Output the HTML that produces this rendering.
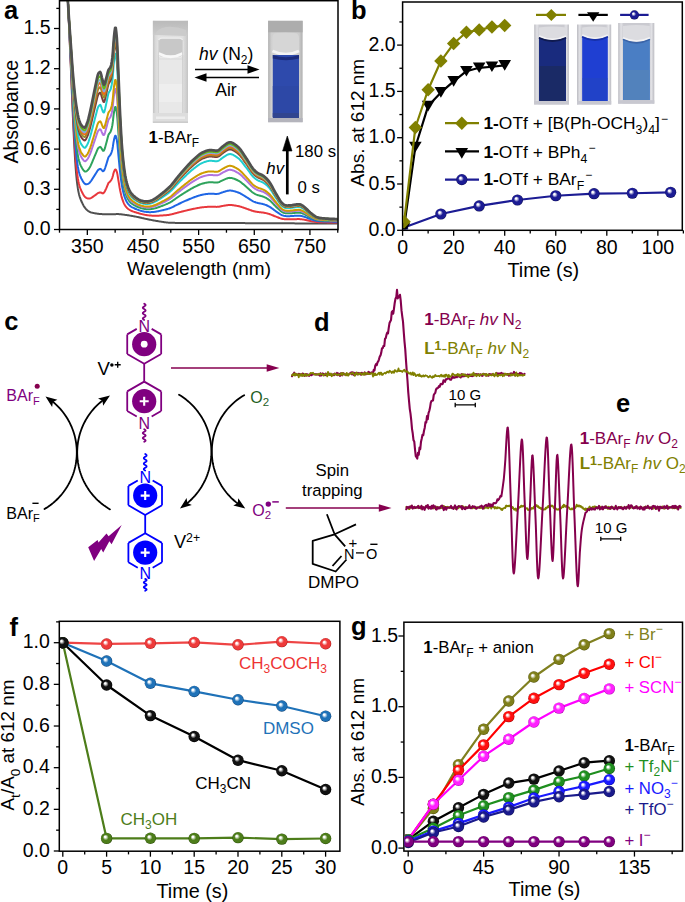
<!DOCTYPE html><html><head><meta charset="utf-8"><style>html,body{margin:0;padding:0;background:#fff;}svg{display:block;}</style></head><body><svg width="685" height="902" viewBox="0 0 685 902" font-family='"Liberation Sans", sans-serif'><rect width="685" height="902" fill="#fff"/><defs><clipPath id="clipA"><rect x="60" y="1.2" width="277.3" height="227.6"/></clipPath><clipPath id="clipB"><rect x="403.3" y="2.6" width="278.3" height="227"/></clipPath><clipPath id="clipF"><rect x="60" y="622" width="279.3" height="228.5"/></clipPath><clipPath id="clipG"><rect x="404.5" y="622.8" width="277.5" height="227.6"/></clipPath></defs>
<g clip-path="url(#clipA)">
<path d="M59.5,-172.5 L60.06,-162.11 L60.61,-151.59 L61.17,-140.85 L61.73,-129.85 L62.28,-118.54 L62.84,-106.92 L63.4,-95.02 L63.95,-82.94 L64.51,-70.83 L65.06,-58.79 L65.62,-46.88 L66.18,-35.07 L66.73,-23.28 L67.29,-11.45 L67.85,0.48 L68.4,12.53 L68.96,24.71 L69.52,37.05 L70.07,49.63 L70.63,62.57 L71.19,75.91 L71.74,89.49 L72.3,102.98 L72.86,115.94 L73.41,128.13 L73.97,139.49 L74.53,149.98 L75.08,159.46 L75.64,167.67 L76.19,174.51 L76.75,180.09 L77.31,184.66 L77.86,188.46 L78.42,191.6 L78.98,194.16 L79.53,196.24 L80.09,197.97 L80.65,199.45 L81.2,200.77 L81.76,202 L82.32,203.18 L82.87,204.31 L83.43,205.38 L83.99,206.35 L84.54,207.21 L85.1,207.96 L85.66,208.63 L86.21,209.22 L86.77,209.77 L87.33,210.27 L87.88,210.72 L88.44,211.13 L88.99,211.48 L89.55,211.79 L90.11,212.04 L90.66,212.25 L91.22,212.44 L91.78,212.6 L92.33,212.75 L92.89,212.89 L93.45,213.01 L94,213.12 L94.56,213.23 L95.12,213.32 L95.67,213.42 L96.23,213.51 L96.79,213.59 L97.34,213.67 L97.9,213.75 L98.45,213.82 L99.01,213.89 L99.57,213.95 L100.12,214 L100.68,214.05 L101.24,214.08 L101.79,214.12 L102.35,214.15 L102.91,214.17 L103.46,214.2 L104.02,214.22 L104.58,214.25 L105.13,214.27 L105.69,214.29 L106.25,214.3 L106.8,214.32 L107.36,214.33 L107.92,214.34 L108.47,214.35 L109.03,214.35 L109.59,214.35 L110.14,214.35 L110.7,214.34 L111.25,214.33 L111.81,214.31 L112.37,214.29 L112.92,214.26 L113.48,214.24 L114.04,214.21 L114.59,214.19 L115.15,214.16 L115.71,214.14 L116.26,214.12 L116.82,214.11 L117.38,214.1 L117.93,214.1 L118.49,214.11 L119.05,214.13 L119.6,214.16 L120.16,214.21 L120.72,214.26 L121.27,214.32 L121.83,214.39 L122.38,214.46 L122.94,214.54 L123.5,214.62 L124.05,214.7 L124.61,214.79 L125.17,214.87 L125.72,214.95 L126.28,215.03 L126.84,215.11 L127.39,215.19 L127.95,215.27 L128.51,215.35 L129.06,215.44 L129.62,215.53 L130.18,215.63 L130.73,215.72 L131.29,215.82 L131.84,215.91 L132.4,216.01 L132.96,216.12 L133.51,216.22 L134.07,216.32 L134.63,216.43 L135.18,216.53 L135.74,216.64 L136.3,216.75 L136.85,216.86 L137.41,216.97 L137.97,217.09 L138.52,217.21 L139.08,217.33 L139.64,217.46 L140.19,217.58 L140.75,217.71 L141.31,217.84 L141.86,217.97 L142.42,218.1 L142.97,218.23 L143.53,218.35 L144.09,218.48 L144.64,218.61 L145.2,218.74 L145.76,218.86 L146.31,218.98 L146.87,219.1 L147.43,219.22 L147.98,219.34 L148.54,219.45 L149.1,219.56 L149.65,219.67 L150.21,219.78 L150.77,219.89 L151.32,220 L151.88,220.11 L152.44,220.21 L152.99,220.32 L153.55,220.42 L154.11,220.53 L154.66,220.63 L155.22,220.73 L155.77,220.83 L156.33,220.93 L156.89,221.02 L157.44,221.11 L158,221.2 L158.56,221.29 L159.11,221.38 L159.67,221.46 L160.23,221.54 L160.78,221.63 L161.34,221.71 L161.9,221.8 L162.45,221.88 L163.01,221.97 L163.57,222.06 L164.12,222.14 L164.68,222.22 L165.24,222.3 L165.79,222.37 L166.35,222.45 L166.9,222.51 L167.46,222.57 L168.02,222.63 L168.57,222.68 L169.13,222.72 L169.69,222.75 L170.24,222.78 L170.8,222.8 L171.36,222.81 L171.91,222.82 L172.47,222.83 L173.03,222.84 L173.58,222.85 L174.14,222.86 L174.7,222.87 L175.25,222.88 L175.81,222.89 L176.37,222.9 L176.92,222.91 L177.48,222.92 L178.03,222.93 L178.59,222.93 L179.15,222.94 L179.7,222.95 L180.26,222.96 L180.82,222.96 L181.37,222.97 L181.93,222.98 L182.49,222.98 L183.04,222.99 L183.6,222.99 L184.16,223 L184.71,223 L185.27,223.01 L185.83,223.01 L186.38,223.02 L186.94,223.02 L187.5,223.03 L188.05,223.03 L188.61,223.04 L189.16,223.04 L189.72,223.04 L190.28,223.05 L190.83,223.05 L191.39,223.05 L191.95,223.05 L192.5,223.06 L193.06,223.06 L193.62,223.06 L194.17,223.06 L194.73,223.06 L195.29,223.06 L195.84,223.07 L196.4,223.07 L196.96,223.07 L197.51,223.07 L198.07,223.07 L198.62,223.07 L199.18,223.07 L199.74,223.07 L200.29,223.07 L200.85,223.07 L201.41,223.07 L201.96,223.07 L202.52,223.07 L203.08,223.07 L203.63,223.07 L204.19,223.07 L204.75,223.07 L205.3,223.07 L205.86,223.07 L206.42,223.07 L206.97,223.07 L207.53,223.07 L208.09,223.07 L208.64,223.07 L209.2,223.07 L209.75,223.07 L210.31,223.07 L210.87,223.07 L211.42,223.07 L211.98,223.07 L212.54,223.07 L213.09,223.07 L213.65,223.07 L214.21,223.07 L214.76,223.07 L215.32,223.07 L215.88,223.07 L216.43,223.07 L216.99,223.07 L217.55,223.07 L218.1,223.07 L218.66,223.07 L219.22,223.07 L219.77,223.07 L220.33,223.07 L220.88,223.07 L221.44,223.07 L222,223.07 L222.55,223.07 L223.11,223.07 L223.67,223.07 L224.22,223.07 L224.78,223.07 L225.34,223.07 L225.89,223.07 L226.45,223.07 L227.01,223.07 L227.56,223.07 L228.12,223.07 L228.68,223.07 L229.23,223.07 L229.79,223.07 L230.35,223.07 L230.9,223.07 L231.46,223.07 L232.01,223.07 L232.57,223.08 L233.13,223.08 L233.68,223.08 L234.24,223.08 L234.8,223.08 L235.35,223.08 L235.91,223.08 L236.47,223.09 L237.02,223.09 L237.58,223.09 L238.14,223.09 L238.69,223.09 L239.25,223.1 L239.81,223.1 L240.36,223.1 L240.92,223.1 L241.48,223.11 L242.03,223.11 L242.59,223.11 L243.15,223.11 L243.7,223.12 L244.26,223.12 L244.81,223.12 L245.37,223.13 L245.93,223.13 L246.48,223.13 L247.04,223.14 L247.6,223.14 L248.15,223.14 L248.71,223.15 L249.27,223.15 L249.82,223.15 L250.38,223.16 L250.94,223.16 L251.49,223.16 L252.05,223.17 L252.61,223.17 L253.16,223.17 L253.72,223.18 L254.28,223.18 L254.83,223.18 L255.39,223.19 L255.94,223.19 L256.5,223.19 L257.06,223.2 L257.61,223.2 L258.17,223.2 L258.73,223.21 L259.28,223.21 L259.84,223.22 L260.4,223.22 L260.95,223.22 L261.51,223.23 L262.07,223.23 L262.62,223.23 L263.18,223.24 L263.74,223.24 L264.29,223.24 L264.85,223.25 L265.4,223.25 L265.96,223.26 L266.52,223.26 L267.07,223.26 L267.63,223.27 L268.19,223.27 L268.74,223.27 L269.3,223.28 L269.86,223.28 L270.41,223.28 L270.97,223.29 L271.53,223.29 L272.08,223.29 L272.64,223.29 L273.2,223.3 L273.75,223.3 L274.31,223.3 L274.87,223.31 L275.42,223.31 L275.98,223.31 L276.53,223.31 L277.09,223.32 L277.65,223.32 L278.2,223.32 L278.76,223.32 L279.32,223.33 L279.87,223.33 L280.43,223.33 L280.99,223.33 L281.54,223.33 L282.1,223.34 L282.66,223.34 L283.21,223.34 L283.77,223.34 L284.33,223.34 L284.88,223.34 L285.44,223.35 L286,223.35 L286.55,223.35 L287.11,223.35 L287.66,223.35 L288.22,223.36 L288.78,223.36 L289.33,223.36 L289.89,223.36 L290.45,223.36 L291,223.36 L291.56,223.37 L292.12,223.37 L292.67,223.37 L293.23,223.37 L293.79,223.37 L294.34,223.37 L294.9,223.38 L295.46,223.38 L296.01,223.38 L296.57,223.38 L297.13,223.38 L297.68,223.38 L298.24,223.39 L298.79,223.39 L299.35,223.39 L299.91,223.39 L300.46,223.39 L301.02,223.39 L301.58,223.39 L302.13,223.4 L302.69,223.4 L303.25,223.4 L303.8,223.4 L304.36,223.4 L304.92,223.4 L305.47,223.41 L306.03,223.41 L306.59,223.41 L307.14,223.41 L307.7,223.41 L308.26,223.41 L308.81,223.41 L309.37,223.42 L309.93,223.42 L310.48,223.42 L311.04,223.42 L311.59,223.42 L312.15,223.42 L312.71,223.42 L313.26,223.43 L313.82,223.43 L314.38,223.43 L314.93,223.43 L315.49,223.43 L316.05,223.43 L316.6,223.43 L317.16,223.43 L317.72,223.44 L318.27,223.44 L318.83,223.44 L319.39,223.44 L319.94,223.44 L320.5,223.44 L321.06,223.44 L321.61,223.44 L322.17,223.44 L322.72,223.45 L323.28,223.45 L323.84,223.45 L324.39,223.45 L324.95,223.45 L325.51,223.45 L326.06,223.45 L326.62,223.45 L327.18,223.45 L327.73,223.46 L328.29,223.46 L328.85,223.46 L329.4,223.46 L329.96,223.46 L330.52,223.46 L331.07,223.46 L331.63,223.46 L332.19,223.46 L332.74,223.46 L333.3,223.46 L333.85,223.46 L334.41,223.47 L334.97,223.47 L335.52,223.47 L336.08,223.47 L336.64,223.47 L337.19,223.47 L337.75,223.47" fill="none" stroke="#505050" stroke-width="2.0" stroke-linejoin="round" stroke-linecap="round" />
<path d="M59.5,-172.5 L60.06,-162.14 L60.61,-151.63 L61.17,-140.89 L61.73,-129.89 L62.28,-118.59 L62.84,-106.97 L63.4,-95.05 L63.95,-82.95 L64.51,-70.81 L65.06,-58.77 L65.62,-46.82 L66.18,-34.92 L66.73,-23.07 L67.29,-11.26 L67.85,0.47 L68.4,12.14 L68.96,23.83 L69.52,35.58 L70.07,47.52 L70.63,59.76 L71.19,72.37 L71.74,85.2 L72.3,97.91 L72.86,110.1 L73.41,121.52 L73.97,132.13 L74.53,141.96 L75.08,150.86 L75.64,158.59 L76.19,165.06 L76.75,170.37 L77.31,174.79 L77.86,178.48 L78.42,181.55 L78.98,184.04 L79.53,186.06 L80.09,187.74 L80.65,189.19 L81.2,190.47 L81.76,191.63 L82.32,192.74 L82.87,193.79 L83.43,194.77 L83.99,195.65 L84.54,196.41 L85.1,197.01 L85.66,197.47 L86.21,197.81 L86.77,198.09 L87.33,198.32 L87.88,198.49 L88.44,198.57 L88.99,198.57 L89.55,198.51 L90.11,198.4 L90.66,198.16 L91.22,197.87 L91.78,197.54 L92.33,197.19 L92.89,196.82 L93.45,196.45 L94,196.05 L94.56,195.65 L95.12,195.24 L95.67,194.84 L96.23,194.42 L96.79,193.97 L97.34,193.54 L97.9,193.17 L98.45,192.91 L99.01,192.73 L99.57,192.57 L100.12,192.45 L100.68,192.48 L101.24,192.69 L101.79,192.97 L102.35,193.2 L102.91,193.44 L103.46,193.12 L104.02,192.6 L104.58,191.77 L105.13,190.72 L105.69,189.55 L106.25,188.34 L106.8,187.07 L107.36,185.7 L107.92,184.31 L108.47,182.96 L109.03,182.41 L109.59,181.92 L110.14,181.4 L110.7,180.79 L111.25,179.97 L111.81,178.88 L112.37,177.58 L112.92,175.66 L113.48,173.22 L114.04,171.57 L114.59,170.34 L115.15,169.42 L115.71,169.41 L116.26,170.37 L116.82,171.81 L117.38,174.12 L117.93,177.43 L118.49,180.82 L119.05,184.14 L119.6,187.53 L120.16,190.54 L120.72,193.12 L121.27,195.51 L121.83,197.64 L122.38,199.43 L122.94,200.98 L123.5,202.37 L124.05,203.61 L124.61,204.67 L125.17,205.59 L125.72,206.37 L126.28,207.06 L126.84,207.67 L127.39,208.21 L127.95,208.69 L128.51,209.13 L129.06,209.52 L129.62,209.88 L130.18,210.2 L130.73,210.49 L131.29,210.76 L131.84,211 L132.4,211.22 L132.96,211.43 L133.51,211.62 L134.07,211.82 L134.63,212.01 L135.18,212.19 L135.74,212.37 L136.3,212.55 L136.85,212.72 L137.41,212.89 L137.97,213.06 L138.52,213.22 L139.08,213.38 L139.64,213.54 L140.19,213.7 L140.75,213.85 L141.31,213.99 L141.86,214.13 L142.42,214.26 L142.97,214.39 L143.53,214.51 L144.09,214.63 L144.64,214.75 L145.2,214.86 L145.76,214.97 L146.31,215.06 L146.87,215.15 L147.43,215.23 L147.98,215.3 L148.54,215.37 L149.1,215.43 L149.65,215.49 L150.21,215.54 L150.77,215.58 L151.32,215.62 L151.88,215.65 L152.44,215.68 L152.99,215.7 L153.55,215.72 L154.11,215.73 L154.66,215.74 L155.22,215.74 L155.77,215.74 L156.33,215.73 L156.89,215.72 L157.44,215.7 L158,215.68 L158.56,215.66 L159.11,215.63 L159.67,215.59 L160.23,215.56 L160.78,215.53 L161.34,215.5 L161.9,215.46 L162.45,215.43 L163.01,215.4 L163.57,215.37 L164.12,215.33 L164.68,215.29 L165.24,215.25 L165.79,215.21 L166.35,215.16 L166.9,215.1 L167.46,215.04 L168.02,214.97 L168.57,214.89 L169.13,214.8 L169.69,214.71 L170.24,214.6 L170.8,214.48 L171.36,214.35 L171.91,214.22 L172.47,214.08 L173.03,213.93 L173.58,213.78 L174.14,213.63 L174.7,213.48 L175.25,213.32 L175.81,213.17 L176.37,213.02 L176.92,212.86 L177.48,212.72 L178.03,212.57 L178.59,212.43 L179.15,212.28 L179.7,212.14 L180.26,212 L180.82,211.86 L181.37,211.72 L181.93,211.58 L182.49,211.44 L183.04,211.3 L183.6,211.16 L184.16,211.02 L184.71,210.89 L185.27,210.75 L185.83,210.62 L186.38,210.48 L186.94,210.35 L187.5,210.22 L188.05,210.09 L188.61,209.95 L189.16,209.82 L189.72,209.69 L190.28,209.56 L190.83,209.44 L191.39,209.31 L191.95,209.19 L192.5,209.07 L193.06,208.95 L193.62,208.83 L194.17,208.72 L194.73,208.61 L195.29,208.5 L195.84,208.39 L196.4,208.28 L196.96,208.17 L197.51,208.06 L198.07,207.96 L198.62,207.86 L199.18,207.76 L199.74,207.67 L200.29,207.58 L200.85,207.5 L201.41,207.42 L201.96,207.36 L202.52,207.29 L203.08,207.23 L203.63,207.18 L204.19,207.12 L204.75,207.07 L205.3,207.02 L205.86,206.97 L206.42,206.93 L206.97,206.89 L207.53,206.85 L208.09,206.82 L208.64,206.79 L209.2,206.78 L209.75,206.76 L210.31,206.76 L210.87,206.76 L211.42,206.77 L211.98,206.78 L212.54,206.79 L213.09,206.81 L213.65,206.82 L214.21,206.84 L214.76,206.85 L215.32,206.87 L215.88,206.87 L216.43,206.88 L216.99,206.87 L217.55,206.84 L218.1,206.8 L218.66,206.73 L219.22,206.65 L219.77,206.55 L220.33,206.44 L220.88,206.32 L221.44,206.2 L222,206.09 L222.55,205.99 L223.11,205.89 L223.67,205.79 L224.22,205.69 L224.78,205.6 L225.34,205.5 L225.89,205.41 L226.45,205.32 L227.01,205.23 L227.56,205.16 L228.12,205.1 L228.68,205.05 L229.23,205.02 L229.79,205.01 L230.35,205.01 L230.9,205.03 L231.46,205.07 L232.01,205.11 L232.57,205.17 L233.13,205.23 L233.68,205.31 L234.24,205.39 L234.8,205.48 L235.35,205.57 L235.91,205.67 L236.47,205.77 L237.02,205.87 L237.58,205.98 L238.14,206.09 L238.69,206.21 L239.25,206.34 L239.81,206.48 L240.36,206.64 L240.92,206.8 L241.48,206.97 L242.03,207.16 L242.59,207.34 L243.15,207.54 L243.7,207.73 L244.26,207.92 L244.81,208.12 L245.37,208.31 L245.93,208.5 L246.48,208.69 L247.04,208.88 L247.6,209.08 L248.15,209.28 L248.71,209.49 L249.27,209.69 L249.82,209.9 L250.38,210.1 L250.94,210.3 L251.49,210.49 L252.05,210.68 L252.61,210.86 L253.16,211.02 L253.72,211.17 L254.28,211.31 L254.83,211.44 L255.39,211.55 L255.94,211.66 L256.5,211.77 L257.06,211.86 L257.61,211.94 L258.17,212.02 L258.73,212.09 L259.28,212.15 L259.84,212.21 L260.4,212.27 L260.95,212.33 L261.51,212.39 L262.07,212.46 L262.62,212.53 L263.18,212.61 L263.74,212.7 L264.29,212.8 L264.85,212.91 L265.4,213.02 L265.96,213.13 L266.52,213.26 L267.07,213.39 L267.63,213.54 L268.19,213.69 L268.74,213.85 L269.3,214.02 L269.86,214.21 L270.41,214.4 L270.97,214.61 L271.53,214.83 L272.08,215.06 L272.64,215.29 L273.2,215.53 L273.75,215.76 L274.31,216 L274.87,216.22 L275.42,216.44 L275.98,216.66 L276.53,216.88 L277.09,217.1 L277.65,217.31 L278.2,217.52 L278.76,217.73 L279.32,217.94 L279.87,218.15 L280.43,218.34 L280.99,218.52 L281.54,218.68 L282.1,218.81 L282.66,218.93 L283.21,219.03 L283.77,219.12 L284.33,219.19 L284.88,219.26 L285.44,219.3 L286,219.33 L286.55,219.35 L287.11,219.36 L287.66,219.36 L288.22,219.36 L288.78,219.36 L289.33,219.35 L289.89,219.35 L290.45,219.34 L291,219.33 L291.56,219.31 L292.12,219.29 L292.67,219.27 L293.23,219.25 L293.79,219.23 L294.34,219.21 L294.9,219.19 L295.46,219.17 L296.01,219.15 L296.57,219.14 L297.13,219.12 L297.68,219.11 L298.24,219.11 L298.79,219.11 L299.35,219.12 L299.91,219.15 L300.46,219.19 L301.02,219.24 L301.58,219.3 L302.13,219.37 L302.69,219.44 L303.25,219.53 L303.8,219.62 L304.36,219.73 L304.92,219.84 L305.47,219.95 L306.03,220.07 L306.59,220.19 L307.14,220.31 L307.7,220.43 L308.26,220.55 L308.81,220.67 L309.37,220.79 L309.93,220.9 L310.48,221.01 L311.04,221.12 L311.59,221.23 L312.15,221.33 L312.71,221.43 L313.26,221.53 L313.82,221.62 L314.38,221.71 L314.93,221.79 L315.49,221.86 L316.05,221.93 L316.6,221.99 L317.16,222.04 L317.72,222.09 L318.27,222.13 L318.83,222.16 L319.39,222.19 L319.94,222.21 L320.5,222.23 L321.06,222.25 L321.61,222.27 L322.17,222.28 L322.72,222.3 L323.28,222.31 L323.84,222.32 L324.39,222.33 L324.95,222.34 L325.51,222.35 L326.06,222.36 L326.62,222.37 L327.18,222.38 L327.73,222.39 L328.29,222.4 L328.85,222.4 L329.4,222.41 L329.96,222.42 L330.52,222.42 L331.07,222.43 L331.63,222.43 L332.19,222.44 L332.74,222.45 L333.3,222.45 L333.85,222.46 L334.41,222.46 L334.97,222.47 L335.52,222.47 L336.08,222.47 L336.64,222.48 L337.19,222.48 L337.75,222.48" fill="none" stroke="#e8373c" stroke-width="2.0" stroke-linejoin="round" stroke-linecap="round" />
<path d="M59.5,-172.5 L60.06,-162.17 L60.61,-151.67 L61.17,-140.93 L61.73,-129.93 L62.28,-118.65 L62.84,-107.02 L63.4,-95.08 L63.95,-82.95 L64.51,-70.79 L65.06,-58.74 L65.62,-46.74 L66.18,-34.73 L66.73,-22.81 L67.29,-11.05 L67.85,0.45 L68.4,11.68 L68.96,22.78 L69.52,33.85 L70.07,45.01 L70.63,56.43 L71.19,68.17 L71.74,80.1 L72.3,91.88 L72.86,103.15 L73.41,113.66 L73.97,123.4 L74.53,132.44 L75.08,140.64 L75.64,147.81 L76.19,153.82 L76.75,158.83 L77.31,163.05 L77.86,166.63 L78.42,169.61 L78.98,172.01 L79.53,173.96 L80.09,175.6 L80.65,177 L81.2,178.23 L81.76,179.32 L82.32,180.32 L82.87,181.28 L83.43,182.16 L83.99,182.93 L84.54,183.57 L85.1,184.01 L85.66,184.21 L86.21,184.26 L86.77,184.22 L87.33,184.13 L87.88,183.96 L88.44,183.65 L88.99,183.23 L89.55,182.73 L90.11,182.19 L90.66,181.49 L91.22,180.71 L91.78,179.88 L92.33,179.02 L92.89,178.16 L93.45,177.29 L94,176.4 L94.56,175.5 L95.12,174.61 L95.67,173.74 L96.23,172.84 L96.79,171.88 L97.34,170.97 L97.9,170.21 L98.45,169.7 L99.01,169.35 L99.57,169.05 L100.12,168.85 L100.68,168.98 L101.24,169.48 L101.79,170.12 L102.35,170.69 L102.91,171.26 L103.46,171.13 L104.02,170.6 L104.58,169.49 L105.13,167.99 L105.69,166.28 L106.25,164.57 L106.8,162.8 L107.36,160.9 L107.92,159 L108.47,157.26 L109.03,156.51 L109.59,155.86 L110.14,155.18 L110.7,154.36 L111.25,153.16 L111.81,151.51 L112.37,149.51 L112.92,146.43 L113.48,142.46 L114.04,139.59 L114.59,137.45 L115.15,135.87 L115.71,135.87 L116.26,137.56 L116.82,140.09 L117.38,144.14 L117.93,149.93 L118.49,155.85 L119.05,161.64 L119.6,167.56 L120.16,172.79 L120.72,177.27 L121.27,181.41 L121.83,185.07 L122.38,188.12 L122.94,190.73 L123.5,193.09 L124.05,195.16 L124.61,196.95 L125.17,198.48 L125.72,199.78 L126.28,200.91 L126.84,201.91 L127.39,202.79 L127.95,203.56 L128.51,204.26 L129.06,204.87 L129.62,205.42 L130.18,205.91 L130.73,206.34 L131.29,206.73 L131.84,207.08 L132.4,207.39 L132.96,207.68 L133.51,207.95 L134.07,208.21 L134.63,208.47 L135.18,208.72 L135.74,208.96 L136.3,209.19 L136.85,209.42 L137.41,209.63 L137.97,209.84 L138.52,210.03 L139.08,210.23 L139.64,210.41 L140.19,210.59 L140.75,210.76 L141.31,210.91 L141.86,211.06 L142.42,211.19 L142.97,211.32 L143.53,211.44 L144.09,211.56 L144.64,211.66 L145.2,211.76 L145.76,211.85 L146.31,211.93 L146.87,211.99 L147.43,212.04 L147.98,212.08 L148.54,212.11 L149.1,212.13 L149.65,212.14 L150.21,212.14 L150.77,212.14 L151.32,212.12 L151.88,212.09 L152.44,212.06 L152.99,212.01 L153.55,211.96 L154.11,211.89 L154.66,211.83 L155.22,211.75 L155.77,211.67 L156.33,211.58 L156.89,211.48 L157.44,211.38 L158,211.27 L158.56,211.15 L159.11,211.03 L159.67,210.9 L160.23,210.78 L160.78,210.65 L161.34,210.53 L161.9,210.4 L162.45,210.27 L163.01,210.15 L163.57,210.02 L164.12,209.89 L164.68,209.76 L165.24,209.62 L165.79,209.48 L166.35,209.33 L166.9,209.17 L167.46,209.01 L168.02,208.84 L168.57,208.66 L169.13,208.47 L169.69,208.27 L170.24,208.06 L170.8,207.83 L171.36,207.59 L171.91,207.34 L172.47,207.08 L173.03,206.81 L173.58,206.53 L174.14,206.25 L174.7,205.97 L175.25,205.68 L175.81,205.39 L176.37,205.11 L176.92,204.83 L177.48,204.56 L178.03,204.29 L178.59,204.02 L179.15,203.76 L179.7,203.5 L180.26,203.24 L180.82,202.98 L181.37,202.72 L181.93,202.46 L182.49,202.2 L183.04,201.95 L183.6,201.7 L184.16,201.45 L184.71,201.2 L185.27,200.95 L185.83,200.7 L186.38,200.46 L186.94,200.22 L187.5,199.98 L188.05,199.73 L188.61,199.49 L189.16,199.25 L189.72,199.02 L190.28,198.78 L190.83,198.55 L191.39,198.32 L191.95,198.1 L192.5,197.88 L193.06,197.67 L193.62,197.46 L194.17,197.25 L194.73,197.05 L195.29,196.85 L195.84,196.65 L196.4,196.45 L196.96,196.26 L197.51,196.06 L198.07,195.88 L198.62,195.69 L199.18,195.52 L199.74,195.35 L200.29,195.19 L200.85,195.05 L201.41,194.91 L201.96,194.79 L202.52,194.68 L203.08,194.57 L203.63,194.47 L204.19,194.37 L204.75,194.28 L205.3,194.19 L205.86,194.1 L206.42,194.02 L206.97,193.95 L207.53,193.88 L208.09,193.83 L208.64,193.78 L209.2,193.75 L209.75,193.73 L210.31,193.72 L210.87,193.72 L211.42,193.73 L211.98,193.75 L212.54,193.78 L213.09,193.8 L213.65,193.83 L214.21,193.86 L214.76,193.88 L215.32,193.91 L215.88,193.93 L216.43,193.93 L216.99,193.92 L217.55,193.87 L218.1,193.79 L218.66,193.67 L219.22,193.51 L219.77,193.33 L220.33,193.13 L220.88,192.93 L221.44,192.72 L222,192.52 L222.55,192.33 L223.11,192.15 L223.67,191.97 L224.22,191.8 L224.78,191.63 L225.34,191.45 L225.89,191.28 L226.45,191.12 L227.01,190.97 L227.56,190.84 L228.12,190.73 L228.68,190.64 L229.23,190.59 L229.79,190.57 L230.35,190.57 L230.9,190.61 L231.46,190.67 L232.01,190.75 L232.57,190.85 L233.13,190.97 L233.68,191.1 L234.24,191.24 L234.8,191.4 L235.35,191.57 L235.91,191.74 L236.47,191.92 L237.02,192.11 L237.58,192.3 L238.14,192.49 L238.69,192.71 L239.25,192.94 L239.81,193.19 L240.36,193.47 L240.92,193.76 L241.48,194.07 L242.03,194.4 L242.59,194.74 L243.15,195.08 L243.7,195.43 L244.26,195.77 L244.81,196.12 L245.37,196.46 L245.93,196.8 L246.48,197.14 L247.04,197.49 L247.6,197.84 L248.15,198.2 L248.71,198.56 L249.27,198.93 L249.82,199.3 L250.38,199.66 L250.94,200.02 L251.49,200.37 L252.05,200.7 L252.61,201.01 L253.16,201.3 L253.72,201.57 L254.28,201.82 L254.83,202.04 L255.39,202.25 L255.94,202.45 L256.5,202.63 L257.06,202.79 L257.61,202.94 L258.17,203.08 L258.73,203.2 L259.28,203.31 L259.84,203.41 L260.4,203.51 L260.95,203.61 L261.51,203.72 L262.07,203.84 L262.62,203.97 L263.18,204.12 L263.74,204.28 L264.29,204.45 L264.85,204.64 L265.4,204.83 L265.96,205.04 L266.52,205.26 L267.07,205.5 L267.63,205.76 L268.19,206.03 L268.74,206.32 L269.3,206.63 L269.86,206.95 L270.41,207.3 L270.97,207.67 L271.53,208.06 L272.08,208.47 L272.64,208.89 L273.2,209.32 L273.75,209.74 L274.31,210.15 L274.87,210.56 L275.42,210.96 L275.98,211.35 L276.53,211.74 L277.09,212.12 L277.65,212.5 L278.2,212.88 L278.76,213.26 L279.32,213.64 L279.87,214 L280.43,214.35 L280.99,214.67 L281.54,214.96 L282.1,215.2 L282.66,215.4 L283.21,215.58 L283.77,215.74 L284.33,215.87 L284.88,215.98 L285.44,216.07 L286,216.12 L286.55,216.15 L287.11,216.17 L287.66,216.17 L288.22,216.16 L288.78,216.16 L289.33,216.15 L289.89,216.14 L290.45,216.12 L291,216.1 L291.56,216.07 L292.12,216.03 L292.67,215.99 L293.23,215.95 L293.79,215.91 L294.34,215.87 L294.9,215.84 L295.46,215.8 L296.01,215.77 L296.57,215.74 L297.13,215.72 L297.68,215.7 L298.24,215.69 L298.79,215.69 L299.35,215.71 L299.91,215.75 L300.46,215.82 L301.02,215.91 L301.58,216.02 L302.13,216.15 L302.69,216.28 L303.25,216.44 L303.8,216.6 L304.36,216.79 L304.92,216.98 L305.47,217.19 L306.03,217.39 L306.59,217.61 L307.14,217.83 L307.7,218.04 L308.26,218.26 L308.81,218.48 L309.37,218.69 L309.93,218.89 L310.48,219.09 L311.04,219.29 L311.59,219.48 L312.15,219.66 L312.71,219.84 L313.26,220.01 L313.82,220.17 L314.38,220.33 L314.93,220.48 L315.49,220.61 L316.05,220.73 L316.6,220.84 L317.16,220.93 L317.72,221.01 L318.27,221.08 L318.83,221.14 L319.39,221.19 L319.94,221.23 L320.5,221.27 L321.06,221.3 L321.61,221.33 L322.17,221.35 L322.72,221.38 L323.28,221.4 L323.84,221.42 L324.39,221.44 L324.95,221.46 L325.51,221.48 L326.06,221.49 L326.62,221.51 L327.18,221.52 L327.73,221.53 L328.29,221.55 L328.85,221.56 L329.4,221.57 L329.96,221.58 L330.52,221.59 L331.07,221.6 L331.63,221.61 L332.19,221.62 L332.74,221.63 L333.3,221.64 L333.85,221.65 L334.41,221.66 L334.97,221.67 L335.52,221.67 L336.08,221.68 L336.64,221.68 L337.19,221.69 L337.75,221.69" fill="none" stroke="#1f66e5" stroke-width="2.0" stroke-linejoin="round" stroke-linecap="round" />
<path d="M59.5,-172.5 L60.06,-162.2 L60.61,-151.71 L61.17,-140.97 L61.73,-129.98 L62.28,-118.7 L62.84,-107.08 L63.4,-95.11 L63.95,-82.95 L64.51,-70.76 L65.06,-58.71 L65.62,-46.66 L66.18,-34.56 L66.73,-22.56 L67.29,-10.84 L67.85,0.43 L68.4,11.24 L68.96,21.78 L69.52,32.19 L70.07,42.62 L70.63,53.25 L71.19,64.17 L71.74,75.23 L72.3,86.13 L72.86,96.53 L73.41,106.16 L73.97,115.07 L74.53,123.36 L75.08,130.9 L75.64,137.52 L76.19,143.11 L76.75,147.81 L77.31,151.86 L77.86,155.32 L78.42,158.22 L78.98,160.54 L79.53,162.42 L80.09,164.02 L80.65,165.38 L81.2,166.56 L81.76,167.57 L82.32,168.48 L82.87,169.35 L83.43,170.14 L83.99,170.81 L84.54,171.33 L85.1,171.6 L85.66,171.57 L86.21,171.33 L86.77,170.98 L87.33,170.59 L87.88,170.1 L88.44,169.42 L88.99,168.59 L89.55,167.68 L90.11,166.73 L90.66,165.6 L91.22,164.38 L91.78,163.09 L92.33,161.78 L92.89,160.47 L93.45,159.16 L94,157.81 L94.56,156.47 L95.12,155.14 L95.67,153.86 L96.23,152.53 L96.79,151.12 L97.34,149.79 L97.9,148.68 L98.45,147.95 L99.01,147.47 L99.57,147.07 L100.12,146.83 L100.68,147.07 L101.24,147.86 L101.79,148.88 L102.35,149.78 L102.91,150.68 L103.46,150.85 L104.02,150.45 L104.58,149.2 L105.13,147.42 L105.69,145.35 L106.25,143.3 L106.8,141.22 L107.36,138.96 L107.92,136.75 L108.47,134.78 L109.03,133.89 L109.59,133.15 L110.14,132.38 L110.7,131.4 L111.25,129.91 L111.81,127.82 L112.37,125.25 L112.92,121.21 L113.48,115.98 L114.04,112.05 L114.59,109.13 L115.15,106.97 L115.71,106.98 L116.26,109.31 L116.82,112.78 L117.38,118.32 L117.93,126.25 L118.49,134.35 L119.05,142.27 L119.6,150.36 L120.16,157.51 L120.72,163.62 L121.27,169.26 L121.83,174.25 L122.38,178.36 L122.94,181.89 L123.5,185.06 L124.05,187.86 L124.61,190.26 L125.17,192.31 L125.72,194.05 L126.28,195.56 L126.84,196.9 L127.39,198.06 L127.95,199.09 L128.51,200 L129.06,200.81 L129.62,201.52 L130.18,202.15 L130.73,202.7 L131.29,203.18 L131.84,203.63 L132.4,204.02 L132.96,204.38 L133.51,204.72 L134.07,205.05 L134.63,205.36 L135.18,205.67 L135.74,205.96 L136.3,206.24 L136.85,206.51 L137.41,206.76 L137.97,207 L138.52,207.23 L139.08,207.45 L139.64,207.66 L140.19,207.86 L140.75,208.04 L141.31,208.21 L141.86,208.36 L142.42,208.49 L142.97,208.62 L143.53,208.74 L144.09,208.85 L144.64,208.95 L145.2,209.04 L145.76,209.12 L146.31,209.17 L146.87,209.22 L147.43,209.24 L147.98,209.25 L148.54,209.24 L149.1,209.22 L149.65,209.2 L150.21,209.16 L150.77,209.11 L151.32,209.04 L151.88,208.96 L152.44,208.87 L152.99,208.76 L153.55,208.65 L154.11,208.52 L154.66,208.39 L155.22,208.25 L155.77,208.09 L156.33,207.93 L156.89,207.76 L157.44,207.57 L158,207.38 L158.56,207.19 L159.11,206.99 L159.67,206.78 L160.23,206.57 L160.78,206.36 L161.34,206.15 L161.9,205.95 L162.45,205.74 L163.01,205.53 L163.57,205.32 L164.12,205.1 L164.68,204.89 L165.24,204.66 L165.79,204.44 L166.35,204.2 L166.9,203.96 L167.46,203.71 L168.02,203.46 L168.57,203.19 L169.13,202.91 L169.69,202.62 L170.24,202.31 L170.8,201.98 L171.36,201.65 L171.91,201.29 L172.47,200.92 L173.03,200.54 L173.58,200.15 L174.14,199.76 L174.7,199.36 L175.25,198.96 L175.81,198.56 L176.37,198.16 L176.92,197.77 L177.48,197.39 L178.03,197.01 L178.59,196.63 L179.15,196.26 L179.7,195.9 L180.26,195.53 L180.82,195.17 L181.37,194.81 L181.93,194.44 L182.49,194.09 L183.04,193.73 L183.6,193.38 L184.16,193.02 L184.71,192.68 L185.27,192.33 L185.83,191.99 L186.38,191.65 L186.94,191.31 L187.5,190.97 L188.05,190.63 L188.61,190.29 L189.16,189.96 L189.72,189.63 L190.28,189.3 L190.83,188.98 L191.39,188.66 L191.95,188.35 L192.5,188.04 L193.06,187.75 L193.62,187.46 L194.17,187.17 L194.73,186.89 L195.29,186.61 L195.84,186.33 L196.4,186.06 L196.96,185.78 L197.51,185.51 L198.07,185.25 L198.62,185 L199.18,184.75 L199.74,184.52 L200.29,184.3 L200.85,184.1 L201.41,183.91 L201.96,183.74 L202.52,183.59 L203.08,183.44 L203.63,183.3 L204.19,183.16 L204.75,183.03 L205.3,182.9 L205.86,182.78 L206.42,182.67 L206.97,182.57 L207.53,182.48 L208.09,182.4 L208.64,182.34 L209.2,182.29 L209.75,182.26 L210.31,182.25 L210.87,182.25 L211.42,182.27 L211.98,182.3 L212.54,182.33 L213.09,182.37 L213.65,182.41 L214.21,182.45 L214.76,182.48 L215.32,182.52 L215.88,182.54 L216.43,182.55 L216.99,182.53 L217.55,182.46 L218.1,182.35 L218.66,182.18 L219.22,181.97 L219.77,181.72 L220.33,181.44 L220.88,181.15 L221.44,180.86 L222,180.58 L222.55,180.32 L223.11,180.06 L223.67,179.82 L224.22,179.58 L224.78,179.34 L225.34,179.1 L225.89,178.86 L226.45,178.64 L227.01,178.43 L227.56,178.25 L228.12,178.09 L228.68,177.97 L229.23,177.9 L229.79,177.87 L230.35,177.88 L230.9,177.92 L231.46,178.01 L232.01,178.12 L232.57,178.26 L233.13,178.42 L233.68,178.6 L234.24,178.81 L234.8,179.02 L235.35,179.26 L235.91,179.5 L236.47,179.74 L237.02,180 L237.58,180.26 L238.14,180.54 L238.69,180.83 L239.25,181.16 L239.81,181.51 L240.36,181.89 L240.92,182.3 L241.48,182.73 L242.03,183.18 L242.59,183.65 L243.15,184.12 L243.7,184.61 L244.26,185.09 L244.81,185.57 L245.37,186.04 L245.93,186.52 L246.48,186.99 L247.04,187.47 L247.6,187.96 L248.15,188.45 L248.71,188.96 L249.27,189.47 L249.82,189.98 L250.38,190.49 L250.94,190.98 L251.49,191.46 L252.05,191.92 L252.61,192.35 L253.16,192.75 L253.72,193.13 L254.28,193.47 L254.83,193.78 L255.39,194.07 L255.94,194.34 L256.5,194.59 L257.06,194.82 L257.61,195.03 L258.17,195.21 L258.73,195.38 L259.28,195.53 L259.84,195.67 L260.4,195.81 L260.95,195.95 L261.51,196.1 L262.07,196.26 L262.62,196.45 L263.18,196.65 L263.74,196.87 L264.29,197.11 L264.85,197.36 L265.4,197.63 L265.96,197.92 L266.52,198.23 L267.07,198.57 L267.63,198.92 L268.19,199.3 L268.74,199.7 L269.3,200.12 L269.86,200.57 L270.41,201.05 L270.97,201.56 L271.53,202.11 L272.08,202.68 L272.64,203.26 L273.2,203.85 L273.75,204.44 L274.31,205.01 L274.87,205.58 L275.42,206.13 L275.98,206.68 L276.53,207.21 L277.09,207.75 L277.65,208.27 L278.2,208.8 L278.76,209.32 L279.32,209.85 L279.87,210.36 L280.43,210.85 L280.99,211.29 L281.54,211.68 L282.1,212.02 L282.66,212.3 L283.21,212.55 L283.77,212.77 L284.33,212.96 L284.88,213.11 L285.44,213.22 L286,213.3 L286.55,213.34 L287.11,213.36 L287.66,213.36 L288.22,213.35 L288.78,213.34 L289.33,213.33 L289.89,213.31 L290.45,213.29 L291,213.26 L291.56,213.22 L292.12,213.16 L292.67,213.11 L293.23,213.05 L293.79,212.99 L294.34,212.94 L294.9,212.89 L295.46,212.85 L296.01,212.8 L296.57,212.76 L297.13,212.72 L297.68,212.69 L298.24,212.68 L298.79,212.68 L299.35,212.71 L299.91,212.77 L300.46,212.86 L301.02,212.99 L301.58,213.14 L302.13,213.31 L302.69,213.5 L303.25,213.72 L303.8,213.95 L304.36,214.2 L304.92,214.47 L305.47,214.76 L306.03,215.05 L306.59,215.34 L307.14,215.64 L307.7,215.95 L308.26,216.25 L308.81,216.55 L309.37,216.84 L309.93,217.12 L310.48,217.4 L311.04,217.67 L311.59,217.94 L312.15,218.19 L312.71,218.44 L313.26,218.68 L313.82,218.9 L314.38,219.12 L314.93,219.32 L315.49,219.51 L316.05,219.68 L316.6,219.82 L317.16,219.95 L317.72,220.06 L318.27,220.16 L318.83,220.24 L319.39,220.31 L319.94,220.37 L320.5,220.42 L321.06,220.46 L321.61,220.5 L322.17,220.54 L322.72,220.57 L323.28,220.6 L323.84,220.63 L324.39,220.66 L324.95,220.68 L325.51,220.7 L326.06,220.73 L326.62,220.75 L327.18,220.77 L327.73,220.78 L328.29,220.8 L328.85,220.82 L329.4,220.83 L329.96,220.85 L330.52,220.86 L331.07,220.88 L331.63,220.89 L332.19,220.9 L332.74,220.92 L333.3,220.93 L333.85,220.94 L334.41,220.95 L334.97,220.96 L335.52,220.97 L336.08,220.98 L336.64,220.99 L337.19,220.99 L337.75,221" fill="none" stroke="#2ea35c" stroke-width="2.0" stroke-linejoin="round" stroke-linecap="round" />
<path d="M59.5,-172.5 L60.06,-162.23 L60.61,-151.74 L61.17,-141.01 L61.73,-130.01 L62.28,-118.75 L62.84,-107.12 L63.4,-95.14 L63.95,-82.95 L64.51,-70.75 L65.06,-58.68 L65.62,-46.6 L66.18,-34.41 L66.73,-22.36 L67.29,-10.67 L67.85,0.41 L68.4,10.87 L68.96,20.95 L69.52,30.81 L70.07,40.63 L70.63,50.59 L71.19,60.82 L71.74,71.17 L72.3,81.33 L72.86,91 L73.41,99.9 L73.97,108.11 L74.53,115.77 L75.08,122.76 L75.64,128.93 L76.19,134.16 L76.75,138.62 L77.31,142.51 L77.86,145.88 L78.42,148.71 L78.98,150.96 L79.53,152.78 L80.09,154.34 L80.65,155.67 L81.2,156.81 L81.76,157.75 L82.32,158.59 L82.87,159.39 L83.43,160.09 L83.99,160.68 L84.54,161.11 L85.1,161.23 L85.66,161.01 L86.21,160.54 L86.77,159.93 L87.33,159.29 L87.88,158.52 L88.44,157.53 L88.99,156.37 L89.55,155.11 L90.11,153.82 L90.66,152.37 L91.22,150.81 L91.78,149.18 L92.33,147.52 L92.89,145.88 L93.45,144.23 L94,142.56 L94.56,140.88 L95.12,139.24 L95.67,137.67 L96.23,136.03 L96.79,134.3 L97.34,132.67 L97.9,131.33 L98.45,130.46 L99.01,129.93 L99.57,129.5 L100.12,129.26 L100.68,129.64 L101.24,130.72 L101.79,132.07 L102.35,133.28 L102.91,134.48 L103.46,135.12 L104.02,135.05 L104.58,133.95 L105.13,132.19 L105.69,130.11 L106.25,128.08 L106.8,126.03 L107.36,123.81 L107.92,121.65 L108.47,119.82 L109.03,118.94 L109.59,118.23 L110.14,117.5 L110.7,116.52 L111.25,114.95 L111.81,112.68 L112.37,109.84 L112.92,105.31 L113.48,99.4 L114.04,94.82 L114.59,91.41 L115.15,88.89 L115.71,88.9 L116.26,91.63 L116.82,95.68 L117.38,102.16 L117.93,111.43 L118.49,120.9 L119.05,130.14 L119.6,139.6 L120.16,147.94 L120.72,155.08 L121.27,161.66 L121.83,167.48 L122.38,172.26 L122.94,176.34 L123.5,180.03 L124.05,183.27 L124.61,186.06 L125.17,188.43 L125.72,190.46 L126.28,192.2 L126.84,193.75 L127.39,195.09 L127.95,196.27 L128.51,197.32 L129.06,198.24 L129.62,199.06 L130.18,199.77 L130.73,200.39 L131.29,200.94 L131.84,201.44 L132.4,201.88 L132.96,202.29 L133.51,202.67 L134.07,203.04 L134.63,203.39 L135.18,203.73 L135.74,204.06 L136.3,204.37 L136.85,204.67 L137.41,204.94 L137.97,205.21 L138.52,205.46 L139.08,205.69 L139.64,205.92 L140.19,206.13 L140.75,206.32 L141.31,206.49 L141.86,206.65 L142.42,206.79 L142.97,206.91 L143.53,207.03 L144.09,207.14 L144.64,207.23 L145.2,207.32 L145.76,207.38 L146.31,207.43 L146.87,207.46 L147.43,207.46 L147.98,207.45 L148.54,207.43 L149.1,207.39 L149.65,207.33 L150.21,207.27 L150.77,207.19 L151.32,207.1 L151.88,206.98 L152.44,206.85 L152.99,206.71 L153.55,206.55 L154.11,206.39 L154.66,206.21 L155.22,206.03 L155.77,205.83 L156.33,205.62 L156.89,205.4 L157.44,205.17 L158,204.93 L158.56,204.68 L159.11,204.43 L159.67,204.17 L160.23,203.91 L160.78,203.65 L161.34,203.39 L161.9,203.13 L162.45,202.87 L163.01,202.6 L163.57,202.34 L164.12,202.07 L164.68,201.8 L165.24,201.53 L165.79,201.25 L166.35,200.96 L166.9,200.66 L167.46,200.36 L168.02,200.05 L168.57,199.72 L169.13,199.38 L169.69,199.03 L170.24,198.67 L170.8,198.28 L171.36,197.88 L171.91,197.46 L172.47,197.03 L173.03,196.58 L173.58,196.12 L174.14,195.65 L174.7,195.18 L175.25,194.7 L175.81,194.23 L176.37,193.76 L176.92,193.3 L177.48,192.85 L178.03,192.4 L178.59,191.96 L179.15,191.52 L179.7,191.09 L180.26,190.65 L180.82,190.22 L181.37,189.8 L181.93,189.37 L182.49,188.95 L183.04,188.53 L183.6,188.11 L184.16,187.69 L184.71,187.28 L185.27,186.87 L185.83,186.47 L186.38,186.07 L186.94,185.67 L187.5,185.27 L188.05,184.87 L188.61,184.47 L189.16,184.08 L189.72,183.69 L190.28,183.3 L190.83,182.92 L191.39,182.54 L191.95,182.18 L192.5,181.82 L193.06,181.47 L193.62,181.12 L194.17,180.79 L194.73,180.46 L195.29,180.13 L195.84,179.8 L196.4,179.47 L196.96,179.15 L197.51,178.84 L198.07,178.53 L198.62,178.23 L199.18,177.94 L199.74,177.67 L200.29,177.41 L200.85,177.17 L201.41,176.95 L201.96,176.75 L202.52,176.56 L203.08,176.39 L203.63,176.23 L204.19,176.07 L204.75,175.91 L205.3,175.76 L205.86,175.62 L206.42,175.49 L206.97,175.37 L207.53,175.26 L208.09,175.17 L208.64,175.09 L209.2,175.04 L209.75,175 L210.31,174.99 L210.87,174.99 L211.42,175.01 L211.98,175.05 L212.54,175.09 L213.09,175.13 L213.65,175.18 L214.21,175.22 L214.76,175.26 L215.32,175.3 L215.88,175.33 L216.43,175.34 L216.99,175.32 L217.55,175.24 L218.1,175.11 L218.66,174.91 L219.22,174.66 L219.77,174.36 L220.33,174.04 L220.88,173.7 L221.44,173.35 L222,173.02 L222.55,172.71 L223.11,172.42 L223.67,172.13 L224.22,171.85 L224.78,171.57 L225.34,171.28 L225.89,171 L226.45,170.74 L227.01,170.49 L227.56,170.27 L228.12,170.09 L228.68,169.96 L229.23,169.87 L229.79,169.83 L230.35,169.84 L230.9,169.89 L231.46,169.99 L232.01,170.12 L232.57,170.29 L233.13,170.48 L233.68,170.69 L234.24,170.93 L234.8,171.19 L235.35,171.46 L235.91,171.74 L236.47,172.04 L237.02,172.34 L237.58,172.65 L238.14,172.97 L238.69,173.32 L239.25,173.7 L239.81,174.11 L240.36,174.56 L240.92,175.04 L241.48,175.55 L242.03,176.08 L242.59,176.63 L243.15,177.19 L243.7,177.76 L244.26,178.32 L244.81,178.89 L245.37,179.45 L245.93,180 L246.48,180.56 L247.04,181.12 L247.6,181.7 L248.15,182.28 L248.71,182.88 L249.27,183.48 L249.82,184.08 L250.38,184.68 L250.94,185.26 L251.49,185.82 L252.05,186.36 L252.61,186.87 L253.16,187.34 L253.72,187.78 L254.28,188.19 L254.83,188.55 L255.39,188.9 L255.94,189.21 L256.5,189.5 L257.06,189.77 L257.61,190.02 L258.17,190.24 L258.73,190.43 L259.28,190.61 L259.84,190.78 L260.4,190.94 L260.95,191.1 L261.51,191.28 L262.07,191.47 L262.62,191.68 L263.18,191.92 L263.74,192.18 L264.29,192.46 L264.85,192.76 L265.4,193.08 L265.96,193.42 L266.52,193.78 L267.07,194.17 L267.63,194.59 L268.19,195.03 L268.74,195.5 L269.3,196 L269.86,196.53 L270.41,197.1 L270.97,197.7 L271.53,198.34 L272.08,199.01 L272.64,199.7 L273.2,200.4 L273.75,201.08 L274.31,201.76 L274.87,202.42 L275.42,203.07 L275.98,203.72 L276.53,204.35 L277.09,204.98 L277.65,205.6 L278.2,206.22 L278.76,206.84 L279.32,207.45 L279.87,208.06 L280.43,208.63 L280.99,209.15 L281.54,209.61 L282.1,210 L282.66,210.34 L283.21,210.63 L283.77,210.89 L284.33,211.11 L284.88,211.29 L285.44,211.42 L286,211.51 L286.55,211.56 L287.11,211.58 L287.66,211.58 L288.22,211.58 L288.78,211.56 L289.33,211.55 L289.89,211.53 L290.45,211.5 L291,211.46 L291.56,211.41 L292.12,211.35 L292.67,211.28 L293.23,211.21 L293.79,211.15 L294.34,211.09 L294.9,211.03 L295.46,210.97 L296.01,210.92 L296.57,210.87 L297.13,210.83 L297.68,210.79 L298.24,210.77 L298.79,210.78 L299.35,210.81 L299.91,210.88 L300.46,210.99 L301.02,211.14 L301.58,211.32 L302.13,211.52 L302.69,211.74 L303.25,211.99 L303.8,212.27 L304.36,212.57 L304.92,212.89 L305.47,213.22 L306.03,213.56 L306.59,213.91 L307.14,214.26 L307.7,214.62 L308.26,214.98 L308.81,215.33 L309.37,215.67 L309.93,216 L310.48,216.33 L311.04,216.65 L311.59,216.96 L312.15,217.26 L312.71,217.55 L313.26,217.83 L313.82,218.1 L314.38,218.35 L314.93,218.59 L315.49,218.81 L316.05,219.01 L316.6,219.18 L317.16,219.33 L317.72,219.46 L318.27,219.58 L318.83,219.67 L319.39,219.75 L319.94,219.82 L320.5,219.88 L321.06,219.93 L321.61,219.98 L322.17,220.02 L322.72,220.06 L323.28,220.09 L323.84,220.13 L324.39,220.16 L324.95,220.19 L325.51,220.22 L326.06,220.24 L326.62,220.26 L327.18,220.29 L327.73,220.31 L328.29,220.33 L328.85,220.35 L329.4,220.37 L329.96,220.38 L330.52,220.4 L331.07,220.42 L331.63,220.43 L332.19,220.45 L332.74,220.47 L333.3,220.48 L333.85,220.49 L334.41,220.5 L334.97,220.52 L335.52,220.53 L336.08,220.54 L336.64,220.54 L337.19,220.55 L337.75,220.56" fill="none" stroke="#b073e0" stroke-width="2.0" stroke-linejoin="round" stroke-linecap="round" />
<path d="M59.5,-172.5 L60.06,-162.24 L60.61,-151.75 L61.17,-141.02 L61.73,-130.03 L62.28,-118.77 L62.84,-107.14 L63.4,-95.15 L63.95,-82.96 L64.51,-70.74 L65.06,-58.67 L65.62,-46.57 L66.18,-34.35 L66.73,-22.27 L67.29,-10.59 L67.85,0.41 L68.4,10.7 L68.96,20.57 L69.52,30.19 L70.07,39.73 L70.63,49.4 L71.19,59.32 L71.74,69.35 L72.3,79.18 L72.86,88.52 L73.41,97.1 L73.97,105 L74.53,112.38 L75.08,119.12 L75.64,125.08 L76.19,130.15 L76.75,134.5 L77.31,138.33 L77.86,141.65 L78.42,144.45 L78.98,146.67 L79.53,148.46 L80.09,150.01 L80.65,151.33 L81.2,152.44 L81.76,153.36 L82.32,154.17 L82.87,154.93 L83.43,155.6 L83.99,156.14 L84.54,156.53 L85.1,156.59 L85.66,156.28 L86.21,155.7 L86.77,154.98 L87.33,154.22 L87.88,153.34 L88.44,152.21 L88.99,150.9 L89.55,149.48 L90.11,148.04 L90.66,146.44 L91.22,144.73 L91.78,142.94 L92.33,141.12 L92.89,139.32 L93.45,137.53 L94,135.7 L94.56,133.88 L95.12,132.09 L95.67,130.37 L96.23,128.59 L96.79,126.71 L97.34,124.94 L97.9,123.49 L98.45,122.57 L99.01,122 L99.57,121.55 L100.12,121.3 L100.68,121.74 L101.24,122.94 L101.79,124.45 L102.35,125.78 L102.91,127.12 L103.46,127.95 L104.02,128 L104.58,126.92 L105.13,125.14 L105.69,123.02 L106.25,120.96 L106.8,118.88 L107.36,116.62 L107.92,114.44 L108.47,112.62 L109.03,111.72 L109.59,111.01 L110.14,110.27 L110.7,109.27 L111.25,107.64 L111.81,105.26 L112.37,102.27 L112.92,97.47 L113.48,91.2 L114.04,86.29 L114.59,82.64 L115.15,79.94 L115.71,79.95 L116.26,82.88 L116.82,87.22 L117.38,94.17 L117.93,104.1 L118.49,114.24 L119.05,124.14 L119.6,134.28 L120.16,143.21 L120.72,150.85 L121.27,157.9 L121.83,164.13 L122.38,169.23 L122.94,173.6 L123.5,177.54 L124.05,181 L124.61,183.98 L125.17,186.51 L125.72,188.67 L126.28,190.53 L126.84,192.18 L127.39,193.61 L127.95,194.87 L128.51,195.98 L129.06,196.97 L129.62,197.83 L130.18,198.59 L130.73,199.25 L131.29,199.83 L131.84,200.35 L132.4,200.82 L132.96,201.25 L133.51,201.66 L134.07,202.04 L134.63,202.42 L135.18,202.77 L135.74,203.12 L136.3,203.44 L136.85,203.75 L137.41,204.04 L137.97,204.31 L138.52,204.57 L139.08,204.82 L139.64,205.05 L140.19,205.27 L140.75,205.47 L141.31,205.64 L141.86,205.8 L142.42,205.94 L142.97,206.06 L143.53,206.18 L144.09,206.29 L144.64,206.38 L145.2,206.46 L145.76,206.52 L146.31,206.56 L146.87,206.58 L147.43,206.58 L147.98,206.56 L148.54,206.52 L149.1,206.47 L149.65,206.41 L150.21,206.33 L150.77,206.24 L151.32,206.13 L151.88,206 L152.44,205.85 L152.99,205.68 L153.55,205.51 L154.11,205.32 L154.66,205.13 L155.22,204.92 L155.77,204.7 L156.33,204.47 L156.89,204.22 L157.44,203.97 L158,203.7 L158.56,203.43 L159.11,203.15 L159.67,202.87 L160.23,202.58 L160.78,202.3 L161.34,202.01 L161.9,201.72 L162.45,201.44 L163.01,201.15 L163.57,200.86 L164.12,200.57 L164.68,200.27 L165.24,199.97 L165.79,199.66 L166.35,199.34 L166.9,199.02 L167.46,198.69 L168.02,198.35 L168.57,198 L169.13,197.63 L169.69,197.25 L170.24,196.86 L170.8,196.44 L171.36,196.01 L171.91,195.56 L172.47,195.09 L173.03,194.6 L173.58,194.11 L174.14,193.6 L174.7,193.1 L175.25,192.59 L175.81,192.08 L176.37,191.57 L176.92,191.08 L177.48,190.59 L178.03,190.1 L178.59,189.63 L179.15,189.16 L179.7,188.69 L180.26,188.23 L180.82,187.77 L181.37,187.3 L181.93,186.85 L182.49,186.39 L183.04,185.94 L183.6,185.49 L184.16,185.04 L184.71,184.6 L185.27,184.16 L185.83,183.72 L186.38,183.29 L186.94,182.86 L187.5,182.43 L188.05,182 L188.61,181.57 L189.16,181.15 L189.72,180.73 L190.28,180.31 L190.83,179.9 L191.39,179.5 L191.95,179.11 L192.5,178.72 L193.06,178.34 L193.62,177.97 L194.17,177.61 L194.73,177.26 L195.29,176.9 L195.84,176.55 L196.4,176.2 L196.96,175.85 L197.51,175.51 L198.07,175.18 L198.62,174.86 L199.18,174.55 L199.74,174.26 L200.29,173.98 L200.85,173.72 L201.41,173.49 L201.96,173.27 L202.52,173.07 L203.08,172.88 L203.63,172.71 L204.19,172.53 L204.75,172.37 L205.3,172.21 L205.86,172.05 L206.42,171.91 L206.97,171.78 L207.53,171.67 L208.09,171.57 L208.64,171.49 L209.2,171.43 L209.75,171.39 L210.31,171.38 L210.87,171.38 L211.42,171.4 L211.98,171.44 L212.54,171.48 L213.09,171.53 L213.65,171.58 L214.21,171.63 L214.76,171.67 L215.32,171.71 L215.88,171.75 L216.43,171.76 L216.99,171.73 L217.55,171.65 L218.1,171.5 L218.66,171.29 L219.22,171.02 L219.77,170.7 L220.33,170.35 L220.88,169.99 L221.44,169.62 L222,169.26 L222.55,168.93 L223.11,168.61 L223.67,168.3 L224.22,168 L224.78,167.7 L225.34,167.39 L225.89,167.09 L226.45,166.81 L227.01,166.54 L227.56,166.31 L228.12,166.11 L228.68,165.96 L229.23,165.87 L229.79,165.83 L230.35,165.84 L230.9,165.9 L231.46,166 L232.01,166.14 L232.57,166.32 L233.13,166.53 L233.68,166.76 L234.24,167.01 L234.8,167.29 L235.35,167.58 L235.91,167.89 L236.47,168.2 L237.02,168.52 L237.58,168.86 L238.14,169.21 L238.69,169.58 L239.25,169.99 L239.81,170.43 L240.36,170.91 L240.92,171.43 L241.48,171.98 L242.03,172.55 L242.59,173.14 L243.15,173.74 L243.7,174.35 L244.26,174.96 L244.81,175.57 L245.37,176.17 L245.93,176.76 L246.48,177.36 L247.04,177.97 L247.6,178.58 L248.15,179.22 L248.71,179.86 L249.27,180.5 L249.82,181.15 L250.38,181.79 L250.94,182.41 L251.49,183.01 L252.05,183.59 L252.61,184.14 L253.16,184.65 L253.72,185.12 L254.28,185.56 L254.83,185.95 L255.39,186.32 L255.94,186.66 L256.5,186.97 L257.06,187.26 L257.61,187.52 L258.17,187.76 L258.73,187.97 L259.28,188.16 L259.84,188.34 L260.4,188.51 L260.95,188.69 L261.51,188.87 L262.07,189.08 L262.62,189.31 L263.18,189.57 L263.74,189.85 L264.29,190.15 L264.85,190.47 L265.4,190.81 L265.96,191.18 L266.52,191.57 L267.07,191.99 L267.63,192.44 L268.19,192.91 L268.74,193.42 L269.3,193.95 L269.86,194.52 L270.41,195.13 L270.97,195.78 L271.53,196.47 L272.08,197.19 L272.64,197.93 L273.2,198.67 L273.75,199.41 L274.31,200.14 L274.87,200.85 L275.42,201.55 L275.98,202.24 L276.53,202.93 L277.09,203.6 L277.65,204.27 L278.2,204.93 L278.76,205.6 L279.32,206.26 L279.87,206.91 L280.43,207.52 L280.99,208.08 L281.54,208.58 L282.1,209 L282.66,209.36 L283.21,209.68 L283.77,209.95 L284.33,210.19 L284.88,210.38 L285.44,210.53 L286,210.62 L286.55,210.67 L287.11,210.7 L287.66,210.7 L288.22,210.69 L288.78,210.68 L289.33,210.66 L289.89,210.64 L290.45,210.61 L291,210.57 L291.56,210.51 L292.12,210.45 L292.67,210.38 L293.23,210.3 L293.79,210.23 L294.34,210.16 L294.9,210.1 L295.46,210.04 L296.01,209.98 L296.57,209.93 L297.13,209.88 L297.68,209.85 L298.24,209.83 L298.79,209.83 L299.35,209.86 L299.91,209.94 L300.46,210.06 L301.02,210.22 L301.58,210.41 L302.13,210.63 L302.69,210.87 L303.25,211.14 L303.8,211.43 L304.36,211.75 L304.92,212.1 L305.47,212.45 L306.03,212.82 L306.59,213.19 L307.14,213.58 L307.7,213.96 L308.26,214.34 L308.81,214.72 L309.37,215.09 L309.93,215.45 L310.48,215.8 L311.04,216.14 L311.59,216.48 L312.15,216.8 L312.71,217.11 L313.26,217.41 L313.82,217.7 L314.38,217.97 L314.93,218.23 L315.49,218.47 L316.05,218.68 L316.6,218.86 L317.16,219.02 L317.72,219.16 L318.27,219.29 L318.83,219.39 L319.39,219.48 L319.94,219.55 L320.5,219.61 L321.06,219.67 L321.61,219.72 L322.17,219.76 L322.72,219.8 L323.28,219.84 L323.84,219.88 L324.39,219.91 L324.95,219.94 L325.51,219.97 L326.06,220 L326.62,220.03 L327.18,220.05 L327.73,220.07 L328.29,220.09 L328.85,220.11 L329.4,220.13 L329.96,220.15 L330.52,220.17 L331.07,220.19 L331.63,220.21 L332.19,220.22 L332.74,220.24 L333.3,220.25 L333.85,220.27 L334.41,220.28 L334.97,220.29 L335.52,220.31 L336.08,220.32 L336.64,220.32 L337.19,220.33 L337.75,220.34" fill="none" stroke="#cf9c00" stroke-width="2.0" stroke-linejoin="round" stroke-linecap="round" />
<path d="M59.5,-172.5 L60.06,-162.26 L60.61,-151.78 L61.17,-141.05 L61.73,-130.06 L62.28,-118.81 L62.84,-107.18 L63.4,-95.17 L63.95,-82.96 L64.51,-70.72 L65.06,-58.65 L65.62,-46.52 L66.18,-34.23 L66.73,-22.09 L67.29,-10.44 L67.85,0.39 L68.4,10.38 L68.96,19.86 L69.52,29 L70.07,38.02 L70.63,47.12 L71.19,56.45 L71.74,65.86 L72.3,75.07 L72.86,83.77 L73.41,91.73 L73.97,99.03 L74.53,105.87 L75.08,112.14 L75.64,117.71 L76.19,122.47 L76.75,126.61 L77.31,130.31 L77.86,133.55 L78.42,136.29 L78.98,138.45 L79.53,140.2 L80.09,141.71 L80.65,143 L81.2,144.08 L81.76,144.94 L82.32,145.68 L82.87,146.38 L83.43,146.98 L83.99,147.46 L84.54,147.76 L85.1,147.7 L85.66,147.22 L86.21,146.44 L86.77,145.5 L87.33,144.53 L87.88,143.41 L88.44,142.01 L88.99,140.41 L89.55,138.7 L90.11,136.96 L90.66,135.04 L91.22,132.98 L91.78,130.83 L92.33,128.66 L92.89,126.51 L93.45,124.36 L94,122.18 L94.56,120 L95.12,117.86 L95.67,115.81 L96.23,113.68 L96.79,111.44 L97.34,109.33 L97.9,107.58 L98.45,106.46 L99.01,105.76 L99.57,105.2 L100.12,104.88 L100.68,105.36 L101.24,106.75 L101.79,108.5 L102.35,110.05 L102.91,111.6 L103.46,112.47 L104.02,112.41 L104.58,111.03 L105.13,108.81 L105.69,106.18 L106.25,103.62 L106.8,101.03 L107.36,98.22 L107.92,95.51 L108.47,93.22 L109.03,92.1 L109.59,91.22 L110.14,90.29 L110.7,89.06 L111.25,87.08 L111.81,84.19 L112.37,80.59 L112.92,74.81 L113.48,67.27 L114.04,61.41 L114.59,57.06 L115.15,53.84 L115.71,53.86 L116.26,57.36 L116.82,62.55 L117.38,70.85 L117.93,82.71 L118.49,94.82 L119.05,106.65 L119.6,118.74 L120.16,129.4 L120.72,138.52 L121.27,146.93 L121.83,154.36 L122.38,160.41 L122.94,165.59 L123.5,170.26 L124.05,174.37 L124.61,177.9 L125.17,180.9 L125.72,183.45 L126.28,185.65 L126.84,187.6 L127.39,189.29 L127.95,190.77 L128.51,192.08 L129.06,193.23 L129.62,194.24 L130.18,195.12 L130.73,195.89 L131.29,196.56 L131.84,197.16 L132.4,197.7 L132.96,198.2 L133.51,198.67 L134.07,199.12 L134.63,199.54 L135.18,199.95 L135.74,200.34 L136.3,200.71 L136.85,201.06 L137.41,201.39 L137.97,201.69 L138.52,201.98 L139.08,202.25 L139.64,202.51 L140.19,202.74 L140.75,202.96 L141.31,203.14 L141.86,203.3 L142.42,203.44 L142.97,203.57 L143.53,203.68 L144.09,203.78 L144.64,203.87 L145.2,203.94 L145.76,203.99 L146.31,204.01 L146.87,204.01 L147.43,203.99 L147.98,203.94 L148.54,203.87 L149.1,203.79 L149.65,203.69 L150.21,203.57 L150.77,203.44 L151.32,203.28 L151.88,203.1 L152.44,202.9 L152.99,202.68 L153.55,202.45 L154.11,202.21 L154.66,201.95 L155.22,201.68 L155.77,201.39 L156.33,201.09 L156.89,200.78 L157.44,200.45 L158,200.11 L158.56,199.77 L159.11,199.42 L159.67,199.06 L160.23,198.7 L160.78,198.33 L161.34,197.97 L161.9,197.61 L162.45,197.24 L163.01,196.88 L163.57,196.51 L164.12,196.14 L164.68,195.77 L165.24,195.39 L165.79,195 L166.35,194.61 L166.9,194.2 L167.46,193.79 L168.02,193.37 L168.57,192.93 L169.13,192.49 L169.69,192.02 L170.24,191.54 L170.8,191.04 L171.36,190.51 L171.91,189.96 L172.47,189.4 L173.03,188.81 L173.58,188.21 L174.14,187.6 L174.7,186.99 L175.25,186.37 L175.81,185.76 L176.37,185.15 L176.92,184.55 L177.48,183.95 L178.03,183.37 L178.59,182.8 L179.15,182.23 L179.7,181.67 L180.26,181.11 L180.82,180.55 L181.37,179.99 L181.93,179.44 L182.49,178.88 L183.04,178.34 L183.6,177.79 L184.16,177.26 L184.71,176.72 L185.27,176.19 L185.83,175.66 L186.38,175.14 L186.94,174.62 L187.5,174.1 L188.05,173.59 L188.61,173.07 L189.16,172.56 L189.72,172.05 L190.28,171.55 L190.83,171.06 L191.39,170.57 L191.95,170.09 L192.5,169.63 L193.06,169.17 L193.62,168.73 L194.17,168.29 L194.73,167.86 L195.29,167.43 L195.84,167.01 L196.4,166.59 L196.96,166.17 L197.51,165.76 L198.07,165.36 L198.62,164.97 L199.18,164.6 L199.74,164.25 L200.29,163.91 L200.85,163.6 L201.41,163.32 L201.96,163.06 L202.52,162.82 L203.08,162.59 L203.63,162.38 L204.19,162.17 L204.75,161.97 L205.3,161.78 L205.86,161.59 L206.42,161.42 L206.97,161.26 L207.53,161.12 L208.09,161.01 L208.64,160.91 L209.2,160.84 L209.75,160.79 L210.31,160.77 L210.87,160.78 L211.42,160.81 L211.98,160.85 L212.54,160.9 L213.09,160.96 L213.65,161.02 L214.21,161.08 L214.76,161.13 L215.32,161.18 L215.88,161.22 L216.43,161.23 L216.99,161.2 L217.55,161.1 L218.1,160.93 L218.66,160.67 L219.22,160.34 L219.77,159.96 L220.33,159.54 L220.88,159.1 L221.44,158.66 L222,158.23 L222.55,157.82 L223.11,157.44 L223.67,157.07 L224.22,156.71 L224.78,156.34 L225.34,155.97 L225.89,155.61 L226.45,155.27 L227.01,154.95 L227.56,154.67 L228.12,154.43 L228.68,154.25 L229.23,154.14 L229.79,154.09 L230.35,154.1 L230.9,154.17 L231.46,154.3 L232.01,154.47 L232.57,154.68 L233.13,154.93 L233.68,155.21 L234.24,155.52 L234.8,155.85 L235.35,156.2 L235.91,156.57 L236.47,156.94 L237.02,157.33 L237.58,157.73 L238.14,158.15 L238.69,158.6 L239.25,159.09 L239.81,159.63 L240.36,160.21 L240.92,160.83 L241.48,161.49 L242.03,162.18 L242.59,162.89 L243.15,163.61 L243.7,164.35 L244.26,165.08 L244.81,165.81 L245.37,166.54 L245.93,167.25 L246.48,167.97 L247.04,168.7 L247.6,169.45 L248.15,170.21 L248.71,170.98 L249.27,171.76 L249.82,172.53 L250.38,173.3 L250.94,174.05 L251.49,174.78 L252.05,175.48 L252.61,176.14 L253.16,176.75 L253.72,177.32 L254.28,177.84 L254.83,178.32 L255.39,178.76 L255.94,179.17 L256.5,179.54 L257.06,179.89 L257.61,180.21 L258.17,180.49 L258.73,180.75 L259.28,180.97 L259.84,181.19 L260.4,181.39 L260.95,181.6 L261.51,181.83 L262.07,182.08 L262.62,182.36 L263.18,182.66 L263.74,183 L264.29,183.36 L264.85,183.75 L265.4,184.16 L265.96,184.6 L266.52,185.07 L267.07,185.57 L267.63,186.11 L268.19,186.69 L268.74,187.3 L269.3,187.94 L269.86,188.62 L270.41,189.35 L270.97,190.13 L271.53,190.96 L272.08,191.83 L272.64,192.73 L273.2,193.62 L273.75,194.52 L274.31,195.39 L274.87,196.25 L275.42,197.09 L275.98,197.92 L276.53,198.74 L277.09,199.56 L277.65,200.36 L278.2,201.16 L278.76,201.96 L279.32,202.76 L279.87,203.54 L280.43,204.28 L280.99,204.96 L281.54,205.55 L282.1,206.06 L282.66,206.5 L283.21,206.88 L283.77,207.21 L284.33,207.49 L284.88,207.72 L285.44,207.9 L286,208.01 L286.55,208.07 L287.11,208.1 L287.66,208.1 L288.22,208.09 L288.78,208.08 L289.33,208.06 L289.89,208.03 L290.45,207.99 L291,207.94 L291.56,207.88 L292.12,207.8 L292.67,207.71 L293.23,207.62 L293.79,207.53 L294.34,207.45 L294.9,207.38 L295.46,207.31 L296.01,207.24 L296.57,207.17 L297.13,207.12 L297.68,207.07 L298.24,207.05 L298.79,207.05 L299.35,207.09 L299.91,207.18 L300.46,207.33 L301.02,207.52 L301.58,207.75 L302.13,208.01 L302.69,208.3 L303.25,208.62 L303.8,208.98 L304.36,209.37 L304.92,209.78 L305.47,210.21 L306.03,210.65 L306.59,211.1 L307.14,211.56 L307.7,212.02 L308.26,212.48 L308.81,212.94 L309.37,213.38 L309.93,213.81 L310.48,214.24 L311.04,214.65 L311.59,215.05 L312.15,215.44 L312.71,215.82 L313.26,216.18 L313.82,216.52 L314.38,216.85 L314.93,217.16 L315.49,217.45 L316.05,217.7 L316.6,217.93 L317.16,218.12 L317.72,218.29 L318.27,218.43 L318.83,218.56 L319.39,218.67 L319.94,218.75 L320.5,218.83 L321.06,218.89 L321.61,218.95 L322.17,219.01 L322.72,219.06 L323.28,219.1 L323.84,219.15 L324.39,219.19 L324.95,219.22 L325.51,219.26 L326.06,219.29 L326.62,219.32 L327.18,219.35 L327.73,219.38 L328.29,219.4 L328.85,219.43 L329.4,219.45 L329.96,219.48 L330.52,219.5 L331.07,219.52 L331.63,219.54 L332.19,219.56 L332.74,219.58 L333.3,219.6 L333.85,219.61 L334.41,219.63 L334.97,219.64 L335.52,219.66 L336.08,219.67 L336.64,219.68 L337.19,219.69 L337.75,219.7" fill="none" stroke="#1fcfcf" stroke-width="2.0" stroke-linejoin="round" stroke-linecap="round" />
<path d="M59.5,-172.5 L60.06,-162.28 L60.61,-151.8 L61.17,-141.07 L61.73,-130.09 L62.28,-118.84 L62.84,-107.22 L63.4,-95.19 L63.95,-82.96 L64.51,-70.71 L65.06,-58.63 L65.62,-46.47 L66.18,-34.12 L66.73,-21.94 L67.29,-10.32 L67.85,0.38 L68.4,10.12 L68.96,19.26 L69.52,28.01 L70.07,36.59 L70.63,45.22 L71.19,54.06 L71.74,62.96 L72.3,71.63 L72.86,79.82 L73.41,87.25 L73.97,94.06 L74.53,100.45 L75.08,106.32 L75.64,111.56 L76.19,116.07 L76.75,120.03 L77.31,123.63 L77.86,126.8 L78.42,129.49 L78.98,131.6 L79.53,133.3 L80.09,134.79 L80.65,136.06 L81.2,137.11 L81.76,137.92 L82.32,138.61 L82.87,139.25 L83.43,139.8 L83.99,140.22 L84.54,140.45 L85.1,140.29 L85.66,139.67 L86.21,138.72 L86.77,137.6 L87.33,136.44 L87.88,135.13 L88.44,133.51 L88.99,131.67 L89.55,129.71 L90.11,127.73 L90.66,125.59 L91.22,123.31 L91.78,120.93 L92.33,118.53 L92.89,116.16 L93.45,113.8 L94,111.4 L94.56,109.01 L95.12,106.67 L95.67,104.44 L96.23,102.11 L96.79,99.66 L97.34,97.36 L97.9,95.48 L98.45,94.29 L99.01,93.57 L99.57,93 L100.12,92.71 L100.68,93.31 L101.24,94.92 L101.79,96.93 L102.35,98.71 L102.91,100.49 L103.46,101.79 L104.02,102.07 L104.58,100.89 L105.13,98.8 L105.69,96.29 L106.25,93.86 L106.8,91.42 L107.36,88.76 L107.92,86.22 L108.47,84.15 L109.03,83.08 L109.59,82.26 L110.14,81.41 L110.7,80.23 L111.25,78.24 L111.81,75.29 L112.37,71.59 L112.92,65.58 L113.48,57.7 L114.04,51.46 L114.59,46.83 L115.15,43.4 L115.71,43.43 L116.26,47.15 L116.82,52.68 L117.38,61.52 L117.93,74.15 L118.49,87.05 L119.05,99.65 L119.6,112.53 L120.16,123.88 L120.72,133.59 L121.27,142.54 L121.83,150.45 L122.38,156.88 L122.94,162.39 L123.5,167.35 L124.05,171.71 L124.61,175.47 L125.17,178.65 L125.72,181.36 L126.28,183.7 L126.84,185.76 L127.39,187.55 L127.95,189.13 L128.51,190.51 L129.06,191.73 L129.62,192.8 L130.18,193.73 L130.73,194.54 L131.29,195.25 L131.84,195.88 L132.4,196.45 L132.96,196.98 L133.51,197.47 L134.07,197.94 L134.63,198.39 L135.18,198.82 L135.74,199.23 L136.3,199.61 L136.85,199.98 L137.41,200.32 L137.97,200.64 L138.52,200.94 L139.08,201.22 L139.64,201.48 L140.19,201.73 L140.75,201.94 L141.31,202.13 L141.86,202.3 L142.42,202.44 L142.97,202.57 L143.53,202.68 L144.09,202.78 L144.64,202.86 L145.2,202.93 L145.76,202.97 L146.31,202.99 L146.87,202.98 L147.43,202.95 L147.98,202.89 L148.54,202.8 L149.1,202.71 L149.65,202.59 L150.21,202.46 L150.77,202.31 L151.32,202.14 L151.88,201.94 L152.44,201.72 L152.99,201.47 L153.55,201.22 L154.11,200.95 L154.66,200.67 L155.22,200.37 L155.77,200.06 L156.33,199.73 L156.89,199.39 L157.44,199.04 L158,198.67 L158.56,198.29 L159.11,197.91 L159.67,197.52 L160.23,197.13 L160.78,196.74 L161.34,196.34 L161.9,195.95 L162.45,195.55 L163.01,195.16 L163.57,194.76 L164.12,194.36 L164.68,193.96 L165.24,193.54 L165.79,193.13 L166.35,192.7 L166.9,192.27 L167.46,191.82 L168.02,191.37 L168.57,190.9 L169.13,190.42 L169.69,189.92 L170.24,189.4 L170.8,188.86 L171.36,188.3 L171.91,187.71 L172.47,187.11 L173.03,186.48 L173.58,185.84 L174.14,185.19 L174.7,184.53 L175.25,183.87 L175.81,183.22 L176.37,182.56 L176.92,181.92 L177.48,181.29 L178.03,180.66 L178.59,180.05 L179.15,179.44 L179.7,178.84 L180.26,178.24 L180.82,177.64 L181.37,177.05 L181.93,176.45 L182.49,175.87 L183.04,175.28 L183.6,174.7 L184.16,174.12 L184.71,173.55 L185.27,172.98 L185.83,172.42 L186.38,171.86 L186.94,171.31 L187.5,170.75 L188.05,170.2 L188.61,169.65 L189.16,169.1 L189.72,168.56 L190.28,168.02 L190.83,167.49 L191.39,166.97 L191.95,166.46 L192.5,165.97 L193.06,165.48 L193.62,165 L194.17,164.54 L194.73,164.08 L195.29,163.62 L195.84,163.17 L196.4,162.72 L196.96,162.27 L197.51,161.83 L198.07,161.41 L198.62,160.99 L199.18,160.6 L199.74,160.22 L200.29,159.86 L200.85,159.53 L201.41,159.23 L201.96,158.95 L202.52,158.69 L203.08,158.45 L203.63,158.22 L204.19,158 L204.75,157.79 L205.3,157.58 L205.86,157.38 L206.42,157.2 L206.97,157.03 L207.53,156.88 L208.09,156.76 L208.64,156.65 L209.2,156.58 L209.75,156.53 L210.31,156.51 L210.87,156.51 L211.42,156.54 L211.98,156.59 L212.54,156.64 L213.09,156.71 L213.65,156.77 L214.21,156.83 L214.76,156.89 L215.32,156.94 L215.88,156.98 L216.43,157 L216.99,156.96 L217.55,156.86 L218.1,156.67 L218.66,156.4 L219.22,156.05 L219.77,155.64 L220.33,155.19 L220.88,154.72 L221.44,154.25 L222,153.79 L222.55,153.36 L223.11,152.95 L223.67,152.55 L224.22,152.16 L224.78,151.77 L225.34,151.38 L225.89,150.99 L226.45,150.62 L227.01,150.28 L227.56,149.98 L228.12,149.73 L228.68,149.54 L229.23,149.42 L229.79,149.36 L230.35,149.38 L230.9,149.45 L231.46,149.59 L232.01,149.77 L232.57,149.99 L233.13,150.26 L233.68,150.56 L234.24,150.89 L234.8,151.24 L235.35,151.62 L235.91,152.01 L236.47,152.41 L237.02,152.83 L237.58,153.26 L238.14,153.71 L238.69,154.19 L239.25,154.71 L239.81,155.28 L240.36,155.9 L240.92,156.57 L241.48,157.27 L242.03,158.01 L242.59,158.76 L243.15,159.54 L243.7,160.32 L244.26,161.11 L244.81,161.89 L245.37,162.66 L245.93,163.43 L246.48,164.2 L247.04,164.98 L247.6,165.77 L248.15,166.58 L248.71,167.4 L249.27,168.24 L249.82,169.07 L250.38,169.89 L250.94,170.69 L251.49,171.47 L252.05,172.21 L252.61,172.92 L253.16,173.57 L253.72,174.18 L254.28,174.73 L254.83,175.24 L255.39,175.72 L255.94,176.15 L256.5,176.55 L257.06,176.92 L257.61,177.26 L258.17,177.56 L258.73,177.84 L259.28,178.08 L259.84,178.31 L260.4,178.53 L260.95,178.75 L261.51,178.99 L262.07,179.26 L262.62,179.56 L263.18,179.89 L263.74,180.24 L264.29,180.63 L264.85,181.04 L265.4,181.48 L265.96,181.95 L266.52,182.45 L267.07,182.99 L267.63,183.57 L268.19,184.18 L268.74,184.83 L269.3,185.52 L269.86,186.25 L270.41,187.03 L270.97,187.86 L271.53,188.75 L272.08,189.68 L272.64,190.63 L273.2,191.59 L273.75,192.54 L274.31,193.48 L274.87,194.4 L275.42,195.3 L275.98,196.19 L276.53,197.06 L277.09,197.93 L277.65,198.79 L278.2,199.64 L278.76,200.5 L279.32,201.35 L279.87,202.19 L280.43,202.98 L280.99,203.7 L281.54,204.33 L282.1,204.88 L282.66,205.34 L283.21,205.75 L283.77,206.1 L284.33,206.41 L284.88,206.65 L285.44,206.84 L286,206.96 L286.55,207.03 L287.11,207.06 L287.66,207.06 L288.22,207.05 L288.78,207.03 L289.33,207.01 L289.89,206.98 L290.45,206.94 L291,206.88 L291.56,206.81 L292.12,206.73 L292.67,206.64 L293.23,206.54 L293.79,206.45 L294.34,206.36 L294.9,206.28 L295.46,206.2 L296.01,206.13 L296.57,206.06 L297.13,206 L297.68,205.95 L298.24,205.93 L298.79,205.93 L299.35,205.97 L299.91,206.07 L300.46,206.23 L301.02,206.43 L301.58,206.68 L302.13,206.95 L302.69,207.26 L303.25,207.61 L303.8,207.99 L304.36,208.4 L304.92,208.84 L305.47,209.3 L306.03,209.77 L306.59,210.26 L307.14,210.75 L307.7,211.24 L308.26,211.73 L308.81,212.22 L309.37,212.69 L309.93,213.15 L310.48,213.61 L311.04,214.05 L311.59,214.48 L312.15,214.9 L312.71,215.3 L313.26,215.68 L313.82,216.05 L314.38,216.4 L314.93,216.73 L315.49,217.04 L316.05,217.31 L316.6,217.55 L317.16,217.76 L317.72,217.94 L318.27,218.09 L318.83,218.23 L319.39,218.34 L319.94,218.43 L320.5,218.51 L321.06,218.58 L321.61,218.64 L322.17,218.7 L322.72,218.75 L323.28,218.8 L323.84,218.85 L324.39,218.89 L324.95,218.93 L325.51,218.97 L326.06,219.01 L326.62,219.04 L327.18,219.07 L327.73,219.1 L328.29,219.13 L328.85,219.15 L329.4,219.18 L329.96,219.2 L330.52,219.23 L331.07,219.25 L331.63,219.27 L332.19,219.29 L332.74,219.31 L333.3,219.33 L333.85,219.35 L334.41,219.37 L334.97,219.38 L335.52,219.4 L336.08,219.41 L336.64,219.42 L337.19,219.43 L337.75,219.44" fill="none" stroke="#7a3c3c" stroke-width="2.0" stroke-linejoin="round" stroke-linecap="round" />
<path d="M59.5,-172.5 L60.06,-162.29 L60.61,-151.82 L61.17,-141.08 L61.73,-130.1 L62.28,-118.86 L62.84,-107.23 L63.4,-95.2 L63.95,-82.96 L64.51,-70.7 L65.06,-58.62 L65.62,-46.45 L66.18,-34.07 L66.73,-21.88 L67.29,-10.26 L67.85,0.37 L68.4,9.99 L68.96,18.98 L69.52,27.54 L70.07,35.91 L70.63,44.32 L71.19,52.93 L71.74,61.58 L72.3,70.01 L72.86,77.94 L73.41,85.13 L73.97,91.7 L74.53,97.88 L75.08,103.56 L75.64,108.65 L76.19,113.04 L76.75,116.92 L77.31,120.46 L77.86,123.6 L78.42,126.26 L78.98,128.36 L79.53,130.04 L80.09,131.51 L80.65,132.77 L81.2,133.8 L81.76,134.6 L82.32,135.26 L82.87,135.88 L83.43,136.4 L83.99,136.79 L84.54,136.99 L85.1,136.78 L85.66,136.09 L86.21,135.06 L86.77,133.85 L87.33,132.61 L87.88,131.21 L88.44,129.48 L88.99,127.53 L89.55,125.46 L90.11,123.36 L90.66,121.13 L91.22,118.75 L91.78,116.28 L92.33,113.78 L92.89,111.32 L93.45,108.87 L94,106.39 L94.56,103.91 L95.12,101.49 L95.67,99.18 L96.23,96.78 L96.79,94.25 L97.34,91.88 L97.9,89.95 L98.45,88.74 L99.01,88.03 L99.57,87.48 L100.12,87.22 L100.68,87.89 L101.24,89.61 L101.79,91.74 L102.35,93.64 L102.91,95.54 L103.46,97.12 L104.02,97.63 L104.58,96.62 L105.13,94.68 L105.69,92.3 L106.25,90.02 L106.8,87.74 L107.36,85.24 L107.92,82.87 L108.47,80.99 L109.03,79.98 L109.59,79.23 L110.14,78.44 L110.7,77.31 L111.25,75.37 L111.81,72.45 L112.37,68.76 L112.92,62.72 L113.48,54.8 L114.04,48.44 L114.59,43.72 L115.15,40.24 L115.71,40.26 L116.26,44.05 L116.82,49.69 L117.38,58.69 L117.93,71.56 L118.49,84.69 L119.05,97.52 L119.6,110.64 L120.16,122.21 L120.72,132.09 L121.27,141.21 L121.83,149.27 L122.38,155.81 L122.94,161.41 L123.5,166.46 L124.05,170.91 L124.61,174.73 L125.17,177.97 L125.72,180.73 L126.28,183.1 L126.84,185.2 L127.39,187.03 L127.95,188.63 L128.51,190.04 L129.06,191.28 L129.62,192.36 L130.18,193.31 L130.73,194.13 L131.29,194.85 L131.84,195.49 L132.4,196.07 L132.96,196.6 L133.51,197.1 L134.07,197.58 L134.63,198.03 L135.18,198.47 L135.74,198.89 L136.3,199.28 L136.85,199.65 L137.41,200 L137.97,200.32 L138.52,200.62 L139.08,200.91 L139.64,201.17 L140.19,201.42 L140.75,201.64 L141.31,201.83 L141.86,201.99 L142.42,202.14 L142.97,202.26 L143.53,202.37 L144.09,202.47 L144.64,202.55 L145.2,202.62 L145.76,202.66 L146.31,202.68 L146.87,202.67 L147.43,202.63 L147.98,202.56 L148.54,202.48 L149.1,202.38 L149.65,202.26 L150.21,202.12 L150.77,201.97 L151.32,201.79 L151.88,201.58 L152.44,201.35 L152.99,201.11 L153.55,200.85 L154.11,200.57 L154.66,200.28 L155.22,199.98 L155.77,199.66 L156.33,199.32 L156.89,198.97 L157.44,198.61 L158,198.23 L158.56,197.85 L159.11,197.45 L159.67,197.06 L160.23,196.66 L160.78,196.25 L161.34,195.85 L161.9,195.45 L162.45,195.04 L163.01,194.64 L163.57,194.23 L164.12,193.82 L164.68,193.4 L165.24,192.98 L165.79,192.56 L166.35,192.12 L166.9,191.68 L167.46,191.22 L168.02,190.76 L168.57,190.28 L169.13,189.79 L169.69,189.28 L170.24,188.75 L170.8,188.2 L171.36,187.63 L171.91,187.03 L172.47,186.41 L173.03,185.77 L173.58,185.12 L174.14,184.45 L174.7,183.78 L175.25,183.11 L175.81,182.44 L176.37,181.78 L176.92,181.12 L177.48,180.48 L178.03,179.84 L178.59,179.21 L179.15,178.6 L179.7,177.98 L180.26,177.37 L180.82,176.76 L181.37,176.15 L181.93,175.55 L182.49,174.95 L183.04,174.35 L183.6,173.76 L184.16,173.17 L184.71,172.59 L185.27,172.01 L185.83,171.44 L186.38,170.87 L186.94,170.3 L187.5,169.73 L188.05,169.17 L188.61,168.61 L189.16,168.05 L189.72,167.5 L190.28,166.95 L190.83,166.41 L191.39,165.88 L191.95,165.36 L192.5,164.85 L193.06,164.36 L193.62,163.87 L194.17,163.4 L194.73,162.93 L195.29,162.46 L195.84,162 L196.4,161.54 L196.96,161.09 L197.51,160.64 L198.07,160.2 L198.62,159.78 L199.18,159.38 L199.74,158.99 L200.29,158.63 L200.85,158.29 L201.41,157.98 L201.96,157.7 L202.52,157.44 L203.08,157.19 L203.63,156.96 L204.19,156.73 L204.75,156.51 L205.3,156.3 L205.86,156.1 L206.42,155.91 L206.97,155.74 L207.53,155.59 L208.09,155.46 L208.64,155.36 L209.2,155.28 L209.75,155.23 L210.31,155.21 L210.87,155.22 L211.42,155.25 L211.98,155.29 L212.54,155.35 L213.09,155.41 L213.65,155.48 L214.21,155.54 L214.76,155.6 L215.32,155.65 L215.88,155.7 L216.43,155.71 L216.99,155.67 L217.55,155.57 L218.1,155.38 L218.66,155.1 L219.22,154.74 L219.77,154.32 L220.33,153.87 L220.88,153.39 L221.44,152.9 L222,152.44 L222.55,152 L223.11,151.58 L223.67,151.18 L224.22,150.78 L224.78,150.38 L225.34,149.98 L225.89,149.59 L226.45,149.21 L227.01,148.86 L227.56,148.56 L228.12,148.3 L228.68,148.11 L229.23,147.98 L229.79,147.93 L230.35,147.94 L230.9,148.02 L231.46,148.15 L232.01,148.34 L232.57,148.57 L233.13,148.84 L233.68,149.15 L234.24,149.48 L234.8,149.84 L235.35,150.23 L235.91,150.63 L236.47,151.04 L237.02,151.46 L237.58,151.9 L238.14,152.35 L238.69,152.84 L239.25,153.38 L239.81,153.96 L240.36,154.59 L240.92,155.27 L241.48,155.99 L242.03,156.74 L242.59,157.51 L243.15,158.3 L243.7,159.1 L244.26,159.9 L244.81,160.69 L245.37,161.48 L245.93,162.26 L246.48,163.05 L247.04,163.84 L247.6,164.65 L248.15,165.48 L248.71,166.32 L249.27,167.17 L249.82,168.01 L250.38,168.85 L250.94,169.67 L251.49,170.46 L252.05,171.22 L252.61,171.94 L253.16,172.61 L253.72,173.22 L254.28,173.79 L254.83,174.31 L255.39,174.79 L255.94,175.23 L256.5,175.64 L257.06,176.02 L257.61,176.37 L258.17,176.68 L258.73,176.95 L259.28,177.2 L259.84,177.43 L260.4,177.66 L260.95,177.88 L261.51,178.13 L262.07,178.4 L262.62,178.71 L263.18,179.04 L263.74,179.4 L264.29,179.8 L264.85,180.22 L265.4,180.67 L265.96,181.15 L266.52,181.66 L267.07,182.21 L267.63,182.79 L268.19,183.42 L268.74,184.08 L269.3,184.78 L269.86,185.53 L270.41,186.32 L270.97,187.17 L271.53,188.08 L272.08,189.02 L272.64,190 L273.2,190.97 L273.75,191.94 L274.31,192.9 L274.87,193.83 L275.42,194.75 L275.98,195.66 L276.53,196.55 L277.09,197.43 L277.65,198.31 L278.2,199.18 L278.76,200.05 L279.32,200.92 L279.87,201.77 L280.43,202.58 L280.99,203.32 L281.54,203.96 L282.1,204.52 L282.66,204.99 L283.21,205.4 L283.77,205.77 L284.33,206.08 L284.88,206.33 L285.44,206.52 L286,206.64 L286.55,206.71 L287.11,206.74 L287.66,206.74 L288.22,206.73 L288.78,206.71 L289.33,206.69 L289.89,206.66 L290.45,206.62 L291,206.56 L291.56,206.49 L292.12,206.41 L292.67,206.31 L293.23,206.21 L293.79,206.12 L294.34,206.03 L294.9,205.95 L295.46,205.87 L296.01,205.8 L296.57,205.73 L297.13,205.66 L297.68,205.62 L298.24,205.59 L298.79,205.59 L299.35,205.64 L299.91,205.74 L300.46,205.89 L301.02,206.1 L301.58,206.35 L302.13,206.63 L302.69,206.95 L303.25,207.3 L303.8,207.69 L304.36,208.11 L304.92,208.56 L305.47,209.03 L306.03,209.51 L306.59,210 L307.14,210.5 L307.7,211.01 L308.26,211.51 L308.81,212 L309.37,212.48 L309.93,212.95 L310.48,213.42 L311.04,213.87 L311.59,214.3 L312.15,214.73 L312.71,215.14 L313.26,215.53 L313.82,215.91 L314.38,216.26 L314.93,216.6 L315.49,216.91 L316.05,217.19 L316.6,217.43 L317.16,217.65 L317.72,217.83 L318.27,217.99 L318.83,218.12 L319.39,218.24 L319.94,218.34 L320.5,218.42 L321.06,218.49 L321.61,218.55 L322.17,218.61 L322.72,218.66 L323.28,218.71 L323.84,218.76 L324.39,218.8 L324.95,218.85 L325.51,218.88 L326.06,218.92 L326.62,218.95 L327.18,218.98 L327.73,219.01 L328.29,219.04 L328.85,219.07 L329.4,219.1 L329.96,219.12 L330.52,219.14 L331.07,219.17 L331.63,219.19 L332.19,219.21 L332.74,219.23 L333.3,219.25 L333.85,219.27 L334.41,219.29 L334.97,219.3 L335.52,219.32 L336.08,219.33 L336.64,219.34 L337.19,219.35 L337.75,219.36" fill="none" stroke="#9a8a28" stroke-width="2.0" stroke-linejoin="round" stroke-linecap="round" />
<path d="M59.5,-172.5 L60.06,-162.29 L60.61,-151.82 L61.17,-141.09 L61.73,-130.11 L62.28,-118.87 L62.84,-107.24 L63.4,-95.21 L63.95,-82.96 L64.51,-70.7 L65.06,-58.62 L65.62,-46.44 L66.18,-34.03 L66.73,-21.82 L67.29,-10.21 L67.85,0.37 L68.4,9.9 L68.96,18.76 L69.52,27.18 L70.07,35.39 L70.63,43.62 L71.19,52.05 L71.74,60.51 L72.3,68.74 L72.86,76.49 L73.41,83.48 L73.97,89.87 L74.53,95.88 L75.08,101.42 L75.64,106.39 L76.19,110.68 L76.75,114.49 L77.31,118 L77.86,121.12 L78.42,123.76 L78.98,125.83 L79.53,127.5 L80.09,128.96 L80.65,130.21 L81.2,131.23 L81.76,132.02 L82.32,132.66 L82.87,133.25 L83.43,133.76 L83.99,134.12 L84.54,134.29 L85.1,134.05 L85.66,133.31 L86.21,132.22 L86.77,130.94 L87.33,129.63 L87.88,128.16 L88.44,126.35 L88.99,124.31 L89.55,122.14 L90.11,119.96 L90.66,117.66 L91.22,115.2 L91.78,112.66 L92.33,110.09 L92.89,107.56 L93.45,105.04 L94,102.48 L94.56,99.94 L95.12,97.46 L95.67,95.09 L96.23,92.63 L96.79,90.04 L97.34,87.61 L97.9,85.64 L98.45,84.42 L99.01,83.71 L99.57,83.17 L100.12,82.93 L100.68,83.66 L101.24,85.47 L101.79,87.7 L102.35,89.69 L102.91,91.69 L103.46,93.47 L104.02,94.16 L104.58,93.28 L105.13,91.44 L105.69,89.16 L106.25,86.99 L106.8,84.82 L107.36,82.44 L107.92,80.2 L108.47,78.46 L109.03,77.49 L109.59,76.78 L110.14,76.03 L110.7,74.95 L111.25,73.04 L111.81,70.13 L112.37,66.45 L112.92,60.38 L113.48,52.4 L114.04,45.96 L114.59,41.17 L115.15,37.63 L115.71,37.65 L116.26,41.5 L116.82,47.22 L117.38,56.36 L117.93,69.42 L118.49,82.75 L119.05,95.77 L119.6,109.09 L120.16,120.83 L120.72,130.86 L121.27,140.11 L121.83,148.29 L122.38,154.93 L122.94,160.61 L123.5,165.73 L124.05,170.24 L124.61,174.12 L125.17,177.4 L125.72,180.2 L126.28,182.61 L126.84,184.74 L127.39,186.59 L127.95,188.21 L128.51,189.64 L129.06,190.9 L129.62,192 L130.18,192.96 L130.73,193.79 L131.29,194.52 L131.84,195.17 L132.4,195.75 L132.96,196.3 L133.51,196.8 L134.07,197.28 L134.63,197.74 L135.18,198.19 L135.74,198.61 L136.3,199.01 L136.85,199.38 L137.41,199.73 L137.97,200.05 L138.52,200.36 L139.08,200.65 L139.64,200.92 L140.19,201.16 L140.75,201.38 L141.31,201.58 L141.86,201.74 L142.42,201.88 L142.97,202.01 L143.53,202.12 L144.09,202.22 L144.64,202.3 L145.2,202.36 L145.76,202.41 L146.31,202.42 L146.87,202.41 L147.43,202.37 L147.98,202.3 L148.54,202.21 L149.1,202.11 L149.65,201.98 L150.21,201.85 L150.77,201.69 L151.32,201.5 L151.88,201.29 L152.44,201.06 L152.99,200.8 L153.55,200.54 L154.11,200.26 L154.66,199.96 L155.22,199.65 L155.77,199.32 L156.33,198.98 L156.89,198.62 L157.44,198.25 L158,197.87 L158.56,197.48 L159.11,197.08 L159.67,196.67 L160.23,196.26 L160.78,195.85 L161.34,195.44 L161.9,195.03 L162.45,194.62 L163.01,194.21 L163.57,193.79 L164.12,193.37 L164.68,192.95 L165.24,192.52 L165.79,192.09 L166.35,191.64 L166.9,191.19 L167.46,190.73 L168.02,190.25 L168.57,189.77 L169.13,189.27 L169.69,188.75 L170.24,188.21 L170.8,187.66 L171.36,187.07 L171.91,186.46 L172.47,185.84 L173.03,185.19 L173.58,184.52 L174.14,183.85 L174.7,183.17 L175.25,182.49 L175.81,181.8 L176.37,181.13 L176.92,180.46 L177.48,179.81 L178.03,179.16 L178.59,178.53 L179.15,177.9 L179.7,177.27 L180.26,176.65 L180.82,176.03 L181.37,175.41 L181.93,174.8 L182.49,174.19 L183.04,173.58 L183.6,172.98 L184.16,172.38 L184.71,171.79 L185.27,171.2 L185.83,170.62 L186.38,170.04 L186.94,169.47 L187.5,168.89 L188.05,168.32 L188.61,167.75 L189.16,167.18 L189.72,166.62 L190.28,166.07 L190.83,165.52 L191.39,164.98 L191.95,164.45 L192.5,163.94 L193.06,163.43 L193.62,162.94 L194.17,162.46 L194.73,161.98 L195.29,161.51 L195.84,161.04 L196.4,160.57 L196.96,160.11 L197.51,159.66 L198.07,159.21 L198.62,158.78 L199.18,158.37 L199.74,157.98 L200.29,157.61 L200.85,157.27 L201.41,156.95 L201.96,156.67 L202.52,156.4 L203.08,156.15 L203.63,155.92 L204.19,155.69 L204.75,155.46 L205.3,155.25 L205.86,155.05 L206.42,154.86 L206.97,154.68 L207.53,154.53 L208.09,154.4 L208.64,154.29 L209.2,154.21 L209.75,154.16 L210.31,154.14 L210.87,154.15 L211.42,154.18 L211.98,154.22 L212.54,154.28 L213.09,154.35 L213.65,154.41 L214.21,154.47 L214.76,154.54 L215.32,154.59 L215.88,154.63 L216.43,154.65 L216.99,154.61 L217.55,154.5 L218.1,154.31 L218.66,154.03 L219.22,153.66 L219.77,153.24 L220.33,152.77 L220.88,152.29 L221.44,151.8 L222,151.33 L222.55,150.88 L223.11,150.45 L223.67,150.05 L224.22,149.64 L224.78,149.23 L225.34,148.83 L225.89,148.43 L226.45,148.05 L227.01,147.69 L227.56,147.38 L228.12,147.12 L228.68,146.92 L229.23,146.8 L229.79,146.74 L230.35,146.76 L230.9,146.84 L231.46,146.97 L232.01,147.16 L232.57,147.4 L233.13,147.67 L233.68,147.98 L234.24,148.32 L234.8,148.69 L235.35,149.08 L235.91,149.48 L236.47,149.9 L237.02,150.33 L237.58,150.77 L238.14,151.24 L238.69,151.74 L239.25,152.28 L239.81,152.87 L240.36,153.51 L240.92,154.2 L241.48,154.93 L242.03,155.69 L242.59,156.48 L243.15,157.28 L243.7,158.09 L244.26,158.9 L244.81,159.71 L245.37,160.51 L245.93,161.3 L246.48,162.1 L247.04,162.91 L247.6,163.73 L248.15,164.57 L248.71,165.42 L249.27,166.28 L249.82,167.14 L250.38,167.99 L250.94,168.82 L251.49,169.63 L252.05,170.4 L252.61,171.13 L253.16,171.81 L253.72,172.44 L254.28,173.01 L254.83,173.54 L255.39,174.03 L255.94,174.48 L256.5,174.89 L257.06,175.28 L257.61,175.63 L258.17,175.94 L258.73,176.22 L259.28,176.48 L259.84,176.71 L260.4,176.94 L260.95,177.17 L261.51,177.42 L262.07,177.7 L262.62,178 L263.18,178.34 L263.74,178.71 L264.29,179.11 L264.85,179.54 L265.4,179.99 L265.96,180.48 L266.52,181 L267.07,181.56 L267.63,182.16 L268.19,182.79 L268.74,183.46 L269.3,184.18 L269.86,184.93 L270.41,185.74 L270.97,186.6 L271.53,187.52 L272.08,188.48 L272.64,189.47 L273.2,190.46 L273.75,191.45 L274.31,192.42 L274.87,193.37 L275.42,194.3 L275.98,195.22 L276.53,196.13 L277.09,197.03 L277.65,197.91 L278.2,198.8 L278.76,199.69 L279.32,200.57 L279.87,201.43 L280.43,202.25 L280.99,203 L281.54,203.66 L282.1,204.22 L282.66,204.7 L283.21,205.12 L283.77,205.49 L284.33,205.8 L284.88,206.06 L285.44,206.25 L286,206.38 L286.55,206.45 L287.11,206.48 L287.66,206.48 L288.22,206.47 L288.78,206.45 L289.33,206.43 L289.89,206.4 L290.45,206.35 L291,206.3 L291.56,206.23 L292.12,206.14 L292.67,206.04 L293.23,205.94 L293.79,205.85 L294.34,205.76 L294.9,205.67 L295.46,205.59 L296.01,205.52 L296.57,205.45 L297.13,205.38 L297.68,205.34 L298.24,205.31 L298.79,205.31 L299.35,205.36 L299.91,205.46 L300.46,205.62 L301.02,205.83 L301.58,206.08 L302.13,206.37 L302.69,206.69 L303.25,207.05 L303.8,207.44 L304.36,207.87 L304.92,208.33 L305.47,208.8 L306.03,209.29 L306.59,209.79 L307.14,210.3 L307.7,210.81 L308.26,211.32 L308.81,211.82 L309.37,212.31 L309.93,212.79 L310.48,213.26 L311.04,213.72 L311.59,214.16 L312.15,214.59 L312.71,215.01 L313.26,215.41 L313.82,215.79 L314.38,216.15 L314.93,216.49 L315.49,216.81 L316.05,217.09 L316.6,217.34 L317.16,217.55 L317.72,217.74 L318.27,217.9 L318.83,218.04 L319.39,218.16 L319.94,218.26 L320.5,218.34 L321.06,218.41 L321.61,218.47 L322.17,218.53 L322.72,218.59 L323.28,218.64 L323.84,218.69 L324.39,218.73 L324.95,218.77 L325.51,218.81 L326.06,218.85 L326.62,218.88 L327.18,218.91 L327.73,218.94 L328.29,218.97 L328.85,219 L329.4,219.03 L329.96,219.05 L330.52,219.08 L331.07,219.1 L331.63,219.12 L332.19,219.14 L332.74,219.16 L333.3,219.18 L333.85,219.2 L334.41,219.22 L334.97,219.24 L335.52,219.25 L336.08,219.26 L336.64,219.28 L337.19,219.28 L337.75,219.29" fill="none" stroke="#f46a12" stroke-width="2.0" stroke-linejoin="round" stroke-linecap="round" />
<path d="M59.5,-172.5 L60.06,-162.3 L60.61,-151.83 L61.17,-141.1 L61.73,-130.11 L62.28,-118.88 L62.84,-107.25 L63.4,-95.21 L63.95,-82.96 L64.51,-70.7 L65.06,-58.61 L65.62,-46.43 L66.18,-34.01 L66.73,-21.78 L67.29,-10.18 L67.85,0.37 L68.4,9.83 L68.96,18.61 L69.52,26.93 L70.07,35.03 L70.63,43.14 L71.19,51.44 L71.74,59.77 L72.3,67.87 L72.86,75.48 L73.41,82.35 L73.97,88.6 L74.53,94.5 L75.08,99.94 L75.64,104.83 L76.19,109.06 L76.75,112.83 L77.31,116.3 L77.86,119.4 L78.42,122.03 L78.98,124.1 L79.53,125.75 L80.09,127.21 L80.65,128.45 L81.2,129.47 L81.76,130.23 L82.32,130.87 L82.87,131.45 L83.43,131.93 L83.99,132.28 L84.54,132.44 L85.1,132.17 L85.66,131.39 L86.21,130.26 L86.77,128.94 L87.33,127.58 L87.88,126.06 L88.44,124.19 L88.99,122.09 L89.55,119.86 L90.11,117.61 L90.66,115.26 L91.22,112.75 L91.78,110.15 L92.33,107.52 L92.89,104.93 L93.45,102.36 L94,99.75 L94.56,97.15 L95.12,94.62 L95.67,92.2 L96.23,89.69 L96.79,87.05 L97.34,84.57 L97.9,82.56 L98.45,81.33 L99.01,80.61 L99.57,80.08 L100.12,79.85 L100.68,80.6 L101.24,82.46 L101.79,84.76 L102.35,86.81 L102.91,88.86 L103.46,90.75 L104.02,91.52 L104.58,90.69 L105.13,88.88 L105.69,86.63 L106.25,84.48 L106.8,82.34 L107.36,79.98 L107.92,77.78 L108.47,76.08 L109.03,75.12 L109.59,74.42 L110.14,73.69 L110.7,72.62 L111.25,70.7 L111.81,67.77 L112.37,64.05 L112.92,57.92 L113.48,49.84 L114.04,43.29 L114.59,38.43 L115.15,34.83 L115.71,34.85 L116.26,38.77 L116.82,44.58 L117.38,53.86 L117.93,67.13 L118.49,80.67 L119.05,93.9 L119.6,107.42 L120.16,119.35 L120.72,129.54 L121.27,138.94 L121.83,147.24 L122.38,153.98 L122.94,159.75 L123.5,164.95 L124.05,169.53 L124.61,173.47 L125.17,176.8 L125.72,179.64 L126.28,182.09 L126.84,184.25 L127.39,186.13 L127.95,187.77 L128.51,189.22 L129.06,190.5 L129.62,191.62 L130.18,192.58 L130.73,193.42 L131.29,194.16 L131.84,194.82 L132.4,195.42 L132.96,195.97 L133.51,196.48 L134.07,196.97 L134.63,197.43 L135.18,197.88 L135.74,198.31 L136.3,198.71 L136.85,199.09 L137.41,199.44 L137.97,199.77 L138.52,200.08 L139.08,200.37 L139.64,200.64 L140.19,200.89 L140.75,201.11 L141.31,201.31 L141.86,201.47 L142.42,201.61 L142.97,201.74 L143.53,201.85 L144.09,201.95 L144.64,202.03 L145.2,202.09 L145.76,202.13 L146.31,202.14 L146.87,202.13 L147.43,202.09 L147.98,202.02 L148.54,201.93 L149.1,201.82 L149.65,201.69 L150.21,201.55 L150.77,201.38 L151.32,201.19 L151.88,200.98 L152.44,200.74 L152.99,200.48 L153.55,200.21 L154.11,199.92 L154.66,199.62 L155.22,199.3 L155.77,198.96 L156.33,198.61 L156.89,198.25 L157.44,197.87 L158,197.48 L158.56,197.08 L159.11,196.67 L159.67,196.26 L160.23,195.84 L160.78,195.42 L161.34,195 L161.9,194.58 L162.45,194.16 L163.01,193.74 L163.57,193.32 L164.12,192.89 L164.68,192.46 L165.24,192.03 L165.79,191.58 L166.35,191.13 L166.9,190.67 L167.46,190.2 L168.02,189.72 L168.57,189.22 L169.13,188.71 L169.69,188.18 L170.24,187.64 L170.8,187.07 L171.36,186.48 L171.91,185.86 L172.47,185.22 L173.03,184.56 L173.58,183.89 L174.14,183.2 L174.7,182.51 L175.25,181.81 L175.81,181.12 L176.37,180.43 L176.92,179.76 L177.48,179.09 L178.03,178.43 L178.59,177.79 L179.15,177.15 L179.7,176.51 L180.26,175.88 L180.82,175.25 L181.37,174.62 L181.93,174 L182.49,173.38 L183.04,172.76 L183.6,172.15 L184.16,171.54 L184.71,170.94 L185.27,170.34 L185.83,169.75 L186.38,169.16 L186.94,168.58 L187.5,167.99 L188.05,167.41 L188.61,166.83 L189.16,166.25 L189.72,165.68 L190.28,165.12 L190.83,164.56 L191.39,164.01 L191.95,163.48 L192.5,162.95 L193.06,162.44 L193.62,161.94 L194.17,161.45 L194.73,160.97 L195.29,160.49 L195.84,160.01 L196.4,159.53 L196.96,159.06 L197.51,158.6 L198.07,158.15 L198.62,157.72 L199.18,157.3 L199.74,156.9 L200.29,156.52 L200.85,156.18 L201.41,155.85 L201.96,155.56 L202.52,155.29 L203.08,155.04 L203.63,154.8 L204.19,154.56 L204.75,154.34 L205.3,154.12 L205.86,153.91 L206.42,153.72 L206.97,153.55 L207.53,153.39 L208.09,153.25 L208.64,153.15 L209.2,153.07 L209.75,153.02 L210.31,152.99 L210.87,153 L211.42,153.03 L211.98,153.08 L212.54,153.14 L213.09,153.2 L213.65,153.27 L214.21,153.33 L214.76,153.4 L215.32,153.45 L215.88,153.5 L216.43,153.51 L216.99,153.47 L217.55,153.36 L218.1,153.16 L218.66,152.88 L219.22,152.51 L219.77,152.08 L220.33,151.61 L220.88,151.11 L221.44,150.61 L222,150.13 L222.55,149.68 L223.11,149.25 L223.67,148.83 L224.22,148.42 L224.78,148.01 L225.34,147.59 L225.89,147.19 L226.45,146.8 L227.01,146.44 L227.56,146.12 L228.12,145.86 L228.68,145.66 L229.23,145.53 L229.79,145.47 L230.35,145.49 L230.9,145.57 L231.46,145.71 L232.01,145.9 L232.57,146.14 L233.13,146.42 L233.68,146.73 L234.24,147.08 L234.8,147.45 L235.35,147.85 L235.91,148.26 L236.47,148.68 L237.02,149.12 L237.58,149.57 L238.14,150.04 L238.69,150.55 L239.25,151.1 L239.81,151.7 L240.36,152.35 L240.92,153.06 L241.48,153.8 L242.03,154.57 L242.59,155.37 L243.15,156.18 L243.7,157.01 L244.26,157.83 L244.81,158.65 L245.37,159.47 L245.93,160.28 L246.48,161.09 L247.04,161.9 L247.6,162.74 L248.15,163.59 L248.71,164.46 L249.27,165.34 L249.82,166.21 L250.38,167.07 L250.94,167.92 L251.49,168.74 L252.05,169.52 L252.61,170.26 L253.16,170.95 L253.72,171.59 L254.28,172.18 L254.83,172.71 L255.39,173.21 L255.94,173.67 L256.5,174.09 L257.06,174.48 L257.61,174.84 L258.17,175.16 L258.73,175.44 L259.28,175.7 L259.84,175.94 L260.4,176.17 L260.95,176.4 L261.51,176.66 L262.07,176.94 L262.62,177.25 L263.18,177.6 L263.74,177.97 L264.29,178.38 L264.85,178.81 L265.4,179.28 L265.96,179.77 L266.52,180.3 L267.07,180.87 L267.63,181.47 L268.19,182.12 L268.74,182.8 L269.3,183.53 L269.86,184.3 L270.41,185.12 L270.97,185.99 L271.53,186.93 L272.08,187.9 L272.64,188.91 L273.2,189.92 L273.75,190.92 L274.31,191.9 L274.87,192.87 L275.42,193.82 L275.98,194.75 L276.53,195.68 L277.09,196.59 L277.65,197.49 L278.2,198.39 L278.76,199.29 L279.32,200.19 L279.87,201.07 L280.43,201.9 L280.99,202.66 L281.54,203.33 L282.1,203.9 L282.66,204.39 L283.21,204.82 L283.77,205.19 L284.33,205.51 L284.88,205.77 L285.44,205.97 L286,206.1 L286.55,206.17 L287.11,206.2 L287.66,206.2 L288.22,206.19 L288.78,206.17 L289.33,206.14 L289.89,206.11 L290.45,206.07 L291,206.01 L291.56,205.94 L292.12,205.85 L292.67,205.75 L293.23,205.65 L293.79,205.56 L294.34,205.47 L294.9,205.38 L295.46,205.3 L296.01,205.22 L296.57,205.15 L297.13,205.09 L297.68,205.03 L298.24,205.01 L298.79,205.01 L299.35,205.06 L299.91,205.16 L300.46,205.32 L301.02,205.53 L301.58,205.79 L302.13,206.09 L302.69,206.41 L303.25,206.78 L303.8,207.18 L304.36,207.61 L304.92,208.08 L305.47,208.56 L306.03,209.05 L306.59,209.56 L307.14,210.08 L307.7,210.6 L308.26,211.12 L308.81,211.63 L309.37,212.13 L309.93,212.61 L310.48,213.09 L311.04,213.55 L311.59,214.01 L312.15,214.45 L312.71,214.87 L313.26,215.27 L313.82,215.66 L314.38,216.03 L314.93,216.38 L315.49,216.7 L316.05,216.99 L316.6,217.24 L317.16,217.46 L317.72,217.65 L318.27,217.81 L318.83,217.95 L319.39,218.07 L319.94,218.17 L320.5,218.25 L321.06,218.33 L321.61,218.39 L322.17,218.45 L322.72,218.51 L323.28,218.56 L323.84,218.61 L324.39,218.65 L324.95,218.7 L325.51,218.73 L326.06,218.77 L326.62,218.81 L327.18,218.84 L327.73,218.87 L328.29,218.9 L328.85,218.93 L329.4,218.95 L329.96,218.98 L330.52,219 L331.07,219.03 L331.63,219.05 L332.19,219.07 L332.74,219.09 L333.3,219.11 L333.85,219.13 L334.41,219.15 L334.97,219.17 L335.52,219.18 L336.08,219.19 L336.64,219.21 L337.19,219.22 L337.75,219.22" fill="none" stroke="#86a8dc" stroke-width="2.0" stroke-linejoin="round" stroke-linecap="round" />
<path d="M59.5,-172.5 L60.06,-162.3 L60.61,-151.84 L61.17,-141.11 L61.73,-130.12 L62.28,-118.89 L62.84,-107.26 L63.4,-95.22 L63.95,-82.96 L64.51,-70.69 L65.06,-58.61 L65.62,-46.41 L66.18,-33.98 L66.73,-21.74 L67.29,-10.15 L67.85,0.36 L68.4,9.75 L68.96,18.43 L69.52,26.64 L70.07,34.61 L70.63,42.58 L71.19,50.74 L71.74,58.92 L72.3,66.87 L72.86,74.32 L73.41,81.03 L73.97,87.14 L74.53,92.91 L75.08,98.24 L75.64,103.03 L76.19,107.18 L76.75,110.9 L77.31,114.34 L77.86,117.42 L78.42,120.04 L78.98,122.09 L79.53,123.73 L80.09,125.18 L80.65,126.41 L81.2,127.42 L81.76,128.18 L82.32,128.79 L82.87,129.36 L83.43,129.83 L83.99,130.15 L84.54,130.29 L85.1,130 L85.66,129.18 L86.21,128 L86.77,126.62 L87.33,125.21 L87.88,123.63 L88.44,121.7 L88.99,119.53 L89.55,117.23 L90.11,114.9 L90.66,112.49 L91.22,109.91 L91.78,107.24 L92.33,104.55 L92.89,101.9 L93.45,99.26 L94,96.59 L94.56,93.93 L95.12,91.34 L95.67,88.87 L96.23,86.3 L96.79,83.6 L97.34,81.07 L97.9,79.02 L98.45,77.76 L99.01,77.05 L99.57,76.51 L100.12,76.29 L100.68,77.07 L101.24,79 L101.79,81.38 L102.35,83.49 L102.91,85.61 L103.46,87.63 L104.02,88.5 L104.58,87.72 L105.13,85.95 L105.69,83.72 L106.25,81.61 L106.8,79.5 L107.36,77.18 L107.92,75.02 L108.47,73.37 L109.03,72.42 L109.59,71.74 L110.14,71.03 L110.7,69.96 L111.25,68.04 L111.81,65.09 L112.37,61.34 L112.92,55.12 L113.48,46.94 L114.04,40.27 L114.59,35.32 L115.15,31.66 L115.71,31.69 L116.26,35.67 L116.82,41.58 L117.38,51.03 L117.93,64.53 L118.49,78.31 L119.05,91.77 L119.6,105.54 L120.16,117.67 L120.72,128.04 L121.27,137.6 L121.83,146.06 L122.38,152.91 L122.94,158.78 L123.5,164.07 L124.05,168.72 L124.61,172.72 L125.17,176.12 L125.72,179.01 L126.28,181.49 L126.84,183.69 L127.39,185.6 L127.95,187.27 L128.51,188.75 L129.06,190.04 L129.62,191.18 L130.18,192.16 L130.73,193.01 L131.29,193.76 L131.84,194.43 L132.4,195.03 L132.96,195.59 L133.51,196.11 L134.07,196.61 L134.63,197.08 L135.18,197.53 L135.74,197.97 L136.3,198.37 L136.85,198.76 L137.41,199.12 L137.97,199.45 L138.52,199.76 L139.08,200.06 L139.64,200.33 L140.19,200.58 L140.75,200.8 L141.31,201 L141.86,201.17 L142.42,201.31 L142.97,201.43 L143.53,201.54 L144.09,201.64 L144.64,201.72 L145.2,201.78 L145.76,201.82 L146.31,201.83 L146.87,201.81 L147.43,201.77 L147.98,201.7 L148.54,201.6 L149.1,201.49 L149.65,201.36 L150.21,201.21 L150.77,201.04 L151.32,200.84 L151.88,200.62 L152.44,200.38 L152.99,200.11 L153.55,199.83 L154.11,199.54 L154.66,199.23 L155.22,198.9 L155.77,198.56 L156.33,198.2 L156.89,197.83 L157.44,197.44 L158,197.04 L158.56,196.63 L159.11,196.21 L159.67,195.79 L160.23,195.37 L160.78,194.94 L161.34,194.51 L161.9,194.08 L162.45,193.65 L163.01,193.22 L163.57,192.79 L164.12,192.35 L164.68,191.91 L165.24,191.46 L165.79,191.01 L166.35,190.55 L166.9,190.08 L167.46,189.6 L168.02,189.1 L168.57,188.6 L169.13,188.08 L169.69,187.54 L170.24,186.99 L170.8,186.41 L171.36,185.8 L171.91,185.17 L172.47,184.52 L173.03,183.85 L173.58,183.16 L174.14,182.46 L174.7,181.76 L175.25,181.05 L175.81,180.35 L176.37,179.65 L176.92,178.95 L177.48,178.28 L178.03,177.61 L178.59,176.95 L179.15,176.3 L179.7,175.65 L180.26,175 L180.82,174.36 L181.37,173.72 L181.93,173.09 L182.49,172.46 L183.04,171.83 L183.6,171.21 L184.16,170.59 L184.71,169.97 L185.27,169.37 L185.83,168.76 L186.38,168.16 L186.94,167.57 L187.5,166.97 L188.05,166.38 L188.61,165.79 L189.16,165.2 L189.72,164.62 L190.28,164.04 L190.83,163.48 L191.39,162.92 L191.95,162.37 L192.5,161.84 L193.06,161.31 L193.62,160.81 L194.17,160.31 L194.73,159.81 L195.29,159.32 L195.84,158.84 L196.4,158.35 L196.96,157.88 L197.51,157.41 L198.07,156.95 L198.62,156.5 L199.18,156.08 L199.74,155.67 L200.29,155.29 L200.85,154.93 L201.41,154.61 L201.96,154.31 L202.52,154.03 L203.08,153.78 L203.63,153.53 L204.19,153.29 L204.75,153.06 L205.3,152.84 L205.86,152.63 L206.42,152.43 L206.97,152.25 L207.53,152.1 L208.09,151.96 L208.64,151.85 L209.2,151.77 L209.75,151.72 L210.31,151.69 L210.87,151.7 L211.42,151.73 L211.98,151.78 L212.54,151.84 L213.09,151.91 L213.65,151.97 L214.21,152.04 L214.76,152.1 L215.32,152.16 L215.88,152.2 L216.43,152.22 L216.99,152.18 L217.55,152.07 L218.1,151.87 L218.66,151.57 L219.22,151.2 L219.77,150.76 L220.33,150.28 L220.88,149.77 L221.44,149.27 L222,148.78 L222.55,148.31 L223.11,147.87 L223.67,147.45 L224.22,147.03 L224.78,146.61 L225.34,146.19 L225.89,145.78 L226.45,145.38 L227.01,145.02 L227.56,144.69 L228.12,144.43 L228.68,144.22 L229.23,144.09 L229.79,144.03 L230.35,144.05 L230.9,144.13 L231.46,144.27 L232.01,144.47 L232.57,144.71 L233.13,144.99 L233.68,145.31 L234.24,145.67 L234.8,146.05 L235.35,146.45 L235.91,146.87 L236.47,147.3 L237.02,147.75 L237.58,148.21 L238.14,148.69 L238.69,149.2 L239.25,149.76 L239.81,150.38 L240.36,151.04 L240.92,151.76 L241.48,152.51 L242.03,153.3 L242.59,154.11 L243.15,154.94 L243.7,155.78 L244.26,156.62 L244.81,157.46 L245.37,158.29 L245.93,159.11 L246.48,159.93 L247.04,160.77 L247.6,161.62 L248.15,162.49 L248.71,163.37 L249.27,164.26 L249.82,165.15 L250.38,166.03 L250.94,166.89 L251.49,167.73 L252.05,168.53 L252.61,169.28 L253.16,169.98 L253.72,170.63 L254.28,171.23 L254.83,171.78 L255.39,172.28 L255.94,172.75 L256.5,173.18 L257.06,173.58 L257.61,173.94 L258.17,174.26 L258.73,174.56 L259.28,174.82 L259.84,175.06 L260.4,175.29 L260.95,175.53 L261.51,175.79 L262.07,176.08 L262.62,176.4 L263.18,176.75 L263.74,177.13 L264.29,177.54 L264.85,177.99 L265.4,178.46 L265.96,178.96 L266.52,179.5 L267.07,180.08 L267.63,180.7 L268.19,181.35 L268.74,182.05 L269.3,182.79 L269.86,183.57 L270.41,184.41 L270.97,185.3 L271.53,186.25 L272.08,187.25 L272.64,188.27 L273.2,189.3 L273.75,190.32 L274.31,191.32 L274.87,192.31 L275.42,193.27 L275.98,194.22 L276.53,195.16 L277.09,196.09 L277.65,197.01 L278.2,197.93 L278.76,198.85 L279.32,199.76 L279.87,200.66 L280.43,201.5 L280.99,202.28 L281.54,202.96 L282.1,203.54 L282.66,204.04 L283.21,204.48 L283.77,204.85 L284.33,205.18 L284.88,205.45 L285.44,205.65 L286,205.78 L286.55,205.85 L287.11,205.88 L287.66,205.88 L288.22,205.87 L288.78,205.85 L289.33,205.82 L289.89,205.79 L290.45,205.75 L291,205.69 L291.56,205.62 L292.12,205.53 L292.67,205.43 L293.23,205.33 L293.79,205.23 L294.34,205.13 L294.9,205.05 L295.46,204.96 L296.01,204.88 L296.57,204.81 L297.13,204.75 L297.68,204.69 L298.24,204.66 L298.79,204.67 L299.35,204.72 L299.91,204.82 L300.46,204.98 L301.02,205.2 L301.58,205.47 L302.13,205.76 L302.69,206.1 L303.25,206.47 L303.8,206.88 L304.36,207.32 L304.92,207.79 L305.47,208.28 L306.03,208.79 L306.59,209.31 L307.14,209.83 L307.7,210.36 L308.26,210.89 L308.81,211.41 L309.37,211.92 L309.93,212.41 L310.48,212.9 L311.04,213.37 L311.59,213.83 L312.15,214.28 L312.71,214.71 L313.26,215.12 L313.82,215.52 L314.38,215.89 L314.93,216.25 L315.49,216.57 L316.05,216.87 L316.6,217.12 L317.16,217.35 L317.72,217.54 L318.27,217.7 L318.83,217.85 L319.39,217.97 L319.94,218.07 L320.5,218.16 L321.06,218.23 L321.61,218.3 L322.17,218.36 L322.72,218.42 L323.28,218.47 L323.84,218.52 L324.39,218.56 L324.95,218.61 L325.51,218.65 L326.06,218.68 L326.62,218.72 L327.18,218.75 L327.73,218.78 L328.29,218.81 L328.85,218.84 L329.4,218.87 L329.96,218.89 L330.52,218.92 L331.07,218.94 L331.63,218.97 L332.19,218.99 L332.74,219.01 L333.3,219.03 L333.85,219.05 L334.41,219.07 L334.97,219.09 L335.52,219.1 L336.08,219.11 L336.64,219.13 L337.19,219.14 L337.75,219.15" fill="none" stroke="#66bb1a" stroke-width="2.0" stroke-linejoin="round" stroke-linecap="round" />
<path d="M59.5,-172.5 L60.06,-162.31 L60.61,-151.85 L61.17,-141.12 L61.73,-130.13 L62.28,-118.9 L62.84,-107.27 L63.4,-95.23 L63.95,-82.96 L64.51,-70.69 L65.06,-58.6 L65.62,-46.4 L66.18,-33.94 L66.73,-21.69 L67.29,-10.1 L67.85,0.36 L68.4,9.66 L68.96,18.22 L69.52,26.28 L70.07,34.09 L70.63,41.9 L71.19,49.88 L71.74,57.87 L72.3,65.63 L72.86,72.9 L73.41,79.42 L73.97,85.35 L74.53,90.96 L75.08,96.14 L75.64,100.81 L76.19,104.88 L76.75,108.53 L77.31,111.94 L77.86,114.99 L78.42,117.59 L78.98,119.62 L79.53,121.25 L80.09,122.69 L80.65,123.91 L81.2,124.91 L81.76,125.65 L82.32,126.24 L82.87,126.79 L83.43,127.24 L83.99,127.55 L84.54,127.66 L85.1,127.33 L85.66,126.46 L86.21,125.22 L86.77,123.77 L87.33,122.3 L87.88,120.65 L88.44,118.64 L88.99,116.38 L89.55,113.99 L90.11,111.58 L90.66,109.09 L91.22,106.43 L91.78,103.68 L92.33,100.91 L92.89,98.18 L93.45,95.47 L94,92.72 L94.56,89.98 L95.12,87.32 L95.67,84.78 L96.23,82.14 L96.79,79.37 L97.34,76.77 L97.9,74.67 L98.45,73.39 L99.01,72.67 L99.57,72.13 L100.12,71.92 L100.68,72.75 L101.24,74.75 L101.79,77.22 L102.35,79.42 L102.91,81.62 L103.46,83.8 L104.02,84.78 L104.58,84.08 L105.13,82.34 L105.69,80.15 L106.25,78.08 L106.8,76.02 L107.36,73.74 L107.92,71.62 L108.47,70.04 L109.03,69.1 L109.59,68.44 L110.14,67.74 L110.7,66.69 L111.25,64.76 L111.81,61.78 L112.37,57.98 L112.92,51.67 L113.48,43.35 L114.04,36.54 L114.59,31.48 L115.15,27.75 L115.71,27.77 L116.26,31.84 L116.82,37.88 L117.38,47.53 L117.93,61.32 L118.49,75.4 L119.05,89.15 L119.6,103.21 L120.16,115.6 L120.72,126.19 L121.27,135.96 L121.83,144.59 L122.38,151.59 L122.94,157.58 L123.5,162.98 L124.05,167.72 L124.61,171.81 L125.17,175.27 L125.72,178.22 L126.28,180.76 L126.84,183 L127.39,184.95 L127.95,186.65 L128.51,188.16 L129.06,189.48 L129.62,190.63 L130.18,191.64 L130.73,192.5 L131.29,193.27 L131.84,193.94 L132.4,194.56 L132.96,195.13 L133.51,195.66 L134.07,196.16 L134.63,196.65 L135.18,197.11 L135.74,197.55 L136.3,197.96 L136.85,198.35 L137.41,198.71 L137.97,199.05 L138.52,199.37 L139.08,199.67 L139.64,199.94 L140.19,200.2 L140.75,200.42 L141.31,200.62 L141.86,200.79 L142.42,200.93 L142.97,201.06 L143.53,201.17 L144.09,201.26 L144.64,201.34 L145.2,201.4 L145.76,201.44 L146.31,201.45 L146.87,201.42 L147.43,201.37 L147.98,201.3 L148.54,201.2 L149.1,201.08 L149.65,200.94 L150.21,200.79 L150.77,200.61 L151.32,200.41 L151.88,200.18 L152.44,199.93 L152.99,199.66 L153.55,199.37 L154.11,199.06 L154.66,198.74 L155.22,198.41 L155.77,198.06 L156.33,197.69 L156.89,197.3 L157.44,196.91 L158,196.5 L158.56,196.08 L159.11,195.65 L159.67,195.21 L160.23,194.78 L160.78,194.34 L161.34,193.9 L161.9,193.45 L162.45,193.01 L163.01,192.57 L163.57,192.13 L164.12,191.68 L164.68,191.23 L165.24,190.77 L165.79,190.3 L166.35,189.83 L166.9,189.35 L167.46,188.85 L168.02,188.35 L168.57,187.83 L169.13,187.3 L169.69,186.75 L170.24,186.18 L170.8,185.59 L171.36,184.97 L171.91,184.33 L172.47,183.66 L173.03,182.97 L173.58,182.27 L174.14,181.55 L174.7,180.83 L175.25,180.11 L175.81,179.39 L176.37,178.67 L176.92,177.96 L177.48,177.27 L178.03,176.59 L178.59,175.91 L179.15,175.25 L179.7,174.58 L180.26,173.92 L180.82,173.27 L181.37,172.61 L181.93,171.96 L182.49,171.32 L183.04,170.68 L183.6,170.04 L184.16,169.41 L184.71,168.78 L185.27,168.16 L185.83,167.54 L186.38,166.93 L186.94,166.32 L187.5,165.71 L188.05,165.1 L188.61,164.5 L189.16,163.9 L189.72,163.3 L190.28,162.71 L190.83,162.13 L191.39,161.56 L191.95,161 L192.5,160.46 L193.06,159.92 L193.62,159.4 L194.17,158.89 L194.73,158.39 L195.29,157.89 L195.84,157.39 L196.4,156.89 L196.96,156.41 L197.51,155.93 L198.07,155.46 L198.62,155 L199.18,154.57 L199.74,154.15 L200.29,153.76 L200.85,153.4 L201.41,153.06 L201.96,152.76 L202.52,152.48 L203.08,152.21 L203.63,151.96 L204.19,151.72 L204.75,151.49 L205.3,151.26 L205.86,151.04 L206.42,150.84 L206.97,150.66 L207.53,150.5 L208.09,150.36 L208.64,150.24 L209.2,150.16 L209.75,150.11 L210.31,150.09 L210.87,150.09 L211.42,150.12 L211.98,150.17 L212.54,150.23 L213.09,150.3 L213.65,150.37 L214.21,150.44 L214.76,150.5 L215.32,150.56 L215.88,150.61 L216.43,150.62 L216.99,150.58 L217.55,150.47 L218.1,150.26 L218.66,149.96 L219.22,149.58 L219.77,149.13 L220.33,148.64 L220.88,148.12 L221.44,147.6 L222,147.1 L222.55,146.63 L223.11,146.18 L223.67,145.75 L224.22,145.32 L224.78,144.89 L225.34,144.46 L225.89,144.04 L226.45,143.63 L227.01,143.26 L227.56,142.93 L228.12,142.65 L228.68,142.44 L229.23,142.31 L229.79,142.25 L230.35,142.27 L230.9,142.35 L231.46,142.5 L232.01,142.69 L232.57,142.94 L233.13,143.23 L233.68,143.56 L234.24,143.92 L234.8,144.31 L235.35,144.72 L235.91,145.15 L236.47,145.59 L237.02,146.05 L237.58,146.52 L238.14,147.01 L238.69,147.54 L239.25,148.11 L239.81,148.74 L240.36,149.42 L240.92,150.15 L241.48,150.92 L242.03,151.72 L242.59,152.55 L243.15,153.4 L243.7,154.26 L244.26,155.12 L244.81,155.98 L245.37,156.82 L245.93,157.67 L246.48,158.51 L247.04,159.36 L247.6,160.23 L248.15,161.12 L248.71,162.03 L249.27,162.94 L249.82,163.85 L250.38,164.75 L250.94,165.63 L251.49,166.48 L252.05,167.29 L252.61,168.07 L253.16,168.79 L253.72,169.45 L254.28,170.06 L254.83,170.62 L255.39,171.13 L255.94,171.61 L256.5,172.05 L257.06,172.46 L257.61,172.83 L258.17,173.16 L258.73,173.46 L259.28,173.73 L259.84,173.97 L260.4,174.21 L260.95,174.46 L261.51,174.73 L262.07,175.02 L262.62,175.34 L263.18,175.7 L263.74,176.09 L264.29,176.52 L264.85,176.97 L265.4,177.45 L265.96,177.96 L266.52,178.52 L267.07,179.11 L267.63,179.74 L268.19,180.41 L268.74,181.12 L269.3,181.88 L269.86,182.68 L270.41,183.53 L270.97,184.45 L271.53,185.42 L272.08,186.43 L272.64,187.48 L273.2,188.53 L273.75,189.58 L274.31,190.6 L274.87,191.61 L275.42,192.59 L275.98,193.57 L276.53,194.53 L277.09,195.48 L277.65,196.42 L278.2,197.36 L278.76,198.29 L279.32,199.23 L279.87,200.14 L280.43,201.01 L280.99,201.8 L281.54,202.5 L282.1,203.1 L282.66,203.61 L283.21,204.05 L283.77,204.44 L284.33,204.77 L284.88,205.04 L285.44,205.25 L286,205.38 L286.55,205.45 L287.11,205.48 L287.66,205.49 L288.22,205.47 L288.78,205.45 L289.33,205.43 L289.89,205.4 L290.45,205.35 L291,205.29 L291.56,205.22 L292.12,205.13 L292.67,205.02 L293.23,204.92 L293.79,204.82 L294.34,204.72 L294.9,204.63 L295.46,204.55 L296.01,204.47 L296.57,204.39 L297.13,204.33 L297.68,204.27 L298.24,204.24 L298.79,204.25 L299.35,204.29 L299.91,204.4 L300.46,204.57 L301.02,204.79 L301.58,205.06 L302.13,205.37 L302.69,205.71 L303.25,206.08 L303.8,206.5 L304.36,206.96 L304.92,207.44 L305.47,207.94 L306.03,208.46 L306.59,208.99 L307.14,209.53 L307.7,210.07 L308.26,210.61 L308.81,211.14 L309.37,211.66 L309.93,212.16 L310.48,212.66 L311.04,213.14 L311.59,213.62 L312.15,214.07 L312.71,214.51 L313.26,214.93 L313.82,215.34 L314.38,215.72 L314.93,216.09 L315.49,216.42 L316.05,216.72 L316.6,216.98 L317.16,217.21 L317.72,217.4 L318.27,217.58 L318.83,217.72 L319.39,217.85 L319.94,217.95 L320.5,218.04 L321.06,218.11 L321.61,218.18 L322.17,218.24 L322.72,218.3 L323.28,218.36 L323.84,218.41 L324.39,218.45 L324.95,218.5 L325.51,218.54 L326.06,218.58 L326.62,218.61 L327.18,218.65 L327.73,218.68 L328.29,218.71 L328.85,218.74 L329.4,218.77 L329.96,218.79 L330.52,218.82 L331.07,218.84 L331.63,218.87 L332.19,218.89 L332.74,218.91 L333.3,218.93 L333.85,218.95 L334.41,218.97 L334.97,218.99 L335.52,219 L336.08,219.02 L336.64,219.03 L337.19,219.04 L337.75,219.05" fill="none" stroke="#505050" stroke-width="2.7" stroke-linejoin="round" stroke-linecap="round" />
</g>
<rect x="59.5" y="0.7" width="278.5" height="228.8" fill="none" stroke="#000" stroke-width="1.5"/>
<line x1="54.0" y1="229.5" x2="59.5" y2="229.5" stroke="#000" stroke-width="1.3"/>
<text x="50.6" y="235.1" font-size="19.5" text-anchor="end" >0.0</text>
<line x1="56.3" y1="209.4" x2="59.5" y2="209.4" stroke="#000" stroke-width="1.3"/>
<line x1="54.0" y1="189.3" x2="59.5" y2="189.3" stroke="#000" stroke-width="1.3"/>
<text x="50.6" y="194.9" font-size="19.5" text-anchor="end" >0.3</text>
<line x1="56.3" y1="169.2" x2="59.5" y2="169.2" stroke="#000" stroke-width="1.3"/>
<line x1="54.0" y1="149.1" x2="59.5" y2="149.1" stroke="#000" stroke-width="1.3"/>
<text x="50.6" y="154.7" font-size="19.5" text-anchor="end" >0.6</text>
<line x1="56.3" y1="129" x2="59.5" y2="129" stroke="#000" stroke-width="1.3"/>
<line x1="54.0" y1="108.9" x2="59.5" y2="108.9" stroke="#000" stroke-width="1.3"/>
<text x="50.6" y="114.5" font-size="19.5" text-anchor="end" >0.9</text>
<line x1="56.3" y1="88.8" x2="59.5" y2="88.8" stroke="#000" stroke-width="1.3"/>
<line x1="54.0" y1="68.7" x2="59.5" y2="68.7" stroke="#000" stroke-width="1.3"/>
<text x="50.6" y="74.3" font-size="19.5" text-anchor="end" >1.2</text>
<line x1="56.3" y1="48.6" x2="59.5" y2="48.6" stroke="#000" stroke-width="1.3"/>
<line x1="54.0" y1="28.5" x2="59.5" y2="28.5" stroke="#000" stroke-width="1.3"/>
<text x="50.6" y="34.1" font-size="19.5" text-anchor="end" >1.5</text>
<line x1="56.3" y1="8.4" x2="59.5" y2="8.4" stroke="#000" stroke-width="1.3"/>
<line x1="59.5" y1="229.5" x2="59.5" y2="232.7" stroke="#000" stroke-width="1.3"/>
<line x1="87.33" y1="229.5" x2="87.33" y2="235.0" stroke="#000" stroke-width="1.3"/>
<text x="87.33" y="253" font-size="19.5" text-anchor="middle" >350</text>
<line x1="115.15" y1="229.5" x2="115.15" y2="232.7" stroke="#000" stroke-width="1.3"/>
<line x1="142.97" y1="229.5" x2="142.97" y2="235.0" stroke="#000" stroke-width="1.3"/>
<text x="142.97" y="253" font-size="19.5" text-anchor="middle" >450</text>
<line x1="170.8" y1="229.5" x2="170.8" y2="232.7" stroke="#000" stroke-width="1.3"/>
<line x1="198.62" y1="229.5" x2="198.62" y2="235.0" stroke="#000" stroke-width="1.3"/>
<text x="198.62" y="253" font-size="19.5" text-anchor="middle" >550</text>
<line x1="226.45" y1="229.5" x2="226.45" y2="232.7" stroke="#000" stroke-width="1.3"/>
<line x1="254.28" y1="229.5" x2="254.28" y2="235.0" stroke="#000" stroke-width="1.3"/>
<text x="254.28" y="253" font-size="19.5" text-anchor="middle" >650</text>
<line x1="282.1" y1="229.5" x2="282.1" y2="232.7" stroke="#000" stroke-width="1.3"/>
<line x1="309.93" y1="229.5" x2="309.93" y2="235.0" stroke="#000" stroke-width="1.3"/>
<text x="309.93" y="253" font-size="19.5" text-anchor="middle" >750</text>
<line x1="337.75" y1="229.5" x2="337.75" y2="232.7" stroke="#000" stroke-width="1.3"/>
<text x="199" y="274.5" font-size="19" text-anchor="middle" >Wavelength (nm)</text>
<text x="18.3" y="111.8" font-size="19.4" text-anchor="middle" transform="rotate(-90 18.3 111.8)">Absorbance</text>
<text x="4" y="19.3" font-size="25.5" font-weight="bold" >a</text>
<defs>
<linearGradient id="cvH" x1="0" y1="0" x2="1" y2="0">
<stop offset="0" stop-color="#c2c2c2"/><stop offset="0.08" stop-color="#dadada"/><stop offset="0.16" stop-color="#e2e2e2"/>
<stop offset="0.84" stop-color="#e0e0e0"/><stop offset="0.92" stop-color="#d4d4d4"/><stop offset="1" stop-color="#c4c4c4"/></linearGradient>
<linearGradient id="cvH2" x1="0" y1="0" x2="1" y2="0">
<stop offset="0" stop-color="#b2b2b2"/><stop offset="0.1" stop-color="#d0d0d0"/><stop offset="0.5" stop-color="#d8d8d8"/>
<stop offset="0.9" stop-color="#cccccc"/><stop offset="1" stop-color="#b0b0b0"/></linearGradient>
<linearGradient id="cvTop" x1="0" y1="0" x2="0" y2="1">
<stop offset="0" stop-color="#bababa"/><stop offset="1" stop-color="#cacaca"/></linearGradient>
</defs>
<g>
<rect x="152.9" y="20.8" width="35.1" height="102" fill="url(#cvH)"/>
<rect x="152.9" y="20.8" width="35.1" height="14" fill="url(#cvTop)"/>
<path d="M155,35 Q157,28 166,27 Q176,26 186,30 L186,36 Z" fill="#cbcbcb"/>
<rect x="158.4" y="38.2" width="24.4" height="19" rx="3.5" fill="#c8c8c8" stroke="#eeeeee" stroke-width="1.3"/>
<path d="M158.6,53.5 Q170.6,60 182.6,53.5" stroke="#f8f8f8" stroke-width="2.8" fill="none"/>
<rect x="158.5" y="60" width="24.2" height="54" fill="#e8e8e8"/>
<rect x="158.5" y="84" width="24.2" height="18" fill="#eeeeee"/>
<path d="M158.4,40 V118 M182.6,40 V118" stroke="#cdcdcd" stroke-width="0.9"/>
<rect x="152.9" y="113" width="35.1" height="9.8" fill="#dddddd"/>
<rect x="156" y="116.5" width="29" height="2.5" fill="#ededed"/>
<rect x="152.9" y="121.5" width="35.1" height="1.3" fill="#c8c8c8"/>
</g>
<g>
<rect x="268.1" y="20.8" width="34.5" height="101.4" fill="url(#cvH2)"/>
<rect x="268.1" y="20.8" width="34.5" height="11.5" fill="#adadad"/>
<path d="M272.5,52 L272.5,38 Q272.5,33 278,33 L293.5,33 Q299,33 299,38 L299,52 Z" fill="#d6d6d6"/>
<path d="M272.5,51 Q285.8,57.5 299,51" stroke="#f4f4f4" stroke-width="3" fill="none"/>
<rect x="272.8" y="55" width="26.2" height="62" fill="#2e4aac"/>
<path d="M272.8,55 Q285.8,59.5 299,55 L299,58.5 Q285.8,62 272.8,58.5 Z" fill="#1c2c7c"/>
<rect x="272.8" y="86" width="26.2" height="31" fill="#2d48a6"/>
<rect x="272.8" y="113" width="26.2" height="5" fill="#31458f"/>
<rect x="268.1" y="118" width="34.5" height="4.2" fill="#b4b4bc"/>
</g>
<line x1="195" y1="69.5" x2="252" y2="69.5" stroke="#000" stroke-width="1.5"/>
<path d="M259.5,69.5 L247.5,65.2 L247.5,73.8 Z" fill="#000"/>
<line x1="202" y1="77.5" x2="259" y2="77.5" stroke="#000" stroke-width="1.5"/>
<path d="M194.5,77.5 L206.5,73.2 L206.5,81.8 Z" fill="#000"/>
<text x="199" y="59.5" font-size="17.5" ><tspan font-style="italic">hv</tspan> (N<tspan font-size="12" dy="4">2</tspan><tspan dy="-4">)</tspan></text>
<text x="226" y="96" font-size="17.5" text-anchor="middle" >Air</text>
<text x="148.6" y="143" font-size="16.9" ><tspan font-weight="bold">1</tspan>-BAr<tspan font-size="12" dy="4">F</tspan></text>
<line x1="287.3" y1="148" x2="287.3" y2="194.4" stroke="#000" stroke-width="2.7"/>
<path d="M287.3,136 L282.6,151 L292,151 Z" fill="#000" stroke="#000" stroke-width="0.6" stroke-linejoin="round"/>
<text x="295" y="156.8" font-size="16.8" >180 s</text>
<text x="297.5" y="193" font-size="16.8" >0 s</text>
<text x="266.3" y="173.5" font-size="16.8" font-style="italic" >hv</text>
<rect x="402.6" y="2.0" width="279.69999999999993" height="228.3" fill="none" stroke="#000" stroke-width="1.5"/>
<line x1="397.1" y1="230.3" x2="402.6" y2="230.3" stroke="#000" stroke-width="1.3"/>
<text x="395.7" y="235.9" font-size="19.5" text-anchor="end" >0.0</text>
<line x1="399.40000000000003" y1="207.15" x2="402.6" y2="207.15" stroke="#000" stroke-width="1.3"/>
<line x1="397.1" y1="184" x2="402.6" y2="184" stroke="#000" stroke-width="1.3"/>
<text x="395.7" y="189.6" font-size="19.5" text-anchor="end" >0.5</text>
<line x1="399.40000000000003" y1="160.85" x2="402.6" y2="160.85" stroke="#000" stroke-width="1.3"/>
<line x1="397.1" y1="137.7" x2="402.6" y2="137.7" stroke="#000" stroke-width="1.3"/>
<text x="395.7" y="143.3" font-size="19.5" text-anchor="end" >1.0</text>
<line x1="399.40000000000003" y1="114.55" x2="402.6" y2="114.55" stroke="#000" stroke-width="1.3"/>
<line x1="397.1" y1="91.4" x2="402.6" y2="91.4" stroke="#000" stroke-width="1.3"/>
<text x="395.7" y="97" font-size="19.5" text-anchor="end" >1.5</text>
<line x1="399.40000000000003" y1="68.25" x2="402.6" y2="68.25" stroke="#000" stroke-width="1.3"/>
<line x1="397.1" y1="45.1" x2="402.6" y2="45.1" stroke="#000" stroke-width="1.3"/>
<text x="395.7" y="50.7" font-size="19.5" text-anchor="end" >2.0</text>
<line x1="399.40000000000003" y1="21.95" x2="402.6" y2="21.95" stroke="#000" stroke-width="1.3"/>
<line x1="402.6" y1="230.3" x2="402.6" y2="235.8" stroke="#000" stroke-width="1.3"/>
<text x="402.6" y="254" font-size="19.5" text-anchor="middle" >0</text>
<line x1="428.12" y1="230.3" x2="428.12" y2="233.5" stroke="#000" stroke-width="1.3"/>
<line x1="453.65" y1="230.3" x2="453.65" y2="235.8" stroke="#000" stroke-width="1.3"/>
<text x="453.65" y="254" font-size="19.5" text-anchor="middle" >20</text>
<line x1="479.18" y1="230.3" x2="479.18" y2="233.5" stroke="#000" stroke-width="1.3"/>
<line x1="504.7" y1="230.3" x2="504.7" y2="235.8" stroke="#000" stroke-width="1.3"/>
<text x="504.7" y="254" font-size="19.5" text-anchor="middle" >40</text>
<line x1="530.23" y1="230.3" x2="530.23" y2="233.5" stroke="#000" stroke-width="1.3"/>
<line x1="555.75" y1="230.3" x2="555.75" y2="235.8" stroke="#000" stroke-width="1.3"/>
<text x="555.75" y="254" font-size="19.5" text-anchor="middle" >60</text>
<line x1="581.28" y1="230.3" x2="581.28" y2="233.5" stroke="#000" stroke-width="1.3"/>
<line x1="606.8" y1="230.3" x2="606.8" y2="235.8" stroke="#000" stroke-width="1.3"/>
<text x="606.8" y="254" font-size="19.5" text-anchor="middle" >80</text>
<line x1="632.33" y1="230.3" x2="632.33" y2="233.5" stroke="#000" stroke-width="1.3"/>
<line x1="657.85" y1="230.3" x2="657.85" y2="235.8" stroke="#000" stroke-width="1.3"/>
<text x="657.85" y="254" font-size="19.5" text-anchor="middle" >100</text>
<line x1="683.38" y1="230.3" x2="683.38" y2="233.5" stroke="#000" stroke-width="1.3"/>
<text x="543.3" y="277" font-size="19.8" text-anchor="middle" >Time (s)</text>
<text x="364.5" y="122.7" font-size="19" text-anchor="middle" transform="rotate(-90 364.5 122.7)">Abs. at 612 nm</text>
<text x="351" y="19" font-size="25.5" font-weight="bold" >b</text>
<defs><radialGradient id="gNavy" cx="0.5" cy="0.5" r="0.5" fx="0.36" fy="0.34"><stop offset="0" stop-color="#ffffff"/><stop offset="0.14" stop-color="#ffffff" stop-opacity="1"/><stop offset="0.5" stop-color="#1c1c94"/><stop offset="0.86" stop-color="#1c1c94"/><stop offset="1" stop-color="#0a0a50"/></radialGradient></defs>
<g clip-path="url(#clipB)">
<path d="M402.6,227.99 L440.89,214 L479.18,205.95 L517.46,200.02 L555.75,195.76 L594.04,193.72 L632.33,193.26 L670.61,192.33" fill="none" stroke="#1c1c94" stroke-width="2.2" stroke-linejoin="round" stroke-linecap="round" />
<circle cx="402.6" cy="227.99" r="5.6" fill="url(#gNavy)"/>
<circle cx="440.89" cy="214" r="5.6" fill="url(#gNavy)"/>
<circle cx="479.18" cy="205.95" r="5.6" fill="url(#gNavy)"/>
<circle cx="517.46" cy="200.02" r="5.6" fill="url(#gNavy)"/>
<circle cx="555.75" cy="195.76" r="5.6" fill="url(#gNavy)"/>
<circle cx="594.04" cy="193.72" r="5.6" fill="url(#gNavy)"/>
<circle cx="632.33" cy="193.26" r="5.6" fill="url(#gNavy)"/>
<circle cx="670.61" cy="192.33" r="5.6" fill="url(#gNavy)"/>
<path d="M403.88,228.45 L415.36,146.96 L428.12,106.12 L440.89,92.42 L453.65,81.4 L466.41,71.21 L479.18,67.79 L491.94,66.77 L504.7,65.38" fill="none" stroke="#000" stroke-width="2.2" stroke-linejoin="round" stroke-linecap="round" />
<path d="M397.58,223.15 L410.18,223.15 L403.88,233.75 Z" fill="#000"/>
<path d="M409.06,141.66 L421.66,141.66 L415.36,152.26 Z" fill="#000"/>
<path d="M421.82,100.82 L434.43,100.82 L428.12,111.42 Z" fill="#000"/>
<path d="M434.59,87.12 L447.19,87.12 L440.89,97.72 Z" fill="#000"/>
<path d="M447.35,76.1 L459.95,76.1 L453.65,86.7 Z" fill="#000"/>
<path d="M460.11,65.91 L472.71,65.91 L466.41,76.51 Z" fill="#000"/>
<path d="M472.88,62.49 L485.48,62.49 L479.18,73.09 Z" fill="#000"/>
<path d="M485.64,61.47 L498.24,61.47 L491.94,72.07 Z" fill="#000"/>
<path d="M498.4,60.08 L511,60.08 L504.7,70.68 Z" fill="#000"/>
<path d="M404.13,221.69 L415.36,127.51 L428.12,89.73 L440.89,61.03 L453.65,43.53 L466.41,32.23 L479.18,29.91 L491.94,27.04 L504.7,25.47" fill="none" stroke="#808000" stroke-width="2.2" stroke-linejoin="round" stroke-linecap="round" />
<path d="M404.13,214.99 L410.83,221.69 L404.13,228.39 L397.43,221.69 Z" fill="#808000"/>
<path d="M415.36,120.81 L422.06,127.51 L415.36,134.21 L408.66,127.51 Z" fill="#808000"/>
<path d="M428.12,83.03 L434.82,89.73 L428.12,96.43 L421.43,89.73 Z" fill="#808000"/>
<path d="M440.89,54.33 L447.59,61.03 L440.89,67.73 L434.19,61.03 Z" fill="#808000"/>
<path d="M453.65,36.83 L460.35,43.53 L453.65,50.23 L446.95,43.53 Z" fill="#808000"/>
<path d="M466.41,25.53 L473.11,32.23 L466.41,38.93 L459.71,32.23 Z" fill="#808000"/>
<path d="M479.18,23.21 L485.88,29.91 L479.18,36.61 L472.48,29.91 Z" fill="#808000"/>
<path d="M491.94,20.34 L498.64,27.04 L491.94,33.74 L485.24,27.04 Z" fill="#808000"/>
<path d="M504.7,18.77 L511.4,25.47 L504.7,32.17 L498,25.47 Z" fill="#808000"/>
</g>
<line x1="445" y1="123.2" x2="479" y2="123.2" stroke="#808000" stroke-width="2.2"/>
<path d="M461.8,116.5 L468.5,123.2 L461.8,129.9 L455.1,123.2 Z" fill="#808000"/>
<line x1="445" y1="151.3" x2="479" y2="151.3" stroke="#000" stroke-width="2.2"/>
<path d="M455.5,148.1 L468.1,148.1 L461.8,158.7 Z" fill="#000"/>
<line x1="445" y1="179.6" x2="479" y2="179.6" stroke="#1c1c94" stroke-width="2.2"/>
<circle cx="461.8" cy="179.6" r="5.6" fill="url(#gNavy)"/>
<text x="483.4" y="128.8" font-size="17.4" ><tspan font-weight="bold">1-</tspan>OTf + [B(Ph-OCH<tspan font-size="12.3" dy="5.2">3</tspan><tspan dy="-5.2">)</tspan><tspan font-size="12.3" dy="5.2">4</tspan><tspan dy="-5.2">]</tspan><tspan font-size="12" dx="1" dy="-6">−</tspan></text>
<text x="483.4" y="157.5" font-size="17.4" ><tspan font-weight="bold">1-</tspan>OTf + BPh<tspan font-size="12.3" dy="5.2">4</tspan><tspan font-size="12" dx="1" dy="-11.2">−</tspan></text>
<text x="483.4" y="184.5" font-size="17.4" ><tspan font-weight="bold">1-</tspan>OTf + BAr<tspan font-size="12.3" dy="5.2">F</tspan><tspan font-size="12" dx="1" dy="-11.2">−</tspan></text>
<defs><linearGradient id="cb534" x1="0" y1="0" x2="1" y2="0"><stop offset="0" stop-color="#bcbcc2"/><stop offset="0.08" stop-color="#e2e2e6"/><stop offset="0.15" stop-color="#cacad0"/><stop offset="0.85" stop-color="#cacad0"/><stop offset="0.92" stop-color="#e2e2e6"/><stop offset="1" stop-color="#bcbcc2"/></linearGradient></defs>
<rect x="534.2" y="24.5" width="34.7" height="80" fill="url(#cb534)"/>
<path d="M539,39.5 L539,27.5 Q552.5,25.5 566,27.5 L566,39.5 Z" fill="#dcdce0"/>
<path d="M539,37.5 Q552.5,44.5 566,37.5 L566,101 L539,101 Z" fill="#192b7e"/>
<path d="M539.5,66 L565.5,66 L565.2,101 L539.8,101 Z" fill="#1a2a66"/>
<path d="M539,37.5 Q552.5,44.5 566,37.5" stroke="#0f1a50" stroke-width="2" fill="none"/>
<path d="M539,36.0 Q552.5,42.5 566,36.0" stroke="#f2f2f4" stroke-width="1.6" fill="none"/>
<rect x="534.2" y="101" width="34.7" height="3.5" fill="#c8c8d0"/>
<defs><linearGradient id="cb577" x1="0" y1="0" x2="1" y2="0"><stop offset="0" stop-color="#bcbcc2"/><stop offset="0.08" stop-color="#e2e2e6"/><stop offset="0.15" stop-color="#cacad0"/><stop offset="0.85" stop-color="#cacad0"/><stop offset="0.92" stop-color="#e2e2e6"/><stop offset="1" stop-color="#bcbcc2"/></linearGradient></defs>
<rect x="577" y="24.5" width="34.2" height="80" fill="url(#cb577)"/>
<path d="M582.2,38.5 L582.2,27.5 Q595.0,25.5 607.8,27.5 L607.8,38.5 Z" fill="#dcdce0"/>
<path d="M582.2,36.5 Q595.0,43.5 607.8,36.5 L607.8,101.8 L582.2,101.8 Z" fill="#1f3fd2"/>
<path d="M582.7,78 L607.3,78 L607.0,101.8 L583.0,101.8 Z" fill="#2142c8"/>
<path d="M582.2,36.5 Q595.0,43.5 607.8,36.5" stroke="#1630a8" stroke-width="2" fill="none"/>
<path d="M582.2,35.0 Q595.0,41.5 607.8,35.0" stroke="#f2f2f4" stroke-width="1.6" fill="none"/>
<rect x="577" y="101" width="34.2" height="3.5" fill="#c8c8d0"/>
<defs><linearGradient id="cb618" x1="0" y1="0" x2="1" y2="0"><stop offset="0" stop-color="#bcbcc2"/><stop offset="0.08" stop-color="#e2e2e6"/><stop offset="0.15" stop-color="#cacad0"/><stop offset="0.85" stop-color="#cacad0"/><stop offset="0.92" stop-color="#e2e2e6"/><stop offset="1" stop-color="#bcbcc2"/></linearGradient></defs>
<rect x="618.2" y="23" width="36.1" height="80.7" fill="url(#cb618)"/>
<path d="M623,41.2 L623,26 Q636.45,24 649.9,26 L649.9,41.2 Z" fill="#dcdce0"/>
<path d="M623,39.2 Q636.45,46.2 649.9,39.2 L649.9,99.9 L623,99.9 Z" fill="#4a7ec4"/>
<path d="M623.5,70 L649.4,70 L649.1,99.9 L623.8,99.9 Z" fill="#5282bc"/>
<path d="M623,39.2 Q636.45,46.2 649.9,39.2" stroke="#3a64a8" stroke-width="2" fill="none"/>
<path d="M623,37.7 Q636.45,44.2 649.9,37.7" stroke="#f2f2f4" stroke-width="1.6" fill="none"/>
<rect x="618.2" y="100.2" width="36.1" height="3.5" fill="#c8c8d0"/>
<line x1="536" y1="14.9" x2="566" y2="14.9" stroke="#808000" stroke-width="2.2"/>
<path d="M551.3,9 L557.3,15 L551.3,21 L545.3,15 Z" fill="#808000"/>
<line x1="578.4" y1="14.9" x2="607.8" y2="14.9" stroke="#000" stroke-width="2.2"/>
<path d="M587,12.3 L599.4,12.3 L593.2,21.7 Z" fill="#000"/>
<line x1="620.1" y1="14.9" x2="648.6" y2="14.9" stroke="#1c1c94" stroke-width="2.2"/>
<circle cx="634.4" cy="14.9" r="4.6" fill="url(#gNavy)"/>
<text x="4.3" y="330.2" font-size="25.5" font-weight="bold" >c</text>
<path d="M151.65,328.9 L161.17,334.4 M161.17,334.4 L161.17,354 M161.17,354 L144.2,363.8 M144.2,363.8 L127.23,354 M127.23,354 L127.23,334.4 M136.75,328.9 L127.23,334.4" stroke="#800080" stroke-width="1.8" fill="none" stroke-linecap="butt" stroke-linejoin="miter"/>
<text x="144.2" y="331.9" font-size="16" text-anchor="middle" fill="#800080">N</text>
<path d="M144.2,381.6 L161.17,391.4 M161.17,391.4 L161.17,411 M151.65,416.5 L161.17,411 M136.75,416.5 L127.23,411 M127.23,411 L127.23,391.4 M127.23,391.4 L144.2,381.6" stroke="#800080" stroke-width="1.8" fill="none" stroke-linecap="butt" stroke-linejoin="miter"/>
<text x="144.2" y="428.9" font-size="16" text-anchor="middle" fill="#800080">N</text>
<line x1="144.2" y1="363.8" x2="144.2" y2="381.6" stroke="#800080" stroke-width="1.8"/>
<circle cx="144.2" cy="344.2" r="12.1" fill="#800080"/>
<circle cx="144.2" cy="344.2" r="3.4" fill="#fff"/>
<circle cx="144.2" cy="401.2" r="12.1" fill="#800080"/>
<path d="M139.7,401.2 h9 M144.2,396.7 v9" stroke="#fff" stroke-width="2.1"/>
<path d="M144.2,303.7 L144.63,303.97 L145.02,304.24 L145.33,304.51 L145.53,304.78 L145.6,305.05 L145.53,305.32 L145.33,305.59 L145.02,305.86 L144.63,306.13 L144.2,306.4 L143.77,306.67 L143.38,306.94 L143.07,307.21 L142.87,307.48 L142.8,307.75 L142.87,308.02 L143.07,308.29 L143.38,308.56 L143.77,308.83 L144.2,309.1 L144.63,309.37 L145.02,309.64 L145.33,309.91 L145.53,310.18 L145.6,310.45 L145.53,310.72 L145.33,310.99 L145.02,311.26 L144.63,311.53 L144.2,311.8 L143.77,312.07 L143.38,312.34 L143.07,312.61 L142.87,312.88 L142.8,313.15 L142.87,313.42 L143.07,313.69 L143.38,313.96 L143.77,314.23 L144.2,314.5 L144.63,314.77 L145.02,315.04 L145.33,315.31 L145.53,315.58 L145.6,315.85 L145.53,316.12 L145.33,316.39 L145.02,316.66 L144.63,316.93 L144.2,317.2 L143.77,317.47 L143.38,317.74 L143.07,318.01 L142.87,318.28 L142.8,318.55 L142.87,318.82 L143.07,319.09 L143.38,319.36 L143.77,319.63 L144.2,319.9" fill="none" stroke="#800080" stroke-width="1.8" stroke-linejoin="round" stroke-linecap="round" />
<path d="M144.2,429.3 L144.56,429.51 L144.9,429.72 L145.19,429.93 L145.41,430.13 L145.55,430.34 L145.6,430.55 L145.55,430.76 L145.41,430.97 L145.19,431.18 L144.9,431.38 L144.56,431.59 L144.2,431.8 L143.84,432.01 L143.5,432.22 L143.21,432.43 L142.99,432.63 L142.85,432.84 L142.8,433.05 L142.85,433.26 L142.99,433.47 L143.21,433.68 L143.5,433.88 L143.84,434.09 L144.2,434.3 L144.56,434.51 L144.9,434.72 L145.19,434.93 L145.41,435.13 L145.55,435.34 L145.6,435.55 L145.55,435.76 L145.41,435.97 L145.19,436.18 L144.9,436.38 L144.56,436.59 L144.2,436.8 L143.84,437.01 L143.5,437.22 L143.21,437.43 L142.99,437.63 L142.85,437.84 L142.8,438.05 L142.85,438.26 L142.99,438.47 L143.21,438.68 L143.5,438.88 L143.84,439.09 L144.2,439.3 L144.56,439.51 L144.9,439.72 L145.19,439.93 L145.41,440.13 L145.55,440.34 L145.6,440.55 L145.55,440.76 L145.41,440.97 L145.19,441.18 L144.9,441.38 L144.56,441.59 L144.2,441.8" fill="none" stroke="#800080" stroke-width="1.8" stroke-linejoin="round" stroke-linecap="round" />
<path d="M152.65,480.5 L162,485.9 M162,485.9 L162,505.3 M162,505.3 L145.2,515 M145.2,515 L128.4,505.3 M128.4,505.3 L128.4,485.9 M137.75,480.5 L128.4,485.9" stroke="#0000ff" stroke-width="1.8" fill="none" stroke-linecap="butt" stroke-linejoin="miter"/>
<text x="145.2" y="482.5" font-size="16" text-anchor="middle" fill="#0000ff">N</text>
<path d="M145.2,533.2 L162,542.9 M162,542.9 L162,562.3 M152.65,567.7 L162,562.3 M137.75,567.7 L128.4,562.3 M128.4,562.3 L128.4,542.9 M128.4,542.9 L145.2,533.2" stroke="#0000ff" stroke-width="1.8" fill="none" stroke-linecap="butt" stroke-linejoin="miter"/>
<text x="145.2" y="578.5" font-size="16" text-anchor="middle" fill="#0000ff">N</text>
<line x1="145.2" y1="515" x2="145.2" y2="533.2" stroke="#0000ff" stroke-width="1.8"/>
<circle cx="145.2" cy="495.6" r="12.1" fill="#0000ff"/>
<path d="M140.7,495.6 h9 M145.2,491.1 v9" stroke="#fff" stroke-width="2.1"/>
<circle cx="145.2" cy="552.6" r="12.1" fill="#0000ff"/>
<path d="M140.7,552.6 h9 M145.2,548.1 v9" stroke="#fff" stroke-width="2.1"/>
<path d="M145.2,454 L145.63,454.28 L146.02,454.55 L146.33,454.83 L146.53,455.1 L146.6,455.38 L146.53,455.65 L146.33,455.93 L146.02,456.2 L145.63,456.48 L145.2,456.75 L144.77,457.03 L144.38,457.3 L144.07,457.58 L143.87,457.85 L143.8,458.13 L143.87,458.4 L144.07,458.68 L144.38,458.95 L144.77,459.23 L145.2,459.5 L145.63,459.78 L146.02,460.05 L146.33,460.33 L146.53,460.6 L146.6,460.88 L146.53,461.15 L146.33,461.43 L146.02,461.7 L145.63,461.98 L145.2,462.25 L144.77,462.53 L144.38,462.8 L144.07,463.08 L143.87,463.35 L143.8,463.63 L143.87,463.9 L144.07,464.18 L144.38,464.45 L144.77,464.73 L145.2,465 L145.63,465.28 L146.02,465.55 L146.33,465.83 L146.53,466.1 L146.6,466.38 L146.53,466.65 L146.33,466.93 L146.02,467.2 L145.63,467.48 L145.2,467.75 L144.77,468.03 L144.38,468.3 L144.07,468.58 L143.87,468.85 L143.8,469.13 L143.87,469.4 L144.07,469.68 L144.38,469.95 L144.77,470.23 L145.2,470.5" fill="none" stroke="#0000ff" stroke-width="1.8" stroke-linejoin="round" stroke-linecap="round" />
<path d="M145.2,578.9 L145.56,579.1 L145.9,579.29 L146.19,579.49 L146.41,579.69 L146.55,579.88 L146.6,580.08 L146.55,580.28 L146.41,580.47 L146.19,580.67 L145.9,580.87 L145.56,581.06 L145.2,581.26 L144.84,581.46 L144.5,581.65 L144.21,581.85 L143.99,582.05 L143.85,582.24 L143.8,582.44 L143.85,582.64 L143.99,582.83 L144.21,583.03 L144.5,583.23 L144.84,583.42 L145.2,583.62 L145.56,583.82 L145.9,584.01 L146.19,584.21 L146.41,584.41 L146.55,584.6 L146.6,584.8 L146.55,585 L146.41,585.19 L146.19,585.39 L145.9,585.59 L145.56,585.78 L145.2,585.98 L144.84,586.18 L144.5,586.37 L144.21,586.57 L143.99,586.77 L143.85,586.96 L143.8,587.16 L143.85,587.36 L143.99,587.55 L144.21,587.75 L144.5,587.95 L144.84,588.14 L145.2,588.34 L145.56,588.54 L145.9,588.73 L146.19,588.93 L146.41,589.13 L146.55,589.32 L146.6,589.52 L146.55,589.72 L146.41,589.91 L146.19,590.11 L145.9,590.31 L145.56,590.5 L145.2,590.7" fill="none" stroke="#0000ff" stroke-width="1.8" stroke-linejoin="round" stroke-linecap="round" />
<path d="M44.5,509 L46.32,507.88 L48.11,506.71 L49.85,505.48 L51.56,504.19 L53.22,502.85 L54.84,501.45 L56.41,500 L57.94,498.51 L59.41,496.96 L60.83,495.37 L62.2,493.73 L63.52,492.04 L64.78,490.32 L65.98,488.55 L67.13,486.75 L68.22,484.91 L69.24,483.03 L70.21,481.13 L71.11,479.19 L71.95,477.22 L72.72,475.23 L73.43,473.22 L74.07,471.18 L74.65,469.12 L75.16,467.04 L75.6,464.95 L75.97,462.85 L76.28,460.73 L76.51,458.61 L76.68,456.48 L76.77,454.35 L76.8,452.21 L76.76,450.07 L76.65,447.94 L76.46,445.81 L76.21,443.69 L75.89,441.57 L75.51,439.47 L75.05,437.38 L74.53,435.31 L73.93,433.26 L73.28,431.23 L72.55,429.22 L71.76,427.23 L70.91,425.27 L70,423.34 L69.02,421.44 L67.98,419.57 L66.88,417.74 L65.72,415.95 L64.5,414.19 L63.23,412.47 L61.9,410.8 L60.52,409.17 L59.08,407.59 L57.6,406.05 L56.06,404.56 L54.48,403.13 L52.85,401.74 L51.18,400.41" fill="none" stroke="#000" stroke-width="1.8" stroke-linejoin="round" stroke-linecap="round" />
<path d="M45.5,396.5 L57.36,399.82 L52.89,401.98 L52.11,406.89 Z" fill="#000"/>
<path d="M110,509.4 L108.13,508.28 L106.31,507.09 L104.52,505.85 L102.77,504.54 L101.07,503.18 L99.42,501.76 L97.81,500.29 L96.25,498.77 L94.74,497.2 L93.29,495.58 L91.89,493.91 L90.55,492.19 L89.26,490.43 L88.03,488.63 L86.87,486.79 L85.76,484.92 L84.72,483 L83.74,481.06 L82.82,479.08 L81.98,477.07 L81.2,475.04 L80.48,472.98 L79.84,470.9 L79.26,468.8 L78.75,466.68 L78.32,464.55 L77.95,462.4 L77.66,460.24 L77.44,458.07 L77.29,455.9 L77.21,453.72 L77.2,451.54 L77.27,449.37 L77.41,447.19 L77.62,445.02 L77.9,442.86 L78.25,440.71 L78.68,438.58 L79.17,436.45 L79.74,434.35 L80.37,432.26 L81.07,430.2 L81.84,428.16 L82.68,426.15 L83.58,424.17 L84.55,422.22 L85.58,420.3 L86.68,418.42 L87.83,416.57 L89.05,414.76 L90.33,413 L91.66,411.28 L93.05,409.6 L94.5,407.97 L95.99,406.39 L97.54,404.86 L99.14,403.38 L100.79,401.95 L102.49,400.58 L104.22,399.27" fill="none" stroke="#000" stroke-width="1.8" stroke-linejoin="round" stroke-linecap="round" />
<path d="M110,395.5 L103.13,405.72 L102.48,400.79 L98.06,398.52 Z" fill="#000"/>
<path d="M179,394.7 L180.83,395.84 L182.63,397.03 L184.38,398.29 L186.09,399.59 L187.76,400.96 L189.39,402.38 L190.96,403.84 L192.49,405.36 L193.97,406.93 L195.4,408.55 L196.77,410.21 L198.09,411.91 L199.36,413.66 L200.57,415.44 L201.72,417.27 L202.8,419.13 L203.83,421.02 L204.8,422.95 L205.7,424.9 L206.54,426.89 L207.32,428.9 L208.03,430.93 L208.67,432.99 L209.25,435.07 L209.76,437.16 L210.2,439.27 L210.57,441.4 L210.88,443.53 L211.11,445.67 L211.28,447.82 L211.37,449.98 L211.4,452.13 L211.36,454.29 L211.24,456.44 L211.06,458.59 L210.81,460.73 L210.49,462.86 L210.1,464.98 L209.64,467.08 L209.11,469.17 L208.52,471.25 L207.85,473.3 L207.13,475.33 L206.34,477.33 L205.48,479.31 L204.56,481.26 L203.58,483.18 L202.53,485.06 L201.43,486.92 L200.26,488.73 L199.04,490.51 L197.76,492.24 L196.43,493.93 L195.04,495.58 L193.6,497.18 L192.11,498.74 L190.56,500.25 L188.97,501.7 L187.34,503.11 L185.66,504.46" fill="none" stroke="#000" stroke-width="1.8" stroke-linejoin="round" stroke-linecap="round" />
<path d="M180,508.4 L186.56,497.98 L187.36,502.88 L191.84,505.02 Z" fill="#000"/>
<path d="M244.2,395.2 L242.34,396.32 L240.52,397.51 L238.74,398.75 L237,400.05 L235.3,401.41 L233.66,402.83 L232.06,404.3 L230.51,405.82 L229.01,407.39 L227.56,409.02 L226.17,410.69 L224.84,412.4 L223.57,414.16 L222.35,415.96 L221.19,417.8 L220.1,419.68 L219.07,421.59 L218.11,423.54 L217.21,425.52 L216.37,427.52 L215.61,429.55 L214.91,431.61 L214.28,433.69 L213.72,435.79 L213.23,437.91 L212.81,440.04 L212.47,442.18 L212.19,444.34 L211.99,446.5 L211.86,448.67 L211.8,450.84 L211.82,453.02 L211.91,455.19 L212.06,457.35 L212.3,459.51 L212.6,461.66 L212.98,463.8 L213.42,465.93 L213.94,468.04 L214.53,470.13 L215.18,472.2 L215.91,474.25 L216.7,476.27 L217.56,478.27 L218.49,480.23 L219.48,482.17 L220.54,484.06 L221.66,485.93 L222.84,487.75 L224.08,489.53 L225.38,491.28 L226.73,492.97 L228.14,494.62 L229.61,496.23 L231.13,497.78 L232.7,499.28 L234.32,500.73 L235.99,502.12 L237.7,503.46 L239.46,504.74" fill="none" stroke="#000" stroke-width="1.8" stroke-linejoin="round" stroke-linecap="round" />
<path d="M245.3,508.4 L233.31,505.6 L237.68,503.24 L238.24,498.31 Z" fill="#000"/>
<text x="6.3" y="401" font-size="16" fill="#800080" >BAr<tspan font-size="11" dy="3.5">F</tspan></text>
<circle cx="37.2" cy="386.3" r="2.5" fill="#86004f"/>
<text x="6.3" y="518.6" font-size="16" >BAr<tspan font-size="11" dy="3.5">F</tspan></text>
<line x1="32.4" y1="503.3" x2="38.6" y2="503.3" stroke="#000" stroke-width="1.4"/>
<text x="97.4" y="374.7" font-size="18.6" >V</text>
<circle cx="111.9" cy="365" r="1.75" fill="#000"/>
<path d="M114.7,364.7 h6 M117.7,361.7 v6" stroke="#000" stroke-width="1.35"/>
<text x="173.9" y="547.6" font-size="18.3" >V<tspan font-size="12.3" dy="-5.6">2+</tspan></text>
<text x="250.3" y="402.8" font-size="16" fill="#1f5f1f" >O<tspan font-size="11.5" dy="3.5">2</tspan></text>
<text x="252.3" y="515.6" font-size="16" fill="#800080" >O<tspan font-size="11.5" dy="3.3">2</tspan></text>
<circle cx="268.3" cy="504.1" r="2.7" fill="#800080"/>
<line x1="272.3" y1="501.9" x2="278.8" y2="501.9" stroke="#800080" stroke-width="1.5"/>
<path d="M88.2,547.2 L97.6,539.9 L98.5,542.5 L106.5,533.5 L108.6,536.2 L121.7,525.1 L111.6,544.2 L109.4,541.3 L103.2,552.4 L101.2,548.9 L94.1,560.9 Z" fill="#800080"/>
<line x1="171" y1="368" x2="268" y2="368" stroke="#86004f" stroke-width="1.7"/>
<path d="M279.4,368 L266.7,364.2 L266.7,371.8 Z" fill="#86004f"/>
<line x1="285.8" y1="508" x2="380" y2="508" stroke="#86004f" stroke-width="1.7"/>
<path d="M391.5,508 L378.8,504.2 L378.8,511.8 Z" fill="#86004f"/>
<text x="332.4" y="476.3" font-size="16.8" text-anchor="middle" >Spin</text>
<text x="332.4" y="496.4" font-size="16.8" text-anchor="middle" >trapping</text>
<path d="M326.9,514.2 L334.6,534.3 L356,524.4 M334.6,534.3 L345.2,546.3 M334.6,534.3 L312.7,540.9 L312.7,563.9 L335.7,571.5 L346.5,559.5" stroke="#000" stroke-width="1.8" fill="none" stroke-linejoin="round"/>
<path d="M332.5,566 L341.5,556" stroke="#000" stroke-width="1.8"/>
<text x="349.2" y="558.8" font-size="14.5" text-anchor="middle" >N</text>
<text x="353" y="548" font-size="15" text-anchor="middle" >+</text>
<line x1="356" y1="552.9" x2="364" y2="552.9" stroke="#000" stroke-width="1.3"/>
<text x="371.6" y="558.8" font-size="14.5" text-anchor="middle" >O</text>
<line x1="370.3" y1="544.3" x2="377.5" y2="544.3" stroke="#000" stroke-width="1.4"/>
<text x="333.5" y="588.3" font-size="17" text-anchor="middle" >DMPO</text>
<path d="M292,376.21 L292.75,374.56 L293.5,374.39 L294.25,372.64 L295,374.76 L295.75,374.5 L296.5,374.31 L297.25,374.99 L298,375.07 L298.75,373.86 L299.5,374 L300.25,374.32 L301,375.25 L301.75,375.13 L302.5,373.62 L303.25,373.77 L304,375.25 L304.75,375.91 L305.5,374.61 L306.25,374.08 L307,375.5 L307.75,374.36 L308.5,375.18 L309.25,375.84 L310,375.09 L310.75,374.63 L311.5,375.15 L312.25,374.04 L313,374.4 L313.75,374.07 L314.5,374.36 L315.25,374.13 L316,374.36 L316.75,374.19 L317.5,374.56 L318.25,374.53 L319,374.7 L319.75,375.58 L320.5,373.21 L321.25,375.47 L322,374.23 L322.75,373.43 L323.5,374.27 L324.25,374.47 L325,375.24 L325.75,373.52 L326.5,374.53 L327.25,374.44 L328,372.98 L328.75,373.37 L329.5,374.79 L330.25,374.85 L331,375.15 L331.75,374.7 L332.5,374.57 L333.25,374.34 L334,375.19 L334.75,373.53 L335.5,374.08 L336.25,374.49 L337,372.9 L337.75,375.2 L338.5,373.5 L339.25,374.06 L340,375.83 L340.75,373.42 L341.5,373.64 L342.25,375.3 L343,373.17 L343.75,373.67 L344.5,374.41 L345.25,374.35 L346,374.44 L346.75,374.24 L347.5,375.01 L348.25,374.72 L349,374.37 L349.75,373.33 L350.5,373.28 L351.25,372.31 L352,374.37 L352.75,372.34 L353.5,374.48 L354.25,375.24 L355,372.89 L355.75,373.17 L356.5,373.32 L357.25,374.34 L358,372.97 L358.75,373.53 L359.5,373.2 L360.25,373.39 L361,374.61 L361.75,372.78 L362.5,373.59 L363.25,373.73 L364,374.17 L364.75,372.45 L365.5,374.33 L366.25,373.74 L367,374.03 L367.75,373.29 L368.5,371.83 L369.25,372.55 L370,373.65 L370.75,372.84 L371.5,372.36 L372.25,373.22 L373,372.74 L373.75,369.89 L374.5,370.39 L375.25,365.7 L376,364.16 L376.75,365.2 L377.5,362.37 L378.25,361.31 L379,359.28 L379.75,356.59 L380.5,355.41 L381.25,352.65 L382,348.24 L382.75,348.27 L383.5,345.88 L384.25,346.04 L385,338.82 L385.75,338.15 L386.5,334.69 L387.25,332.51 L388,333.48 L388.75,327.96 L389.5,323.05 L390.25,321.5 L391,320.09 L391.75,312.21 L392.5,311.17 L393.25,313.64 L394,308.51 L394.75,302.69 L395.5,298.61 L396.25,297.3 L397,289.79 L397.75,298.33 L398.5,296.2 L399.25,297.12 L400,294.79 L400.75,300.96 L401.5,310.45 L402.25,316.34 L403,321.69 L403.75,331.99 L404.5,341.58 L405.25,349.37 L406,360.64 L406.75,371.16 L407.5,380.78 L408.25,392.18 L409,400.71 L409.75,408.8 L410.5,413.58 L411.25,420.45 L412,428.85 L412.75,433.51 L413.5,440.12 L414.25,441.47 L415,449.35 L415.75,456.17 L416.5,457.19 L417.25,458.58 L418,452.71 L418.75,454.82 L419.5,447.54 L420.25,449.23 L421,441.72 L421.75,438.42 L422.5,434.7 L423.25,435.23 L424,430.74 L424.75,427.71 L425.5,422.01 L426.25,422.4 L427,416.08 L427.75,419.32 L428.5,413.19 L429.25,411 L430,407.82 L430.75,402.95 L431.5,400.96 L432.25,400.64 L433,400.49 L433.75,395.01 L434.5,393.74 L435.25,392.9 L436,389.55 L436.75,388.24 L437.5,388.39 L438.25,387.55 L439,386.01 L439.75,386.79 L440.5,384.16 L441.25,383.83 L442,384.27 L442.75,383.77 L443.5,380.29 L444.25,380.94 L445,381.91 L445.75,379.3 L446.5,379.36 L447.25,378.7 L448,378.33 L448.75,378.22 L449.5,379.05 L450.25,379.72 L451,379.7 L451.75,378.2 L452.5,376.33 L453.25,377.74 L454,377.32 L454.75,377.71 L455.5,377.14 L456.25,375.59 L457,377.25 L457.75,375.06 L458.5,376.04 L459.25,376.72 L460,376.62 L460.75,377.48 L461.5,374.15 L462.25,376.24 L463,376.41 L463.75,375.48 L464.5,376.16 L465.25,374.66 L466,376.02 L466.75,375.86 L467.5,374.57 L468.25,374.77 L469,375.11 L469.75,374.69 L470.5,376.01 L471.25,375.26 L472,376.14 L472.75,375.98 L473.5,375.04 L474.25,374.79 L475,374.14 L475.75,374.21 L476.5,374.17 L477.25,375.05 L478,374.03 L478.75,374.76 L479.5,374.82 L480.25,374.23 L481,374.44 L481.75,375.72 L482.5,375.83 L483.25,373.87 L484,374.32 L484.75,374.15 L485.5,374.2 L486.25,375.63 L487,374.93 L487.75,375.37 L488.5,375.76 L489.25,373.97 L490,374.15 L490.75,374.32 L491.5,375.09 L492.25,374.18 L493,374.76 L493.75,375.17 L494.5,375.16 L495.25,374.57 L496,373.57 L496.75,372.95 L497.5,375.09 L498.25,374.54 L499,373.42 L499.75,373.76 L500.5,373.8 L501.25,372.81 L502,374.34 L502.75,373.51 L503.5,373.9 L504.25,374.72 L505,374.04 L505.75,374.55 L506.5,374.45 L507.25,374.13 L508,374.14 L508.75,375.58 L509.5,373.95 L510.25,375.39 L511,373.35 L511.75,374.66 L512.5,374.21 L513.25,373.48 L514,371.94 L514.75,375.34 L515.5,373.13 L516.25,373.28 L517,374.15 L517.75,374.09 L518.5,374.26 L519.25,373.83 L520,372.83 L520.75,374.72 L521.5,373.3 L522.25,374.2 L523,374.47 L523.75,374.95 L524.5,373.83" fill="none" stroke="#85004d" stroke-width="2.1" stroke-linejoin="round" stroke-linecap="round" />
<path d="M292,375.4 L292.75,374.41 L293.5,375.18 L294.25,373.52 L295,375.6 L295.75,373.64 L296.5,374.94 L297.25,374.82 L298,374.23 L298.75,377.34 L299.5,374.38 L300.25,375.28 L301,375.8 L301.75,373.82 L302.5,375.99 L303.25,374.73 L304,375.68 L304.75,374.03 L305.5,373.92 L306.25,375.82 L307,375.2 L307.75,374.88 L308.5,375.3 L309.25,375.19 L310,373.75 L310.75,372.84 L311.5,373.28 L312.25,373.18 L313,372.8 L313.75,374.13 L314.5,374.22 L315.25,374.62 L316,374.83 L316.75,374.31 L317.5,374.41 L318.25,374.67 L319,373.75 L319.75,373.98 L320.5,374.61 L321.25,373.99 L322,374.07 L322.75,374.46 L323.5,375.67 L324.25,374.79 L325,374.23 L325.75,374 L326.5,374.39 L327.25,376.39 L328,371.79 L328.75,374.91 L329.5,374.65 L330.25,375.17 L331,373.45 L331.75,376.21 L332.5,375.26 L333.25,374.35 L334,374.52 L334.75,373.76 L335.5,374.41 L336.25,374.23 L337,375.14 L337.75,374.64 L338.5,374.25 L339.25,374.89 L340,374.77 L340.75,374.48 L341.5,372.98 L342.25,375.15 L343,373.27 L343.75,373.4 L344.5,374.16 L345.25,374.68 L346,375.43 L346.75,372.8 L347.5,375.48 L348.25,375.61 L349,373.82 L349.75,374.04 L350.5,373.72 L351.25,373.69 L352,373.06 L352.75,372.76 L353.5,374.02 L354.25,374.41 L355,375.74 L355.75,373.33 L356.5,372.4 L357.25,374.3 L358,373.78 L358.75,374.47 L359.5,373.83 L360.25,373.09 L361,373.57 L361.75,374.83 L362.5,374.38 L363.25,373.32 L364,374.88 L364.75,372.9 L365.5,373.67 L366.25,374.29 L367,372.95 L367.75,373.09 L368.5,374.11 L369.25,374.02 L370,373.87 L370.75,373.59 L371.5,373.12 L372.25,373.38 L373,376.61 L373.75,373.48 L374.5,375.28 L375.25,373.48 L376,375.12 L376.75,374.98 L377.5,374.29 L378.25,373.33 L379,372.67 L379.75,374.63 L380.5,372.68 L381.25,372.63 L382,374.96 L382.75,374.84 L383.5,373.55 L384.25,373.22 L385,372.76 L385.75,373.49 L386.5,372.63 L387.25,371.58 L388,372.01 L388.75,372.62 L389.5,370.79 L390.25,371.07 L391,371.8 L391.75,372.98 L392.5,371.57 L393.25,371.33 L394,372.83 L394.75,370.17 L395.5,370.34 L396.25,371.58 L397,371.68 L397.75,371.08 L398.5,368.4 L399.25,371.21 L400,371.14 L400.75,370.63 L401.5,371.21 L402.25,371.94 L403,370.93 L403.75,370.28 L404.5,369.74 L405.25,371.6 L406,371.2 L406.75,371.6 L407.5,371.37 L408.25,372.82 L409,373.49 L409.75,373.58 L410.5,372.62 L411.25,374.67 L412,374.48 L412.75,372.35 L413.5,375.18 L414.25,373.12 L415,374.03 L415.75,376.03 L416.5,375.82 L417.25,374.84 L418,374.76 L418.75,375.92 L419.5,374.21 L420.25,376.2 L421,375.71 L421.75,376.68 L422.5,376.05 L423.25,375.32 L424,376.5 L424.75,376.12 L425.5,375.28 L426.25,375.58 L427,375.78 L427.75,376.74 L428.5,377.4 L429.25,376.77 L430,375.81 L430.75,376.54 L431.5,377.37 L432.25,377.82 L433,376.1 L433.75,377.12 L434.5,376.52 L435.25,374.98 L436,375.65 L436.75,376.2 L437.5,376.16 L438.25,376.18 L439,375.91 L439.75,376.64 L440.5,375.42 L441.25,374.79 L442,376.49 L442.75,375.46 L443.5,376.58 L444.25,375.13 L445,376.89 L445.75,374.66 L446.5,374.65 L447.25,376.22 L448,377.1 L448.75,374.88 L449.5,376.86 L450.25,376.79 L451,376.14 L451.75,375.27 L452.5,373.57 L453.25,374.08 L454,374.71 L454.75,375.8 L455.5,375.2 L456.25,374.79 L457,375.41 L457.75,373.91 L458.5,375.63 L459.25,374.49 L460,376.37 L460.75,375.41 L461.5,374.62 L462.25,374.8 L463,373.88 L463.75,375.38 L464.5,374.37 L465.25,375.13 L466,376.19 L466.75,375.5 L467.5,375.61 L468.25,377.44 L469,375.77 L469.75,376.13 L470.5,374.95 L471.25,374.15 L472,375.35 L472.75,374.17 L473.5,372.58 L474.25,375.65 L475,375.42 L475.75,374.22 L476.5,376.22 L477.25,375.05 L478,374.71 L478.75,374.29 L479.5,376.08 L480.25,374.72 L481,374.65 L481.75,374.68 L482.5,374.4 L483.25,373.63 L484,374.43 L484.75,374.3 L485.5,375.64 L486.25,373.92 L487,375.61 L487.75,374.58 L488.5,374.32 L489.25,374.86 L490,375.03 L490.75,375.08 L491.5,375.47 L492.25,375.15 L493,373.64 L493.75,374.37 L494.5,376.33 L495.25,374.84 L496,372.93 L496.75,375.06 L497.5,376.36 L498.25,375.9 L499,374.94 L499.75,375.07 L500.5,375.43 L501.25,374.73 L502,374.44 L502.75,376.24 L503.5,374.5 L504.25,375.69 L505,373.48 L505.75,374.15 L506.5,373.82 L507.25,375.15 L508,374.25 L508.75,374.23 L509.5,373.99 L510.25,374.89 L511,375.59 L511.75,374.24 L512.5,375.26 L513.25,374.71 L514,374.19 L514.75,375.01 L515.5,375.84 L516.25,372.48 L517,375.28 L517.75,376.18 L518.5,374.52 L519.25,375.31 L520,375.48 L520.75,375.09 L521.5,374.85 L522.25,375.74 L523,375.57 L523.75,374.77 L524.5,375.17" fill="none" stroke="#808000" stroke-width="1.8" stroke-linejoin="round" stroke-linecap="round" />
<text x="313.9" y="330.5" font-size="25.5" font-weight="bold" >d</text>
<text x="424.2" y="324.8" font-size="17" fill="#85004d" ><tspan font-weight="bold">1</tspan>-BAr<tspan font-size="12" dy="4">F</tspan><tspan dy="-4"> </tspan><tspan font-style="italic">hv</tspan> N<tspan font-size="12" dy="4">2</tspan></text>
<text x="424.2" y="354" font-size="17" fill="#808000" ><tspan font-weight="bold">L</tspan><tspan font-size="12.5" font-weight="bold" dy="-4.5">1</tspan><tspan dy="4.5">-BAr</tspan><tspan font-size="12" dy="4">F</tspan><tspan dy="-4"> </tspan><tspan font-style="italic">hv</tspan> N<tspan font-size="12" dy="4">2</tspan></text>
<text x="448.6" y="400.2" font-size="15" >10 G</text>
<path d="M455.2,404.9 H475.3 M455.2,402.8 V407.2 M475.3,402.8 V407.2" stroke="#000" stroke-width="1.3" fill="none"/>
<path d="M406.2,506.93 L406.7,507.25 L407.2,507.85 L407.7,508.06 L408.2,508.6 L408.7,507.16 L409.2,509.18 L409.7,508.79 L410.2,507.48 L410.7,506.23 L411.2,507.55 L411.7,507.64 L412.2,506.22 L412.7,507.64 L413.2,507.48 L413.7,507.13 L414.2,507.98 L414.7,508.2 L415.2,507.31 L415.7,507.74 L416.2,507.21 L416.7,507.13 L417.2,507.65 L417.7,507.91 L418.2,507.26 L418.7,506.27 L419.2,507.95 L419.7,506.64 L420.2,507.67 L420.7,508.67 L421.2,507.59 L421.7,506.89 L422.2,506.72 L422.7,508.3 L423.2,507.59 L423.7,507.92 L424.2,508.16 L424.7,507.57 L425.2,507.41 L425.7,507.03 L426.2,505.75 L426.7,506.69 L427.2,507.56 L427.7,507.49 L428.2,507.84 L428.7,507.52 L429.2,507.7 L429.7,508.07 L430.2,507.07 L430.7,507.43 L431.2,506.64 L431.7,508.18 L432.2,507.62 L432.7,507.89 L433.2,508.53 L433.7,508.25 L434.2,507.56 L434.7,508.07 L435.2,506.74 L435.7,507.86 L436.2,507.68 L436.7,506.63 L437.2,508.4 L437.7,507.18 L438.2,508.01 L438.7,507.35 L439.2,508.2 L439.7,508.39 L440.2,507.1 L440.7,506.68 L441.2,507.52 L441.7,508.11 L442.2,507.38 L442.7,507.23 L443.2,507.89 L443.7,505.94 L444.2,507.2 L444.7,506.77 L445.2,507.78 L445.7,507.16 L446.2,506.93 L446.7,507.39 L447.2,506.72 L447.7,507.59 L448.2,507.19 L448.7,507.37 L449.2,507.17 L449.7,508.15 L450.2,507.53 L450.7,507.91 L451.2,507.89 L451.7,507.12 L452.2,507.94 L452.7,507.81 L453.2,507.79 L453.7,507.36 L454.2,507.34 L454.7,508.07 L455.2,508.91 L455.7,507.1 L456.2,507.92 L456.7,507.38 L457.2,508.07 L457.7,507.86 L458.2,508.24 L458.7,505.92 L459.2,507.24 L459.7,507.01 L460.2,507.54 L460.7,507.17 L461.2,507.22 L461.7,508.01 L462.2,508.74 L462.7,505.91 L463.2,507.41 L463.7,507.79 L464.2,507.6 L464.7,507.39 L465.2,506.79 L465.7,507.03 L466.2,508.03 L466.7,508.25 L467.2,507.66 L467.7,507.1 L468.2,507.66 L468.7,507.46 L469.2,507.93 L469.7,507.67 L470.2,507.23 L470.7,507.71 L471.2,506.89 L471.7,508.09 L472.2,508.31 L472.7,506.89 L473.2,507.85 L473.7,507.01 L474.2,508.24 L474.7,508.14 L475.2,507.46 L475.7,508.2 L476.2,507.34 L476.7,507.21 L477.2,507.26 L477.7,507.52 L478.2,507.41 L478.7,507.69 L479.2,507.23 L479.7,508.06 L480.2,508.21 L480.7,507.3 L481.2,506.74 L481.7,508.03 L482.2,508.28 L482.7,507.5 L483.2,506.83 L483.7,507.76 L484.2,508.51 L484.7,506.47 L485.2,507.89 L485.7,507.41 L486.2,507.09 L486.7,507.9 L487.2,506.82 L487.7,507.78 L488.2,508.39 L488.7,507.71 L489.2,507.07 L489.7,506.53 L490.2,506.83 L490.7,506.5 L491.2,508.56 L491.7,507.45 L492.2,506.97 L492.7,506.82 L493.2,506.96 L493.7,507.4 L494.2,506.83 L494.7,508.61 L495.2,507.15 L495.7,507.13 L496.2,507.78 L496.7,508.47 L497.2,508.39 L497.7,507.31 L498.2,507.75 L498.7,507.69 L499.2,507.92 L499.7,507.75 L500.2,508.54 L500.7,508.53 L501.2,509.49 L501.7,508.68 L502.2,510.13 L502.7,509.17 L503.2,508.29 L503.7,508.4 L504.2,507.93 L504.7,507.76 L505.2,508.01 L505.7,506.18 L506.2,505.56 L506.7,506.56 L507.2,505.99 L507.7,506.01 L508.2,506.08 L508.7,505.7 L509.2,506.37 L509.7,505.52 L510.2,506.34 L510.7,506.11 L511.2,506.29 L511.7,507.73 L512.2,508.1 L512.7,506.99 L513.2,507.85 L513.7,509.02 L514.2,509.74 L514.7,508.89 L515.2,509.27 L515.7,508.54 L516.2,510.82 L516.7,509.43 L517.2,509.44 L517.7,508.99 L518.2,508.79 L518.7,508.21 L519.2,507.24 L519.7,507.49 L520.2,506.72 L520.7,507.13 L521.2,505.66 L521.7,505.59 L522.2,506.21 L522.7,506.58 L523.2,505.98 L523.7,505.63 L524.2,506.23 L524.7,506.31 L525.2,508.11 L525.7,507.9 L526.2,508.52 L526.7,508.34 L527.2,508.19 L527.7,509.55 L528.2,510.09 L528.7,509.63 L529.2,509.37 L529.7,510.04 L530.2,509.09 L530.7,509.6 L531.2,508.47 L531.7,508.01 L532.2,508.57 L532.7,508.04 L533.2,508.58 L533.7,506.88 L534.2,506.69 L534.7,505.67 L535.2,504.98 L535.7,504.85 L536.2,506.09 L536.7,505.1 L537.2,506.56 L537.7,506.91 L538.2,506.13 L538.7,507.6 L539.2,507.1 L539.7,508.03 L540.2,507.63 L540.7,508.73 L541.2,507.96 L541.7,509.22 L542.2,508.83 L542.7,509.21 L543.2,509.76 L543.7,509.5 L544.2,509.27 L544.7,509.58 L545.2,509.38 L545.7,507.76 L546.2,508.57 L546.7,508.24 L547.2,506.99 L547.7,507.28 L548.2,505.88 L548.7,507.22 L549.2,505.96 L549.7,505.87 L550.2,506.53 L550.7,505.72 L551.2,506.25 L551.7,505.43 L552.2,505.96 L552.7,505.77 L553.2,506.84 L553.7,507.98 L554.2,507.9 L554.7,508.69 L555.2,507.91 L555.7,508.31 L556.2,508.82 L556.7,509.63 L557.2,509.6 L557.7,509.38 L558.2,509.69 L558.7,509.05 L559.2,508.89 L559.7,509.37 L560.2,507.88 L560.7,507.95 L561.2,508.41 L561.7,507.1 L562.2,507.1 L562.7,505.99 L563.2,507.27 L563.7,504.56 L564.2,505.14 L564.7,505.17 L565.2,506.86 L565.7,506.27 L566.2,506.14 L566.7,505.84 L567.2,507.19 L567.7,507.43 L568.2,507.35 L568.7,507.26 L569.2,507.86 L569.7,508.97 L570.2,509.29 L570.7,509.33 L571.2,509.29 L571.7,508.33 L572.2,509.34 L572.7,508.53 L573.2,508.93 L573.7,508.87 L574.2,507.83 L574.7,507.23 L575.2,508.03 L575.7,507.25 L576.2,506.29 L576.7,504.56 L577.2,506.07 L577.7,506.29 L578.2,506.49 L578.7,505.4 L579.2,505.5 L579.7,505.79 L580.2,506.8 L580.7,505.9 L581.2,506.9 L581.7,506.8 L582.2,507.92 L582.7,507.22 L583.2,508.75 L583.7,508.55 L584.2,508.97 L584.7,509.6 L585.2,510.07 L585.7,508.37 L586.2,509.91 L586.7,509.48 L587.2,508.72 L587.7,509.43 L588.2,508.35 L588.7,508.62 L589.2,507.08 L589.7,506.52 L590.2,508.33 L590.7,508.9 L591.2,507.98 L591.7,508.13 L592.2,507.32 L592.7,506.8 L593.2,507.46 L593.7,508.5 L594.2,506.48 L594.7,507.3 L595.2,506.45 L595.7,507.66 L596.2,508.12 L596.7,506.85 L597.2,507.35 L597.7,508.4 L598.2,507.55 L598.7,506.86 L599.2,506.81 L599.7,506.39 L600.2,508.06 L600.7,507.15 L601.2,508.23 L601.7,508.12 L602.2,507.2 L602.7,507.28 L603.2,508.07 L603.7,507.69 L604.2,507.76 L604.7,506.61 L605.2,508.14 L605.7,507.07 L606.2,506.24 L606.7,507.23 L607.2,507.85 L607.7,508.86 L608.2,507.38 L608.7,506.8 L609.2,508.87 L609.7,507.7 L610.2,507.44 L610.7,506.95 L611.2,507 L611.7,508.49 L612.2,507.44 L612.7,507.28 L613.2,507.29 L613.7,508.54 L614.2,507.25 L614.7,507.98 L615.2,507.76 L615.7,507.74 L616.2,507.07 L616.7,508 L617.2,508.57 L617.7,507.57 L618.2,507.05 L618.7,506.83 L619.2,507.71 L619.7,507.44 L620.2,507.54 L620.7,507.61 L621.2,506.71 L621.7,508.07 L622.2,507.74 L622.7,507.56 L623.2,507.74 L623.7,508.16 L624.2,507.63 L624.7,507.09 L625.2,508.3 L625.7,507.34 L626.2,507.16 L626.7,506.66 L627.2,507.6 L627.7,506.97 L628.2,507.29 L628.7,507.87 L629.2,507.62 L629.7,508.21 L630.2,507.78 L630.7,507.36 L631.2,507.4 L631.7,507.3 L632.2,507.99 L632.7,507.61 L633.2,507.35 L633.7,508.11 L634.2,507.66 L634.7,507.32 L635.2,506.69 L635.7,507.86 L636.2,507.74 L636.7,507.63 L637.2,507.34 L637.7,507.1 L638.2,507.46 L638.7,507.74 L639.2,507.52 L639.7,507.51 L640.2,507.32 L640.7,507.8 L641.2,507.74 L641.7,507.15 L642.2,508.06 L642.7,508.07 L643.2,508.09 L643.7,507.52 L644.2,507.48 L644.7,506.9 L645.2,508.05 L645.7,506.32 L646.2,507.37 L646.7,507.4 L647.2,508.11 L647.7,507.6 L648.2,507.02 L648.7,506.74 L649.2,507.16 L649.7,507.66 L650.2,507.63 L650.7,507.48 L651.2,507.19 L651.7,507.47 L652.2,508.2 L652.7,506.94 L653.2,507.62 L653.7,508.57 L654.2,507.93 L654.7,507.33 L655.2,508 L655.7,507.15 L656.2,507.6 L656.7,508.53 L657.2,508.74 L657.7,506.57 L658.2,508.02 L658.7,508.77 L659.2,507.27 L659.7,507.76 L660.2,508.5 L660.7,507.3 L661.2,507.87 L661.7,507.56 L662.2,506.44 L662.7,507.81 L663.2,507.49 L663.7,508.16 L664.2,508.86 L664.7,508.01 L665.2,507.38 L665.7,507.87 L666.2,507.72 L666.7,508.21 L667.2,506.74 L667.7,506.9 L668.2,506.37 L668.7,507.96 L669.2,507.59 L669.7,507.22 L670.2,507.16 L670.7,507.26 L671.2,507.04 L671.7,507.41 L672.2,507.3 L672.7,508.43 L673.2,507.79 L673.7,507.11 L674.2,507.25 L674.7,508.32 L675.2,507.87 L675.7,507.78 L676.2,508.03 L676.7,508.55 L677.2,506.87 L677.7,507.15 L678.2,506.56 L678.7,507.9 L679.2,507.37 L679.7,507.2 L680.2,507.14 L680.7,508.01" fill="none" stroke="#808000" stroke-width="1.8" stroke-linejoin="round" stroke-linecap="round" />
<path d="M406.2,509.34 L407,506.87 L407.8,507.45 L408.6,507.89 L409.4,506.52 L410.2,507.43 L411,507.44 L411.8,505.43 L412.6,508.62 L413.4,508.15 L414.2,506.74 L415,507.27 L415.8,508.06 L416.6,507.18 L417.4,507.21 L418.2,505.82 L419,508.14 L419.8,507.65 L420.6,507.83 L421.4,505.76 L422.2,509.42 L423,507.71 L423.8,507.09 L424.6,509.88 L425.4,507.5 L426.2,505.88 L427,507.09 L427.8,504.93 L428.6,508.77 L429.4,507.09 L430.2,506.72 L431,508.81 L431.8,505.69 L432.6,508.2 L433.4,505.22 L434.2,506.83 L435,506.21 L435.8,509.28 L436.6,509.63 L437.4,507.22 L438.2,508.57 L439,507.39 L439.8,508.25 L440.6,506.73 L441.4,505.63 L442.2,505.52 L443,508.04 L443.8,510.18 L444.6,507.9 L445.4,506.99 L446.2,509.79 L447,507.86 L447.8,507.7 L448.6,507.87 L449.4,507.43 L450.2,507.22 L451,505.92 L451.8,508.15 L452.6,507.46 L453.4,508.93 L454.2,507.13 L455,505.36 L455.8,507.43 L456.6,509.49 L457.4,507.09 L458.2,506.5 L459,506.15 L459.8,506.3 L460.6,507.16 L461.4,506.13 L462.2,509.2 L463,507.14 L463.8,507.58 L464.6,509.09 L465.4,509.15 L466.2,507.16 L467,507.77 L467.8,508.21 L468.6,507.12 L469.4,505.27 L470.2,508.04 L471,508.29 L471.8,507.7 L472.6,506.12 L473.4,506.92 L474.2,506.41 L475,506.69 L475.8,508.47 L476.6,508.68 L477.4,507.62 L478.2,507.41 L479,507.48 L479.8,506.6 L480.6,506.44 L481.4,505.66 L482.2,506.28 L483,508.84 L483.8,507.14 L484.6,505.65 L485.4,505.41 L486.2,504.86 L487,506.17 L487.8,506.05 L488.6,503.75 L489.4,505.73 L490.2,504.29 L491,506.35 L491.8,504.64 L492.6,506.14 L493.4,503.29 L494.2,503.05 L495,503.16 L495.8,503.34 L496.6,502.02 L497.4,499.23 L498.2,500.18 L499,499.2 L499.8,497.53 L500.6,495.76 L501.4,496.35 L502.2,490.82 L503,485.03 L503.8,479.23 L504.6,469.84 L505.4,459 L505.8,451.66 L506.2,444.09 L506.6,437.1 L507,431.5 L507.4,427.99 L507.8,427.48 L508.2,430.83 L508.6,437.68 L509,447.18 L509.4,458.48 L509.8,470.74 L510.2,483.1 L510.6,494.73 L511,505.42 L511.4,518.16 L511.8,532.28 L512.2,546.08 L512.6,557.98 L513,566.89 L513.4,572.02 L513.8,573.48 L514.2,571.91 L514.6,567.95 L515,562.48 L515.4,555.92 L515.8,548.53 L516.2,540.72 L516.6,532.7 L517,524.74 L517.4,517.09 L517.8,510 L518.2,502.76 L518.6,494.73 L519,486.19 L519.4,477.4 L519.8,468.69 L520.2,460.36 L520.6,452.82 L521,446.34 L521.4,441.73 L521.8,439.4 L522.2,440.76 L522.6,445.7 L523,454.06 L523.4,465.15 L523.8,477.62 L524.2,489.8 L524.6,500 L525,509.77 L525.4,520.94 L525.8,532.42 L526.2,543.09 L526.6,551.82 L527,557.48 L527.4,559 L527.8,556.01 L528.2,549.46 L528.6,540.46 L529,530.06 L529.4,519.31 L529.8,509.33 L530.2,500.64 L530.6,490.4 L531,479.25 L531.4,468.72 L531.8,460.48 L532.2,455.76 L532.6,455.36 L533,459.13 L533.4,465.96 L533.8,474.82 L534.2,484.89 L534.6,495.41 L535,505.7 L535.4,515 L535.8,524.98 L536.2,537.07 L536.6,549.72 L537,561.26 L537.4,570.36 L537.8,576.21 L538.2,578.41 L538.6,577.49 L539,573.96 L539.4,568.83 L539.8,562.35 L540.2,555.07 L540.6,547.27 L541,539.14 L541.4,530.96 L541.8,522.94 L542.2,515.29 L542.6,508.22 L543,500.78 L543.4,492.69 L543.8,484.18 L544.2,475.55 L544.6,467.04 L545,458.9 L545.4,451.5 L545.8,445.1 L546.2,440.16 L546.6,437.5 L547,437.76 L547.4,441.54 L547.8,448.95 L548.2,459.29 L548.6,471.54 L549,484.12 L549.4,495.33 L549.8,504.51 L550.2,514.51 L550.6,525.16 L551,535.75 L551.4,545.54 L551.8,553.72 L552.2,559.32 L552.6,561.05 L553,557.97 L553.4,550.51 L553.8,539.73 L554.2,527.46 L554.6,515.58 L555,505.6 L555.4,494.65 L555.8,482.28 L556.2,470.48 L556.6,461.1 L557,455.65 L557.4,454.92 L557.8,458.66 L558.2,465.57 L558.6,474.54 L559,484.7 L559.4,495.3 L559.8,505.65 L560.2,515 L560.6,524.98 L561,537 L561.4,549.59 L561.8,561.1 L562.2,570.25 L562.6,576.14 L563,578.4 L563.4,577.43 L563.8,573.71 L564.2,568.29 L564.6,561.47 L565,553.86 L565.4,545.72 L565.8,537.32 L566.2,528.97 L566.6,520.89 L567,513.47 L567.4,506.54 L567.8,499.15 L568.2,491.13 L568.6,482.88 L569,474.63 L569.4,466.73 L569.8,459.42 L570.2,452.98 L570.6,448.08 L571,444.93 L571.4,444.54 L571.8,447.21 L572.2,453.41 L572.6,462.46 L573,473.72 L573.4,486.22 L573.8,498.74 L574.2,510.09 L574.6,519.77 L575,530.09 L575.4,541.01 L575.8,552.01 L576.2,562.57 L576.6,572.04 L577,579.78 L577.4,584.93 L577.8,586.32 L578.2,583.69 L578.6,577.84 L579,569.82 L579.4,560.98 L579.8,553.05 L580.2,547.41 L580.6,542.07 L581,537.1 L581.4,533.08 L581.8,529.93 L582.2,527.38 L582.6,525.17 L583,523.18 L583.4,521.36 L583.8,519.68 L584.6,516.44 L585.4,512.99 L586.2,512.16 L587,511.43 L587.8,509.09 L588.6,509.53 L589.4,510.13 L590.2,508.87 L591,508.14 L591.8,509.64 L592.6,508.49 L593.4,508.75 L594.2,509.58 L595,509.51 L595.8,507.75 L596.6,507.51 L597.4,508.42 L598.2,507.91 L599,505.85 L599.8,509.47 L600.6,508.01 L601.4,508.81 L602.2,506.59 L603,509.4 L603.8,507.23 L604.6,507.77 L605.4,506.26 L606.2,507.67 L607,507.59 L607.8,507.63 L608.6,508.33 L609.4,507.89 L610.2,508.93 L611,507.26 L611.8,506.64 L612.6,507.76 L613.4,508.5 L614.2,509.2 L615,508.69 L615.8,505.72 L616.6,508.18 L617.4,509.42 L618.2,507.8 L619,507.13 L619.8,508.07 L620.6,507.13 L621.4,508.44 L622.2,507.69 L623,509.3 L623.8,508.27 L624.6,506.85 L625.4,508.38 L626.2,508.75 L627,507.02 L627.8,507.18 L628.6,505.01 L629.4,508.7 L630.2,506.98 L631,505.21 L631.8,505.61 L632.6,507.39 L633.4,508.51 L634.2,507.53 L635,508.17 L635.8,506.36 L636.6,506.08 L637.4,508.63 L638.2,508.18 L639,507.57 L639.8,509.08 L640.6,506.5 L641.4,507.11 L642.2,508.77 L643,509.7 L643.8,507.59 L644.6,509.51 L645.4,506.88 L646.2,507.95 L647,507.37 L647.8,505.74 L648.6,507.86 L649.4,508.63 L650.2,507.38 L651,507.47 L651.8,509.15 L652.6,506.11 L653.4,505.82 L654.2,506.79 L655,506.16 L655.8,509.09 L656.6,507.89 L657.4,506.54 L658.2,506.83 L659,510.82 L659.8,506.83 L660.6,506.65 L661.4,507.88 L662.2,508.26 L663,507.78 L663.8,506.48 L664.6,506.19 L665.4,508.21 L666.2,507.46 L667,505.63 L667.8,508.86 L668.6,508.41 L669.4,507.24 L670.2,507.22 L671,507.78 L671.8,506.72 L672.6,505.96 L673.4,507.88 L674.2,505.86 L675,507.96 L675.8,505.85 L676.6,507.39 L677.4,507.35 L678.2,509.55 L679,506.28 L679.8,505.87 L680.6,506.76" fill="none" stroke="#85004d" stroke-width="2.0" stroke-linejoin="round" stroke-linecap="round" />
<text x="616" y="412.4" font-size="25.5" font-weight="bold" >e</text>
<text x="579.7" y="443.5" font-size="17" fill="#85004d" ><tspan font-weight="bold">1</tspan>-BAr<tspan font-size="12" dy="4">F</tspan><tspan dy="-4"> </tspan><tspan font-style="italic">hv</tspan> O<tspan font-size="12" dy="4">2</tspan></text>
<text x="579.7" y="469.1" font-size="17" fill="#808000" ><tspan font-weight="bold">L</tspan><tspan font-size="12.5" font-weight="bold" dy="-4.5">1</tspan><tspan dy="4.5">-BAr</tspan><tspan font-size="12" dy="4">F</tspan><tspan dy="-4"> </tspan><tspan font-style="italic">hv</tspan> O<tspan font-size="12" dy="4">2</tspan></text>
<text x="594.8" y="533.4" font-size="15" >10 G</text>
<path d="M600.8,538.8 H620.7 M600.8,536.7 V541.1 M620.7,536.7 V541.1" stroke="#000" stroke-width="1.3" fill="none"/>
<defs><radialGradient id="gRed" cx="0.5" cy="0.5" r="0.5" fx="0.36" fy="0.34"><stop offset="0" stop-color="#ffffff"/><stop offset="0.14" stop-color="#ffffff" stop-opacity="1"/><stop offset="0.5" stop-color="#ee3a3a"/><stop offset="0.86" stop-color="#ee3a3a"/><stop offset="1" stop-color="#a01818"/></radialGradient></defs>
<defs><radialGradient id="gSB" cx="0.5" cy="0.5" r="0.5" fx="0.36" fy="0.34"><stop offset="0" stop-color="#ffffff"/><stop offset="0.14" stop-color="#ffffff" stop-opacity="1"/><stop offset="0.5" stop-color="#1f72b8"/><stop offset="0.86" stop-color="#1f72b8"/><stop offset="1" stop-color="#0c3e70"/></radialGradient></defs>
<defs><radialGradient id="gBlk" cx="0.5" cy="0.5" r="0.5" fx="0.36" fy="0.34"><stop offset="0" stop-color="#ffffff"/><stop offset="0.14" stop-color="#ffffff" stop-opacity="1"/><stop offset="0.5" stop-color="#111111"/><stop offset="0.86" stop-color="#111111"/><stop offset="1" stop-color="#000000"/></radialGradient></defs>
<defs><radialGradient id="gGrn" cx="0.5" cy="0.5" r="0.5" fx="0.36" fy="0.34"><stop offset="0" stop-color="#ffffff"/><stop offset="0.14" stop-color="#ffffff" stop-opacity="1"/><stop offset="0.5" stop-color="#4d7d1a"/><stop offset="0.86" stop-color="#4d7d1a"/><stop offset="1" stop-color="#2a4a08"/></radialGradient></defs>
<rect x="59.3" y="621.3" width="280.59999999999997" height="229.9000000000001" fill="none" stroke="#000" stroke-width="1.5"/>
<line x1="53.8" y1="851" x2="59.3" y2="851" stroke="#000" stroke-width="1.3"/>
<text x="49.8" y="856.6" font-size="19.5" text-anchor="end" >0.0</text>
<line x1="56.099999999999994" y1="830.17" x2="59.3" y2="830.17" stroke="#000" stroke-width="1.3"/>
<line x1="53.8" y1="809.34" x2="59.3" y2="809.34" stroke="#000" stroke-width="1.3"/>
<text x="49.8" y="814.94" font-size="19.5" text-anchor="end" >0.2</text>
<line x1="56.099999999999994" y1="788.51" x2="59.3" y2="788.51" stroke="#000" stroke-width="1.3"/>
<line x1="53.8" y1="767.68" x2="59.3" y2="767.68" stroke="#000" stroke-width="1.3"/>
<text x="49.8" y="773.28" font-size="19.5" text-anchor="end" >0.4</text>
<line x1="56.099999999999994" y1="746.85" x2="59.3" y2="746.85" stroke="#000" stroke-width="1.3"/>
<line x1="53.8" y1="726.02" x2="59.3" y2="726.02" stroke="#000" stroke-width="1.3"/>
<text x="49.8" y="731.62" font-size="19.5" text-anchor="end" >0.6</text>
<line x1="56.099999999999994" y1="705.19" x2="59.3" y2="705.19" stroke="#000" stroke-width="1.3"/>
<line x1="53.8" y1="684.36" x2="59.3" y2="684.36" stroke="#000" stroke-width="1.3"/>
<text x="49.8" y="689.96" font-size="19.5" text-anchor="end" >0.8</text>
<line x1="56.099999999999994" y1="663.53" x2="59.3" y2="663.53" stroke="#000" stroke-width="1.3"/>
<line x1="53.8" y1="642.7" x2="59.3" y2="642.7" stroke="#000" stroke-width="1.3"/>
<text x="49.8" y="648.3" font-size="19.5" text-anchor="end" >1.0</text>
<line x1="56.099999999999994" y1="621.87" x2="59.3" y2="621.87" stroke="#000" stroke-width="1.3"/>
<line x1="62.8" y1="851.2" x2="62.8" y2="856.7" stroke="#000" stroke-width="1.3"/>
<text x="62.8" y="874.3" font-size="19.5" text-anchor="middle" >0</text>
<line x1="84.7" y1="851.2" x2="84.7" y2="854.4000000000001" stroke="#000" stroke-width="1.3"/>
<line x1="106.6" y1="851.2" x2="106.6" y2="856.7" stroke="#000" stroke-width="1.3"/>
<text x="106.6" y="874.3" font-size="19.5" text-anchor="middle" >5</text>
<line x1="128.5" y1="851.2" x2="128.5" y2="854.4000000000001" stroke="#000" stroke-width="1.3"/>
<line x1="150.4" y1="851.2" x2="150.4" y2="856.7" stroke="#000" stroke-width="1.3"/>
<text x="150.4" y="874.3" font-size="19.5" text-anchor="middle" >10</text>
<line x1="172.3" y1="851.2" x2="172.3" y2="854.4000000000001" stroke="#000" stroke-width="1.3"/>
<line x1="194.2" y1="851.2" x2="194.2" y2="856.7" stroke="#000" stroke-width="1.3"/>
<text x="194.2" y="874.3" font-size="19.5" text-anchor="middle" >15</text>
<line x1="216.1" y1="851.2" x2="216.1" y2="854.4000000000001" stroke="#000" stroke-width="1.3"/>
<line x1="238" y1="851.2" x2="238" y2="856.7" stroke="#000" stroke-width="1.3"/>
<text x="238" y="874.3" font-size="19.5" text-anchor="middle" >20</text>
<line x1="259.9" y1="851.2" x2="259.9" y2="854.4000000000001" stroke="#000" stroke-width="1.3"/>
<line x1="281.8" y1="851.2" x2="281.8" y2="856.7" stroke="#000" stroke-width="1.3"/>
<text x="281.8" y="874.3" font-size="19.5" text-anchor="middle" >25</text>
<line x1="303.7" y1="851.2" x2="303.7" y2="854.4000000000001" stroke="#000" stroke-width="1.3"/>
<line x1="325.6" y1="851.2" x2="325.6" y2="856.7" stroke="#000" stroke-width="1.3"/>
<text x="325.6" y="874.3" font-size="19.5" text-anchor="middle" >30</text>
<text x="192.4" y="897.8" font-size="19.8" text-anchor="middle" >Time (s)</text>
<text x="14.4" y="745" font-size="18.9" text-anchor="middle" transform="rotate(-90 14.4 745.0)">A<tspan font-size="13.5" dy="5.6">t</tspan><tspan dy="-5.6">/A</tspan><tspan font-size="13.5" dy="5.6">0</tspan><tspan dy="-5.6"> at 612 nm</tspan></text>
<text x="9.4" y="635.7" font-size="25.5" font-weight="bold" >f</text>
<g clip-path="url(#clipF)">
<path d="M62.8,642.7 L106.6,643.95 L150.4,643.32 L194.2,642.41 L238,644.78 L281.8,641.66 L325.6,643.74" fill="none" stroke="#ee4444" stroke-width="2.2" stroke-linejoin="round" stroke-linecap="round" />
<path d="M62.8,642.7 L106.6,661.03 L150.4,683.32 L194.2,691.44 L238,699.77 L281.8,706.02 L325.6,716.23" fill="none" stroke="#1f72b8" stroke-width="2.2" stroke-linejoin="round" stroke-linecap="round" />
<path d="M62.8,642.7 L106.6,684.98 L150.4,715.61 L194.2,736.43 L238,760.18 L281.8,770.8 L325.6,789.55" fill="none" stroke="#000000" stroke-width="2.2" stroke-linejoin="round" stroke-linecap="round" />
<path d="M62.8,642.7 L106.6,838.4 L150.4,838.29 L194.2,838.4 L238,837.67 L281.8,839.13 L325.6,838.5" fill="none" stroke="#4d7d1a" stroke-width="2.2" stroke-linejoin="round" stroke-linecap="round" />
<circle cx="62.8" cy="642.7" r="5.7" fill="url(#gRed)"/>
<circle cx="106.6" cy="643.95" r="5.7" fill="url(#gRed)"/>
<circle cx="150.4" cy="643.32" r="5.7" fill="url(#gRed)"/>
<circle cx="194.2" cy="642.41" r="5.7" fill="url(#gRed)"/>
<circle cx="238" cy="644.78" r="5.7" fill="url(#gRed)"/>
<circle cx="281.8" cy="641.66" r="5.7" fill="url(#gRed)"/>
<circle cx="325.6" cy="643.74" r="5.7" fill="url(#gRed)"/>
<circle cx="62.8" cy="642.7" r="5.7" fill="url(#gSB)"/>
<circle cx="106.6" cy="661.03" r="5.7" fill="url(#gSB)"/>
<circle cx="150.4" cy="683.32" r="5.7" fill="url(#gSB)"/>
<circle cx="194.2" cy="691.44" r="5.7" fill="url(#gSB)"/>
<circle cx="238" cy="699.77" r="5.7" fill="url(#gSB)"/>
<circle cx="281.8" cy="706.02" r="5.7" fill="url(#gSB)"/>
<circle cx="325.6" cy="716.23" r="5.7" fill="url(#gSB)"/>
<circle cx="62.8" cy="642.7" r="5.7" fill="url(#gGrn)"/>
<circle cx="106.6" cy="838.4" r="5.7" fill="url(#gGrn)"/>
<circle cx="150.4" cy="838.29" r="5.7" fill="url(#gGrn)"/>
<circle cx="194.2" cy="838.4" r="5.7" fill="url(#gGrn)"/>
<circle cx="238" cy="837.67" r="5.7" fill="url(#gGrn)"/>
<circle cx="281.8" cy="839.13" r="5.7" fill="url(#gGrn)"/>
<circle cx="325.6" cy="838.5" r="5.7" fill="url(#gGrn)"/>
<circle cx="62.8" cy="642.7" r="5.7" fill="url(#gBlk)"/>
<circle cx="106.6" cy="684.98" r="5.7" fill="url(#gBlk)"/>
<circle cx="150.4" cy="715.61" r="5.7" fill="url(#gBlk)"/>
<circle cx="194.2" cy="736.43" r="5.7" fill="url(#gBlk)"/>
<circle cx="238" cy="760.18" r="5.7" fill="url(#gBlk)"/>
<circle cx="281.8" cy="770.8" r="5.7" fill="url(#gBlk)"/>
<circle cx="325.6" cy="789.55" r="5.7" fill="url(#gBlk)"/>
</g>
<text x="238.9" y="669.4" font-size="17" fill="#ee3333" >CH<tspan font-size="12" dy="4">3</tspan><tspan dy="-4">COCH</tspan><tspan font-size="12" dy="4">3</tspan></text>
<text x="262.9" y="733.8" font-size="17" fill="#1f72b8" >DMSO</text>
<text x="195.2" y="789.1" font-size="17" >CH<tspan font-size="12" dy="4">3</tspan><tspan dy="-4">CN</tspan></text>
<text x="120.5" y="825.3" font-size="17" fill="#4d7d1a" >CH<tspan font-size="12" dy="4">3</tspan><tspan dy="-4">OH</tspan></text>
<defs><radialGradient id="gOl" cx="0.5" cy="0.5" r="0.5" fx="0.36" fy="0.34"><stop offset="0" stop-color="#ffffff"/><stop offset="0.14" stop-color="#ffffff" stop-opacity="1"/><stop offset="0.5" stop-color="#7f7f1a"/><stop offset="0.86" stop-color="#7f7f1a"/><stop offset="1" stop-color="#4a4a00"/></radialGradient></defs>
<defs><radialGradient id="gR2" cx="0.5" cy="0.5" r="0.5" fx="0.36" fy="0.34"><stop offset="0" stop-color="#ffffff"/><stop offset="0.14" stop-color="#ffffff" stop-opacity="1"/><stop offset="0.5" stop-color="#ff1010"/><stop offset="0.86" stop-color="#ff1010"/><stop offset="1" stop-color="#a00000"/></radialGradient></defs>
<defs><radialGradient id="gMg" cx="0.5" cy="0.5" r="0.5" fx="0.36" fy="0.34"><stop offset="0" stop-color="#ffffff"/><stop offset="0.14" stop-color="#ffffff" stop-opacity="1"/><stop offset="0.5" stop-color="#ff20ff"/><stop offset="0.86" stop-color="#ff20ff"/><stop offset="1" stop-color="#b000b0"/></radialGradient></defs>
<defs><radialGradient id="gG2" cx="0.5" cy="0.5" r="0.5" fx="0.36" fy="0.34"><stop offset="0" stop-color="#ffffff"/><stop offset="0.14" stop-color="#ffffff" stop-opacity="1"/><stop offset="0.5" stop-color="#1f8f1f"/><stop offset="0.86" stop-color="#1f8f1f"/><stop offset="1" stop-color="#0a500a"/></radialGradient></defs>
<defs><radialGradient id="gB2" cx="0.5" cy="0.5" r="0.5" fx="0.36" fy="0.34"><stop offset="0" stop-color="#ffffff"/><stop offset="0.14" stop-color="#ffffff" stop-opacity="1"/><stop offset="0.5" stop-color="#1a1aff"/><stop offset="0.86" stop-color="#1a1aff"/><stop offset="1" stop-color="#0000a0"/></radialGradient></defs>
<defs><radialGradient id="gNv" cx="0.5" cy="0.5" r="0.5" fx="0.36" fy="0.34"><stop offset="0" stop-color="#ffffff"/><stop offset="0.14" stop-color="#ffffff" stop-opacity="1"/><stop offset="0.5" stop-color="#1a1a8c"/><stop offset="0.86" stop-color="#1a1a8c"/><stop offset="1" stop-color="#0a0a50"/></radialGradient></defs>
<defs><radialGradient id="gPu" cx="0.5" cy="0.5" r="0.5" fx="0.36" fy="0.34"><stop offset="0" stop-color="#ffffff"/><stop offset="0.14" stop-color="#ffffff" stop-opacity="1"/><stop offset="0.5" stop-color="#800080"/><stop offset="0.86" stop-color="#800080"/><stop offset="1" stop-color="#4a004a"/></radialGradient></defs>
<rect x="403.9" y="622.2" width="278.6" height="228.89999999999998" fill="none" stroke="#000" stroke-width="1.5"/>
<line x1="398.4" y1="848.1" x2="403.9" y2="848.1" stroke="#000" stroke-width="1.3"/>
<text x="398.2" y="853.7" font-size="19.5" text-anchor="end" >0.0</text>
<line x1="400.7" y1="812.75" x2="403.9" y2="812.75" stroke="#000" stroke-width="1.3"/>
<line x1="398.4" y1="777.4" x2="403.9" y2="777.4" stroke="#000" stroke-width="1.3"/>
<text x="398.2" y="783" font-size="19.5" text-anchor="end" >0.5</text>
<line x1="400.7" y1="742.05" x2="403.9" y2="742.05" stroke="#000" stroke-width="1.3"/>
<line x1="398.4" y1="706.7" x2="403.9" y2="706.7" stroke="#000" stroke-width="1.3"/>
<text x="398.2" y="712.3" font-size="19.5" text-anchor="end" >1.0</text>
<line x1="400.7" y1="671.35" x2="403.9" y2="671.35" stroke="#000" stroke-width="1.3"/>
<line x1="398.4" y1="636" x2="403.9" y2="636" stroke="#000" stroke-width="1.3"/>
<text x="398.2" y="641.6" font-size="19.5" text-anchor="end" >1.5</text>
<line x1="408.2" y1="851.1" x2="408.2" y2="856.6" stroke="#000" stroke-width="1.3"/>
<text x="408.2" y="873.8" font-size="19.5" text-anchor="middle" >0</text>
<line x1="445.91" y1="851.1" x2="445.91" y2="854.3000000000001" stroke="#000" stroke-width="1.3"/>
<line x1="483.62" y1="851.1" x2="483.62" y2="856.6" stroke="#000" stroke-width="1.3"/>
<text x="483.62" y="873.8" font-size="19.5" text-anchor="middle" >45</text>
<line x1="521.33" y1="851.1" x2="521.33" y2="854.3000000000001" stroke="#000" stroke-width="1.3"/>
<line x1="559.04" y1="851.1" x2="559.04" y2="856.6" stroke="#000" stroke-width="1.3"/>
<text x="559.04" y="873.8" font-size="19.5" text-anchor="middle" >90</text>
<line x1="596.75" y1="851.1" x2="596.75" y2="854.3000000000001" stroke="#000" stroke-width="1.3"/>
<line x1="634.46" y1="851.1" x2="634.46" y2="856.6" stroke="#000" stroke-width="1.3"/>
<text x="634.46" y="873.8" font-size="19.5" text-anchor="middle" >135</text>
<line x1="672.17" y1="851.1" x2="672.17" y2="854.3000000000001" stroke="#000" stroke-width="1.3"/>
<text x="544.5" y="896.1" font-size="19.8" text-anchor="middle" >Time (s)</text>
<text x="364.2" y="741.8" font-size="19" text-anchor="middle" transform="rotate(-90 364.2 741.8)">Abs. at 612 nm</text>
<text x="351" y="635.2" font-size="25.5" font-weight="bold" >g</text>
<g clip-path="url(#clipG)">
<path d="M408.2,839.62 L433.34,821.23 L458.48,807.66 L483.62,794.37 L508.76,783.06 L533.9,779.1 L559.04,771.04 L584.18,762.69 L609.32,760.71" fill="none" stroke="#000000" stroke-width="2.2" stroke-linejoin="round" stroke-linecap="round" />
<circle cx="408.2" cy="839.62" r="5.7" fill="url(#gBlk)"/>
<circle cx="433.34" cy="821.23" r="5.7" fill="url(#gBlk)"/>
<circle cx="458.48" cy="807.66" r="5.7" fill="url(#gBlk)"/>
<circle cx="483.62" cy="794.37" r="5.7" fill="url(#gBlk)"/>
<circle cx="508.76" cy="783.06" r="5.7" fill="url(#gBlk)"/>
<circle cx="533.9" cy="779.1" r="5.7" fill="url(#gBlk)"/>
<circle cx="559.04" cy="771.04" r="5.7" fill="url(#gBlk)"/>
<circle cx="584.18" cy="762.69" r="5.7" fill="url(#gBlk)"/>
<circle cx="609.32" cy="760.71" r="5.7" fill="url(#gBlk)"/>
<path d="M408.2,839.62 L433.34,808.51 L458.48,764.67 L483.62,729.32 L508.76,701.04 L533.9,677.01 L559.04,659.33 L584.18,644.77 L609.32,633.6" fill="none" stroke="#808020" stroke-width="2.2" stroke-linejoin="round" stroke-linecap="round" />
<circle cx="408.2" cy="839.62" r="5.7" fill="url(#gOl)"/>
<circle cx="433.34" cy="808.51" r="5.7" fill="url(#gOl)"/>
<circle cx="458.48" cy="764.67" r="5.7" fill="url(#gOl)"/>
<circle cx="483.62" cy="729.32" r="5.7" fill="url(#gOl)"/>
<circle cx="508.76" cy="701.04" r="5.7" fill="url(#gOl)"/>
<circle cx="533.9" cy="677.01" r="5.7" fill="url(#gOl)"/>
<circle cx="559.04" cy="659.33" r="5.7" fill="url(#gOl)"/>
<circle cx="584.18" cy="644.77" r="5.7" fill="url(#gOl)"/>
<circle cx="609.32" cy="633.6" r="5.7" fill="url(#gOl)"/>
<path d="M408.2,839.62 L433.34,804.27 L458.48,770.33 L483.62,744.88 L508.76,716.6 L533.9,698.22 L559.04,684.64 L584.18,673.19 L609.32,664.28" fill="none" stroke="#ff0000" stroke-width="2.2" stroke-linejoin="round" stroke-linecap="round" />
<circle cx="408.2" cy="839.62" r="5.7" fill="url(#gR2)"/>
<circle cx="433.34" cy="804.27" r="5.7" fill="url(#gR2)"/>
<circle cx="458.48" cy="770.33" r="5.7" fill="url(#gR2)"/>
<circle cx="483.62" cy="744.88" r="5.7" fill="url(#gR2)"/>
<circle cx="508.76" cy="716.6" r="5.7" fill="url(#gR2)"/>
<circle cx="533.9" cy="698.22" r="5.7" fill="url(#gR2)"/>
<circle cx="559.04" cy="684.64" r="5.7" fill="url(#gR2)"/>
<circle cx="584.18" cy="673.19" r="5.7" fill="url(#gR2)"/>
<circle cx="609.32" cy="664.28" r="5.7" fill="url(#gR2)"/>
<path d="M408.2,839.62 L433.34,804.27 L458.48,780.23 L483.62,756.19 L508.76,739.22 L533.9,721.97 L559.04,708.11 L584.18,698.5 L609.32,688.88" fill="none" stroke="#ff00ff" stroke-width="2.2" stroke-linejoin="round" stroke-linecap="round" />
<circle cx="408.2" cy="839.62" r="5.7" fill="url(#gMg)"/>
<circle cx="433.34" cy="804.27" r="5.7" fill="url(#gMg)"/>
<circle cx="458.48" cy="780.23" r="5.7" fill="url(#gMg)"/>
<circle cx="483.62" cy="756.19" r="5.7" fill="url(#gMg)"/>
<circle cx="508.76" cy="739.22" r="5.7" fill="url(#gMg)"/>
<circle cx="533.9" cy="721.97" r="5.7" fill="url(#gMg)"/>
<circle cx="559.04" cy="708.11" r="5.7" fill="url(#gMg)"/>
<circle cx="584.18" cy="698.5" r="5.7" fill="url(#gMg)"/>
<circle cx="609.32" cy="688.88" r="5.7" fill="url(#gMg)"/>
<path d="M408.2,839.62 L433.34,828.3 L458.48,815.58 L483.62,805.68 L508.76,797.62 L533.9,790.13 L559.04,781.64 L584.18,775.99 L609.32,768.49" fill="none" stroke="#1f8f1f" stroke-width="2.2" stroke-linejoin="round" stroke-linecap="round" />
<circle cx="408.2" cy="839.62" r="5.7" fill="url(#gG2)"/>
<circle cx="433.34" cy="828.3" r="5.7" fill="url(#gG2)"/>
<circle cx="458.48" cy="815.58" r="5.7" fill="url(#gG2)"/>
<circle cx="483.62" cy="805.68" r="5.7" fill="url(#gG2)"/>
<circle cx="508.76" cy="797.62" r="5.7" fill="url(#gG2)"/>
<circle cx="533.9" cy="790.13" r="5.7" fill="url(#gG2)"/>
<circle cx="559.04" cy="781.64" r="5.7" fill="url(#gG2)"/>
<circle cx="584.18" cy="775.99" r="5.7" fill="url(#gG2)"/>
<circle cx="609.32" cy="768.49" r="5.7" fill="url(#gG2)"/>
<path d="M408.2,841.03 L433.34,831.13 L458.48,823.36 L483.62,814.87 L508.76,807.09 L533.9,798.04 L559.04,791.54 L584.18,786.17 L609.32,779.66" fill="none" stroke="#1a1aff" stroke-width="2.2" stroke-linejoin="round" stroke-linecap="round" />
<circle cx="408.2" cy="841.03" r="5.7" fill="url(#gB2)"/>
<circle cx="433.34" cy="831.13" r="5.7" fill="url(#gB2)"/>
<circle cx="458.48" cy="823.36" r="5.7" fill="url(#gB2)"/>
<circle cx="483.62" cy="814.87" r="5.7" fill="url(#gB2)"/>
<circle cx="508.76" cy="807.09" r="5.7" fill="url(#gB2)"/>
<circle cx="533.9" cy="798.04" r="5.7" fill="url(#gB2)"/>
<circle cx="559.04" cy="791.54" r="5.7" fill="url(#gB2)"/>
<circle cx="584.18" cy="786.17" r="5.7" fill="url(#gB2)"/>
<circle cx="609.32" cy="779.66" r="5.7" fill="url(#gB2)"/>
<path d="M408.2,842.44 L433.34,832.55 L458.48,826.47 L483.62,816.99 L508.76,809.92 L533.9,801.86 L559.04,796.77 L584.18,794.37 L609.32,791.54" fill="none" stroke="#1a1a8c" stroke-width="2.2" stroke-linejoin="round" stroke-linecap="round" />
<circle cx="408.2" cy="842.44" r="5.7" fill="url(#gNv)"/>
<circle cx="433.34" cy="832.55" r="5.7" fill="url(#gNv)"/>
<circle cx="458.48" cy="826.47" r="5.7" fill="url(#gNv)"/>
<circle cx="483.62" cy="816.99" r="5.7" fill="url(#gNv)"/>
<circle cx="508.76" cy="809.92" r="5.7" fill="url(#gNv)"/>
<circle cx="533.9" cy="801.86" r="5.7" fill="url(#gNv)"/>
<circle cx="559.04" cy="796.77" r="5.7" fill="url(#gNv)"/>
<circle cx="584.18" cy="794.37" r="5.7" fill="url(#gNv)"/>
<circle cx="609.32" cy="791.54" r="5.7" fill="url(#gNv)"/>
<path d="M408.2,841.6 L433.34,841.6 L458.48,841.6 L483.62,841.6 L508.76,841.6 L533.9,841.6 L559.04,841.6 L584.18,841.6 L609.32,841.6" fill="none" stroke="#800080" stroke-width="2.2" stroke-linejoin="round" stroke-linecap="round" />
<circle cx="408.2" cy="841.6" r="5.7" fill="url(#gPu)"/>
<circle cx="433.34" cy="841.6" r="5.7" fill="url(#gPu)"/>
<circle cx="458.48" cy="841.6" r="5.7" fill="url(#gPu)"/>
<circle cx="483.62" cy="841.6" r="5.7" fill="url(#gPu)"/>
<circle cx="508.76" cy="841.6" r="5.7" fill="url(#gPu)"/>
<circle cx="533.9" cy="841.6" r="5.7" fill="url(#gPu)"/>
<circle cx="559.04" cy="841.6" r="5.7" fill="url(#gPu)"/>
<circle cx="584.18" cy="841.6" r="5.7" fill="url(#gPu)"/>
<circle cx="609.32" cy="841.6" r="5.7" fill="url(#gPu)"/>
</g>
<text x="423.3" y="653.4" font-size="16.8" ><tspan font-weight="bold">1</tspan>-BAr<tspan font-size="12" dy="4">F</tspan><tspan dy="-4"> + anion</tspan></text>
<text x="624.4" y="639.9" font-size="16.8" fill="#808020" >+ Br<tspan font-size="12" dy="-7">−</tspan></text>
<text x="624.4" y="667.7" font-size="16.8" fill="#ff0000" >+ Cl<tspan font-size="12" dy="-7">−</tspan></text>
<text x="624.4" y="692.9" font-size="16.8" fill="#ff00ff" >+ SCN<tspan font-size="12" dy="-7">−</tspan></text>
<text x="624.4" y="751.4" font-size="16.8" ><tspan font-weight="bold">1</tspan>-BAr<tspan font-size="12" dy="4">F</tspan></text>
<text x="624.4" y="771.6" font-size="16.8" fill="#1f8f1f" >+ Tf<tspan font-size="12" dy="4">2</tspan><tspan dy="-4">N</tspan><tspan font-size="12" dy="-7">−</tspan></text>
<text x="624.4" y="794.3" font-size="16.8" fill="#1a1aff" >+ NO<tspan font-size="12" dy="4">3</tspan><tspan font-size="12" dy="-11">−</tspan></text>
<text x="624.4" y="815.3" font-size="16.8" fill="#1a1a8c" >+ TfO<tspan font-size="12" dy="-7">−</tspan></text>
<text x="624.4" y="846" font-size="16.8" fill="#800080" >+ I<tspan font-size="12" dy="-7">−</tspan></text></svg></body></html>
